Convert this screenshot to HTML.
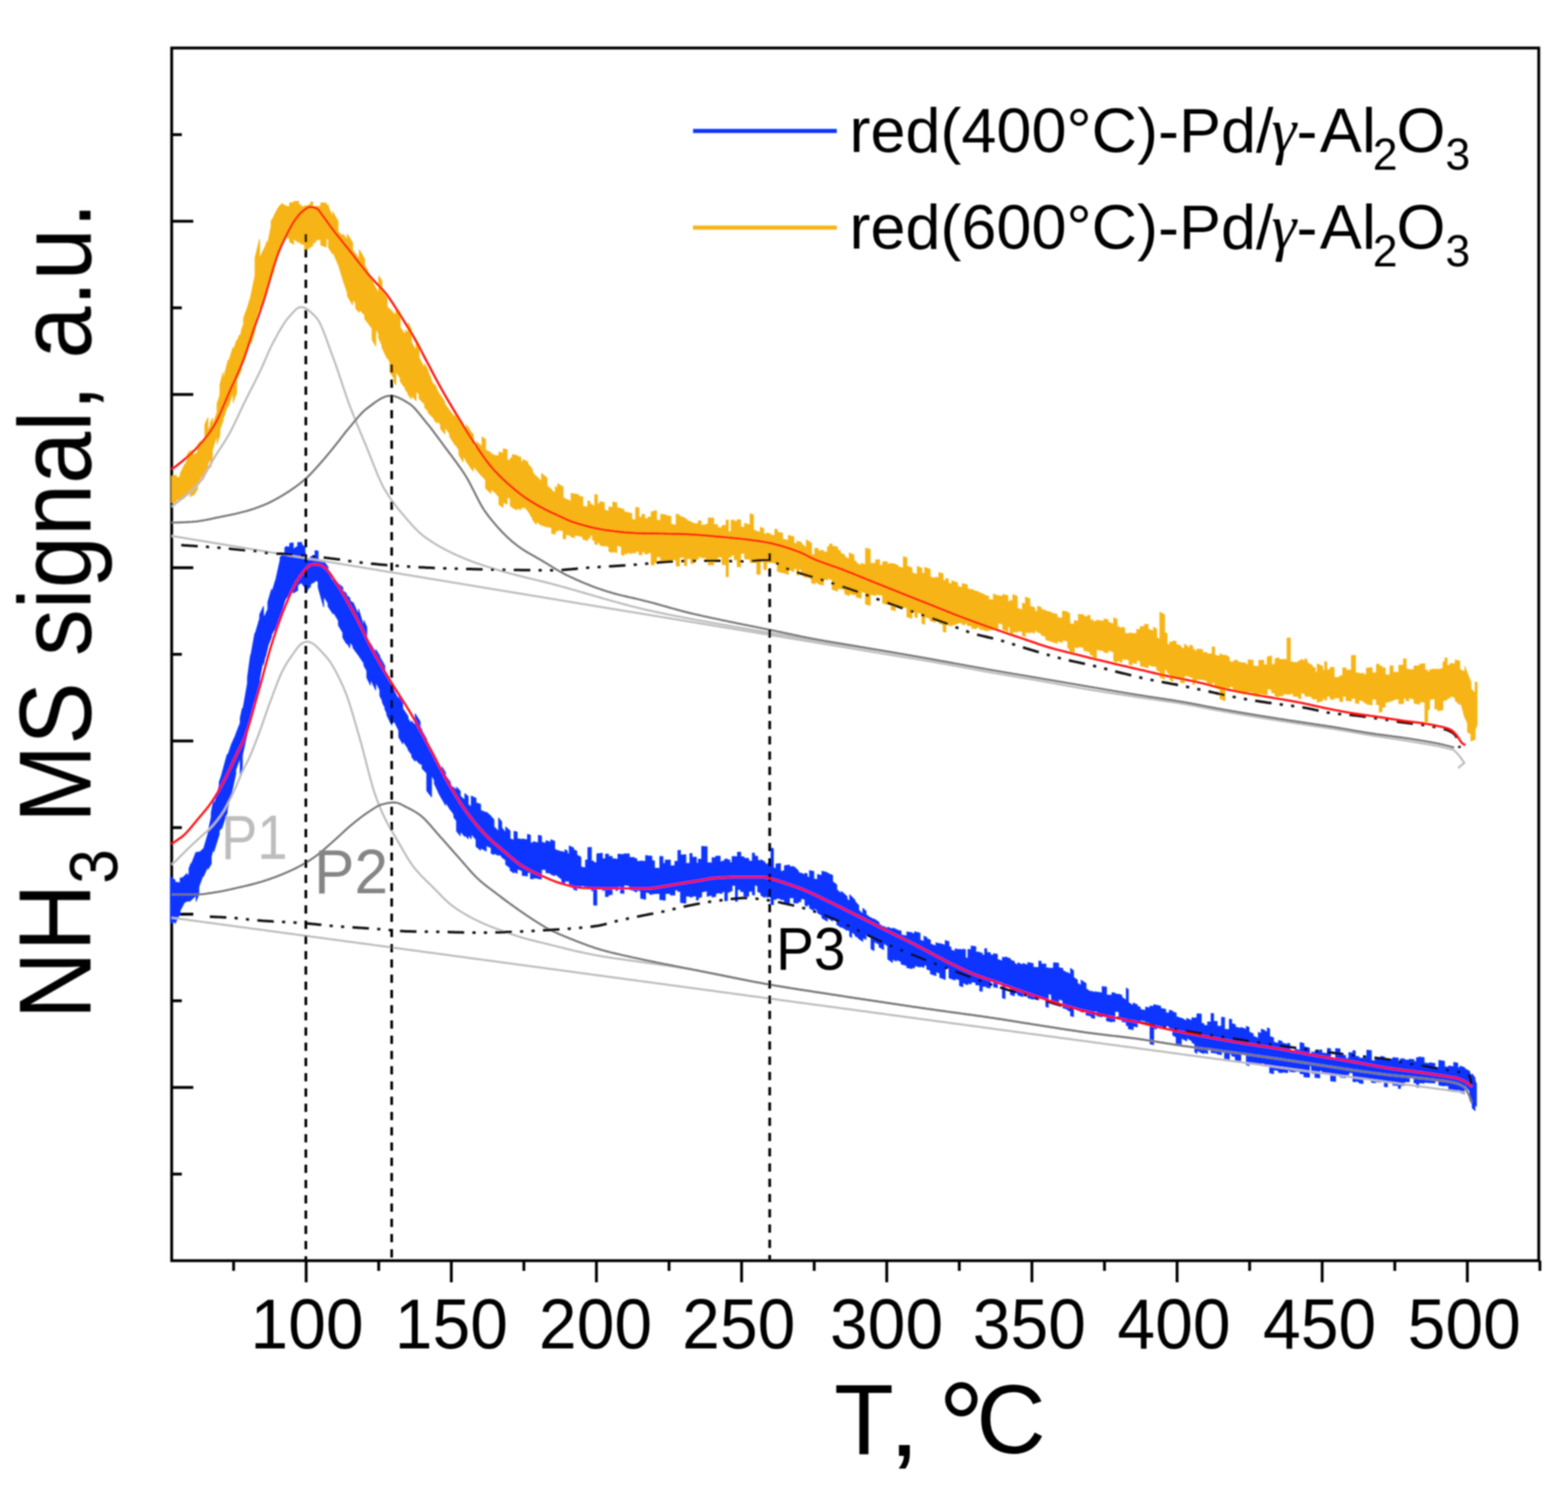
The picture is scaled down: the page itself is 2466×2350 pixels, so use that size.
<!DOCTYPE html><html><head><meta charset="utf-8"><style>html,body{margin:0;padding:0;background:#fff;}svg{display:block;}text{font-family:"Liberation Sans",Arial,sans-serif;font-kerning:none;}</style></head><body>
<svg xmlns="http://www.w3.org/2000/svg" width="2466" height="2350" viewBox="0 0 2466 2350">
<defs><filter id="soft" x="0" y="0" width="100%" height="100%" filterUnits="userSpaceOnUse"><feGaussianBlur stdDeviation="1.3"/></filter></defs>
<rect x="0" y="0" width="2466" height="2350" fill="#fff"/>
<g filter="url(#soft)">
<rect x="270" y="75.5" width="2150" height="1907.5" fill="none" stroke="#000" stroke-width="4.5"/>
<line x1="270" y1="1846.8" x2="286" y2="1846.8" stroke="#000" stroke-width="4.5"/>
<line x1="270" y1="1710.5" x2="304" y2="1710.5" stroke="#000" stroke-width="4.5"/>
<line x1="270" y1="1574.2" x2="286" y2="1574.2" stroke="#000" stroke-width="4.5"/>
<line x1="270" y1="1438.0" x2="304" y2="1438.0" stroke="#000" stroke-width="4.5"/>
<line x1="270" y1="1301.8" x2="286" y2="1301.8" stroke="#000" stroke-width="4.5"/>
<line x1="270" y1="1165.5" x2="304" y2="1165.5" stroke="#000" stroke-width="4.5"/>
<line x1="270" y1="1029.2" x2="286" y2="1029.2" stroke="#000" stroke-width="4.5"/>
<line x1="270" y1="893.0" x2="304" y2="893.0" stroke="#000" stroke-width="4.5"/>
<line x1="270" y1="756.8" x2="286" y2="756.8" stroke="#000" stroke-width="4.5"/>
<line x1="270" y1="620.5" x2="304" y2="620.5" stroke="#000" stroke-width="4.5"/>
<line x1="270" y1="484.2" x2="286" y2="484.2" stroke="#000" stroke-width="4.5"/>
<line x1="270" y1="348.0" x2="304" y2="348.0" stroke="#000" stroke-width="4.5"/>
<line x1="270" y1="211.8" x2="286" y2="211.8" stroke="#000" stroke-width="4.5"/>
<line x1="367.4" y1="1983" x2="367.4" y2="1999" stroke="#000" stroke-width="4.5"/>
<line x1="481.5" y1="1983" x2="481.5" y2="2017" stroke="#000" stroke-width="4.5"/>
<line x1="595.6" y1="1983" x2="595.6" y2="1999" stroke="#000" stroke-width="4.5"/>
<line x1="709.8" y1="1983" x2="709.8" y2="2017" stroke="#000" stroke-width="4.5"/>
<line x1="823.9" y1="1983" x2="823.9" y2="1999" stroke="#000" stroke-width="4.5"/>
<line x1="938.0" y1="1983" x2="938.0" y2="2017" stroke="#000" stroke-width="4.5"/>
<line x1="1052.2" y1="1983" x2="1052.2" y2="1999" stroke="#000" stroke-width="4.5"/>
<line x1="1166.3" y1="1983" x2="1166.3" y2="2017" stroke="#000" stroke-width="4.5"/>
<line x1="1280.5" y1="1983" x2="1280.5" y2="1999" stroke="#000" stroke-width="4.5"/>
<line x1="1394.6" y1="1983" x2="1394.6" y2="2017" stroke="#000" stroke-width="4.5"/>
<line x1="1508.7" y1="1983" x2="1508.7" y2="1999" stroke="#000" stroke-width="4.5"/>
<line x1="1622.9" y1="1983" x2="1622.9" y2="2017" stroke="#000" stroke-width="4.5"/>
<line x1="1737.0" y1="1983" x2="1737.0" y2="1999" stroke="#000" stroke-width="4.5"/>
<line x1="1851.2" y1="1983" x2="1851.2" y2="2017" stroke="#000" stroke-width="4.5"/>
<line x1="1965.3" y1="1983" x2="1965.3" y2="1999" stroke="#000" stroke-width="4.5"/>
<line x1="2079.4" y1="1983" x2="2079.4" y2="2017" stroke="#000" stroke-width="4.5"/>
<line x1="2193.6" y1="1983" x2="2193.6" y2="1999" stroke="#000" stroke-width="4.5"/>
<line x1="2307.7" y1="1983" x2="2307.7" y2="2017" stroke="#000" stroke-width="4.5"/>
<line x1="2421.8" y1="1983" x2="2421.8" y2="1999" stroke="#000" stroke-width="4.5"/>
<text transform="translate(482.9,2120.5) scale(0.965,1)" font-size="110.6" text-anchor="middle" fill="#000">100</text>
<text transform="translate(709.9,2120.5) scale(0.965,1)" font-size="110.6" text-anchor="middle" fill="#000">150</text>
<text transform="translate(936.6,2120.5) scale(0.965,1)" font-size="110.6" text-anchor="middle" fill="#000">200</text>
<text transform="translate(1161.9,2120.5) scale(0.965,1)" font-size="110.6" text-anchor="middle" fill="#000">250</text>
<text transform="translate(1394.2,2120.5) scale(0.965,1)" font-size="110.6" text-anchor="middle" fill="#000">300</text>
<text transform="translate(1618.9,2120.5) scale(0.965,1)" font-size="110.6" text-anchor="middle" fill="#000">350</text>
<text transform="translate(1846.4,2120.5) scale(0.965,1)" font-size="110.6" text-anchor="middle" fill="#000">400</text>
<text transform="translate(2075.4,2120.5) scale(0.965,1)" font-size="110.6" text-anchor="middle" fill="#000">450</text>
<text transform="translate(2302.9,2120.5) scale(0.965,1)" font-size="110.6" text-anchor="middle" fill="#000">500</text>
<text transform="translate(1311.7,2288.1) scale(0.98,1.0065)" font-size="157" fill="#000">T</text>
<text transform="translate(1396.9,2289.5) scale(1.15,1.0)" font-size="157" fill="#000">,</text>
<text transform="translate(1475.6,2309.4) scale(0.96,1.015)" font-size="190" fill="#000">°</text>
<text transform="translate(1535.4,2285.8) scale(0.963,0.985)" font-size="157" fill="#000">C</text>
<text transform="translate(142.5,1603.3) rotate(-90) scale(0.923,1.008)" font-size="160" fill="#000">NH<tspan font-size="106" dy="42">3</tspan><tspan dy="-42"> MS signal, a.u.</tspan></text>
<polygon points="270.0,748.9 273.8,749.6 273.8,747.4 277.2,747.7 277.2,751.4 283.3,750.0 283.3,745.6 290.3,730.4 290.3,733.4 294.5,723.0 294.5,715.1 298.9,709.0 298.9,711.3 303.6,707.7 303.6,716.7 310.6,711.6 310.6,700.0 315.7,693.9 315.7,702.9 318.8,697.4 318.8,696.8 322.1,689.8 322.1,668.0 327.0,656.8 327.0,678.3 330.8,669.5 330.8,665.2 334.0,657.5 334.0,669.1 341.3,649.2 341.3,635.2 345.9,621.1 345.9,604.9 350.8,585.9 350.8,598.2 358.8,566.2 358.8,571.4 366.5,546.5 366.5,552.2 372.2,535.2 372.2,539.3 376.2,527.4 376.2,531.9 379.5,522.2 379.5,519.6 383.0,510.3 383.0,500.6 389.8,481.9 389.8,481.5 394.7,465.5 394.7,464.6 401.1,433.1 401.1,405.7 408.2,376.3 408.2,406.2 416.0,389.9 416.0,391.5 419.8,379.8 419.8,388.7 426.4,356.0 426.4,347.8 431.2,339.8 431.2,338.8 437.3,327.4 437.3,327.2 443.6,319.9 443.6,320.9 450.4,324.3 450.4,324.7 455.5,324.8 455.5,319.1 461.8,318.6 461.8,317.1 469.7,316.7 469.7,322.0 473.3,322.1 473.3,324.8 479.1,325.0 479.1,323.6 484.6,324.0 484.6,322.0 488.6,322.3 488.6,317.5 491.9,317.6 491.9,326.6 496.1,326.9 496.1,324.3 504.3,324.8 504.3,319.1 513.1,319.3 513.1,322.7 516.5,322.7 516.5,325.5 523.2,341.8 523.2,332.9 531.7,348.4 531.7,364.4 539.2,371.7 539.2,368.3 546.2,376.8 546.2,368.4 554.6,381.7 554.6,392.5 559.3,400.6 559.3,399.0 565.0,408.4 565.0,392.8 573.6,407.6 573.6,417.4 579.0,427.2 579.0,428.4 585.1,440.8 585.1,441.0 591.0,453.2 591.0,452.9 595.5,461.5 595.5,433.8 600.7,442.1 600.7,457.5 608.9,468.9 608.9,482.2 613.2,487.6 613.2,486.2 619.6,493.9 619.6,492.9 622.6,496.5 622.6,482.8 629.4,491.4 629.4,515.0 637.7,526.9 637.7,519.0 641.5,525.1 641.5,507.9 647.1,517.7 647.1,538.3 654.4,551.9 654.4,533.2 659.1,542.1 659.1,562.9 667.9,579.9 667.9,572.1 673.2,582.8 673.2,585.2 677.9,595.1 677.9,597.1 683.1,608.1 683.1,603.8 687.2,611.9 687.2,613.0 692.8,622.9 692.8,621.8 699.8,632.9 699.8,635.5 707.1,645.9 707.1,645.9 715.7,657.2 715.7,651.0 721.8,658.6 721.8,660.1 728.5,668.2 728.5,670.3 732.7,675.2 732.7,668.3 738.7,675.7 738.7,676.8 744.5,683.8 744.5,700.9 749.4,706.5 749.4,694.8 758.0,702.8 758.0,687.3 763.7,690.9 763.7,707.9 772.2,712.2 772.2,713.7 780.9,717.3 780.9,716.4 784.6,717.6 784.6,711.0 791.4,713.1 791.4,705.8 797.6,707.3 797.6,723.4 802.5,724.3 802.5,720.4 805.6,720.9 805.6,715.0 813.0,716.3 813.0,717.6 819.1,719.0 819.1,725.6 822.4,726.5 822.4,722.8 830.1,726.6 830.1,729.8 834.0,733.9 834.0,734.2 837.3,738.2 837.3,742.0 843.4,750.0 843.4,748.8 851.6,757.3 851.6,744.8 860.4,751.9 860.4,764.6 867.6,770.0 867.6,771.4 873.4,775.6 873.4,765.4 877.0,767.8 877.0,760.8 885.6,765.9 885.6,782.6 889.7,784.7 889.7,785.0 898.1,788.5 898.1,775.8 903.5,777.4 903.5,776.8 910.1,778.4 910.1,780.4 916.6,781.8 916.6,796.3 924.4,797.7 924.4,787.9 927.8,788.5 927.8,792.6 931.8,793.3 931.8,795.3 935.3,795.9 935.3,777.8 939.6,778.5 939.6,792.2 943.2,792.9 943.2,789.1 950.5,790.5 950.5,802.4 957.6,804.1 957.6,797.1 963.7,798.7 963.7,789.3 970.1,791.1 970.1,798.1 977.3,800.2 977.3,800.2 981.2,801.3 981.2,804.9 985.9,806.2 985.9,805.9 993.6,807.8 993.6,816.8 999.8,818.0 999.8,798.0 1004.9,798.7 1004.9,813.4 1009.6,814.0 1009.6,808.9 1013.9,809.3 1013.9,815.6 1019.1,816.1 1019.1,813.2 1024.1,813.6 1024.1,804.8 1028.7,805.1 1028.7,803.3 1032.7,803.7 1032.7,818.2 1039.1,818.8 1039.1,808.9 1046.6,809.6 1046.6,810.9 1055.1,812.0 1055.1,824.4 1063.4,826.3 1063.4,808.7 1068.6,810.2 1068.6,811.9 1076.3,814.3 1076.3,815.3 1080.0,816.5 1080.0,818.6 1086.5,820.5 1086.5,821.6 1091.0,822.8 1091.0,823.3 1094.5,824.0 1094.5,823.5 1098.2,824.1 1098.2,819.1 1102.6,819.4 1102.6,825.9 1110.5,825.9 1110.5,824.6 1113.8,824.6 1113.8,814.8 1122.3,814.8 1122.3,825.1 1128.7,825.1 1128.7,830.0 1135.6,830.0 1135.6,826.5 1142.0,826.5 1142.0,818.0 1145.5,818.0 1145.5,836.4 1149.9,836.4 1149.9,818.2 1154.8,818.2 1154.8,820.0 1159.4,820.2 1159.4,817.3 1164.9,818.1 1164.9,828.3 1171.0,829.8 1171.0,823.0 1179.6,825.7 1179.6,808.0 1185.0,809.9 1185.0,833.6 1190.2,835.6 1190.2,835.6 1195.7,837.5 1195.7,829.4 1201.1,831.2 1201.1,839.3 1205.7,840.6 1205.7,838.3 1211.6,839.7 1211.6,841.3 1218.6,842.7 1218.6,832.3 1222.5,833.1 1222.5,837.1 1230.8,838.7 1230.8,848.0 1239.8,849.9 1239.8,842.0 1248.5,844.3 1248.5,854.0 1253.3,855.5 1253.3,851.2 1256.4,852.3 1256.4,851.4 1260.6,853.8 1260.6,855.5 1268.1,861.6 1268.1,849.0 1276.3,854.5 1276.3,872.1 1281.4,872.9 1281.4,862.7 1286.7,862.4 1286.7,866.5 1295.0,865.7 1295.0,868.5 1301.4,867.9 1301.4,860.2 1304.6,860.0 1304.6,855.9 1308.7,855.7 1308.7,859.0 1317.2,860.3 1317.2,864.7 1321.5,866.4 1321.5,869.4 1328.6,873.1 1328.6,875.7 1335.7,879.6 1335.7,869.7 1343.0,873.1 1343.0,881.4 1346.7,883.2 1346.7,885.5 1354.4,889.6 1354.4,885.7 1361.2,888.9 1361.2,862.3 1368.7,864.2 1368.7,886.2 1377.1,886.1 1377.1,880.9 1383.2,880.4 1383.2,889.4 1388.1,888.9 1388.1,883.9 1395.2,883.3 1395.2,887.0 1401.6,886.7 1401.6,886.6 1408.0,887.1 1408.0,888.4 1412.6,889.3 1412.6,891.5 1420.7,893.7 1420.7,875.6 1426.3,877.3 1426.3,890.6 1434.2,893.0 1434.2,900.8 1438.8,902.4 1438.8,902.3 1442.5,903.7 1442.5,890.9 1449.9,894.0 1449.9,900.8 1454.3,902.7 1454.3,892.3 1462.9,895.6 1462.9,907.4 1471.1,910.0 1471.1,907.6 1476.5,909.2 1476.5,900.7 1483.2,902.6 1483.2,912.6 1487.5,913.9 1487.5,909.7 1491.4,910.8 1491.4,917.2 1496.9,918.8 1496.9,913.5 1501.5,914.8 1501.5,915.5 1506.0,916.7 1506.0,922.3 1513.3,924.3 1513.3,917.9 1518.0,919.3 1518.0,918.9 1521.4,920.0 1521.4,925.6 1528.3,928.1 1528.3,927.1 1535.9,930.8 1535.9,929.9 1541.1,932.5 1541.1,932.3 1548.0,935.4 1548.0,935.9 1554.9,938.0 1554.9,942.9 1562.2,944.2 1562.2,934.8 1565.7,935.2 1565.7,936.5 1569.5,937.0 1569.5,936.9 1577.0,938.0 1577.0,934.9 1585.1,937.0 1585.1,945.9 1588.5,947.3 1588.5,943.9 1592.9,945.8 1592.9,935.1 1599.9,938.3 1599.9,956.5 1608.0,959.5 1608.0,948.6 1612.7,950.2 1612.7,939.3 1619.8,941.7 1619.8,953.3 1627.4,955.7 1627.4,961.1 1631.7,962.4 1631.7,953.5 1637.4,955.2 1637.4,958.3 1644.8,960.3 1644.8,961.1 1653.8,963.3 1653.8,964.4 1662.5,966.4 1662.5,971.0 1671.0,972.7 1671.0,961.1 1679.2,962.7 1679.2,964.4 1682.4,965.0 1682.4,980.9 1689.5,982.1 1689.5,976.2 1696.0,977.3 1696.0,966.1 1704.5,967.3 1704.5,969.7 1710.5,970.4 1710.5,967.9 1714.4,968.3 1714.4,974.9 1718.9,975.4 1718.9,977.3 1724.4,977.8 1724.4,975.5 1727.8,975.9 1727.8,976.2 1736.2,977.4 1736.2,973.7 1742.7,974.8 1742.7,978.4 1751.5,981.7 1751.5,971.5 1756.9,974.4 1756.9,984.9 1764.6,988.8 1764.6,986.4 1768.9,987.9 1768.9,996.3 1775.7,996.8 1775.7,995.9 1780.3,995.9 1780.3,996.5 1787.7,996.5 1787.7,990.2 1793.3,990.2 1793.3,985.5 1800.1,985.5 1800.1,982.1 1805.8,982.2 1805.8,989.6 1814.2,992.5 1814.2,986.4 1819.1,989.2 1819.1,1002.7 1824.1,1005.9 1824.1,962.8 1831.6,967.0 1831.6,995.0 1835.5,996.4 1835.5,1013.3 1839.6,1014.4 1839.6,1009.7 1844.7,1010.9 1844.7,1008.1 1849.6,1009.2 1849.6,1013.7 1856.9,1015.7 1856.9,1018.1 1862.8,1020.8 1862.8,1013.0 1871.3,1019.9 1871.3,1014.6 1875.8,1016.2 1875.8,1021.4 1879.0,1021.6 1879.0,1024.0 1882.3,1024.3 1882.3,1021.1 1891.1,1021.5 1891.1,1026.1 1898.3,1026.3 1898.3,1028.3 1906.3,1028.6 1906.3,1017.6 1910.3,1017.9 1910.3,1030.7 1918.8,1032.2 1918.8,1028.4 1926.6,1032.0 1926.6,1030.0 1933.3,1033.9 1933.3,1039.8 1939.3,1043.1 1939.3,1039.5 1942.3,1040.9 1942.3,1037.7 1946.5,1039.3 1946.5,1041.2 1953.5,1042.3 1953.5,1042.3 1959.6,1043.0 1959.6,1045.4 1962.9,1045.7 1962.9,1037.9 1970.9,1038.7 1970.9,1047.7 1979.7,1048.3 1979.7,1038.5 1987.6,1038.7 1987.6,1046.0 1993.0,1045.7 1993.0,1033.6 1999.9,1031.7 1999.9,1046.2 2005.3,1044.3 2005.3,1036.3 2011.3,1034.7 2011.3,1037.5 2017.7,1037.2 2017.7,1037.3 2024.1,1037.3 2024.1,1003.5 2029.3,1003.5 2029.3,1041.3 2034.0,1041.3 2034.0,1042.0 2042.0,1042.1 2042.0,1039.3 2046.0,1040.2 2046.0,1037.1 2052.2,1039.9 2052.2,1035.9 2055.8,1037.9 2055.8,1042.4 2063.7,1046.5 2063.7,1048.7 2068.5,1050.7 2068.5,1056.8 2071.6,1058.2 2071.6,1044.4 2080.2,1048.0 2080.2,1053.9 2083.2,1054.9 2083.2,1040.7 2086.7,1041.5 2086.7,1053.4 2092.1,1053.7 2092.1,1049.8 2098.2,1049.8 2098.2,1065.5 2107.0,1065.5 2107.0,1062.9 2111.7,1062.9 2111.7,1050.6 2116.9,1050.6 2116.9,1054.0 2125.4,1054.0 2125.4,1031.0 2131.8,1030.9 2131.8,1058.7 2137.0,1058.4 2137.0,1059.8 2145.0,1059.0 2145.0,1061.6 2149.0,1061.2 2149.0,1051.1 2158.0,1050.2 2158.0,1058.6 2164.8,1058.2 2164.8,1044.8 2169.1,1044.8 2169.1,1047.8 2173.7,1047.8 2173.7,1050.6 2178.6,1050.6 2178.6,1061.7 2186.0,1061.7 2186.0,1047.3 2190.9,1047.3 2190.9,1057.6 2199.9,1057.6 2199.9,1046.3 2207.2,1046.3 2207.2,1036.4 2211.5,1036.3 2211.5,1052.6 2215.5,1052.5 2215.5,1053.4 2223.9,1053.2 2223.9,1047.5 2232.7,1047.2 2232.7,1044.5 2241.0,1044.1 2241.0,1054.3 2245.2,1053.9 2245.2,1057.2 2248.3,1056.8 2248.3,1053.9 2256.7,1052.0 2256.7,1053.5 2261.0,1052.4 2261.0,1053.3 2269.3,1051.3 2269.3,1041.3 2272.4,1040.7 2272.4,1035.2 2275.8,1034.8 2275.8,1046.6 2280.6,1046.4 2280.6,1043.5 2288.6,1044.3 2288.6,1038.0 2295.8,1039.9 2295.8,1052.7 2303.9,1056.9 2303.9,1048.0 2308.0,1060.5 2308.0,1059.7 2313.3,1073.1 2313.3,1083.3 2320.0,1090.5 2320.0,1072.6 2323.0,1073.6 2323.0,1140.3 2320.0,1147.7 2320.0,1162.7 2313.3,1165.6 2313.3,1154.5 2308.0,1151.7 2308.0,1137.5 2303.9,1128.4 2303.9,1129.4 2295.8,1100.7 2295.8,1108.5 2288.6,1101.6 2288.6,1097.3 2280.6,1094.4 2280.6,1097.9 2275.8,1098.1 2275.8,1101.1 2272.4,1101.5 2272.4,1101.7 2269.3,1102.2 2269.3,1116.3 2261.0,1118.2 2261.0,1114.5 2256.7,1115.5 2256.7,1099.0 2248.3,1100.5 2248.3,1115.9 2245.2,1116.3 2245.2,1135.8 2241.0,1135.9 2241.0,1104.5 2232.7,1103.6 2232.7,1107.9 2223.9,1106.0 2223.9,1099.6 2215.5,1097.7 2215.5,1102.6 2211.5,1101.9 2211.5,1098.4 2207.2,1097.9 2207.2,1106.8 2199.9,1106.9 2199.9,1099.2 2190.9,1100.7 2190.9,1102.0 2186.0,1103.1 2186.0,1103.3 2178.6,1105.0 2178.6,1111.8 2173.7,1112.7 2173.7,1119.6 2169.1,1120.1 2169.1,1108.4 2164.8,1108.5 2164.8,1100.1 2158.0,1099.5 2158.0,1109.0 2149.0,1107.4 2149.0,1105.7 2145.0,1104.9 2145.0,1102.6 2137.0,1100.9 2137.0,1106.7 2131.8,1105.8 2131.8,1098.8 2125.4,1098.0 2125.4,1102.7 2116.9,1101.8 2116.9,1095.3 2111.7,1094.7 2111.7,1103.6 2107.0,1103.2 2107.0,1098.0 2098.2,1097.4 2098.2,1100.0 2092.1,1099.8 2092.1,1094.8 2086.7,1095.1 2086.7,1100.6 2083.2,1101.3 2083.2,1098.1 2080.2,1098.9 2080.2,1102.1 2071.6,1104.6 2071.6,1099.2 2068.5,1099.7 2068.5,1099.4 2063.7,1099.4 2063.7,1096.7 2055.8,1094.2 2055.8,1095.9 2052.2,1094.3 2052.2,1091.6 2046.0,1089.0 2046.0,1099.2 2042.0,1098.2 2042.0,1095.3 2034.0,1095.2 2034.0,1090.9 2029.3,1090.9 2029.3,1091.9 2024.1,1091.9 2024.1,1091.7 2017.7,1091.7 2017.7,1094.7 2011.3,1094.5 2011.3,1096.0 2005.3,1094.9 2005.3,1090.6 1999.9,1089.2 1999.9,1084.8 1993.0,1083.1 1993.0,1092.9 1987.6,1091.9 1987.6,1092.0 1979.7,1090.4 1979.7,1095.9 1970.9,1094.4 1970.9,1088.4 1962.9,1088.0 1962.9,1090.1 1959.6,1090.1 1959.6,1091.8 1953.5,1091.8 1953.5,1086.8 1946.5,1086.8 1946.5,1088.6 1942.3,1088.6 1942.3,1086.0 1939.3,1086.0 1939.3,1080.5 1933.3,1079.7 1933.3,1082.9 1926.6,1080.5 1926.6,1102.3 1918.8,1098.9 1918.8,1084.3 1910.3,1081.6 1910.3,1074.0 1906.3,1073.0 1906.3,1077.1 1898.3,1075.2 1898.3,1070.6 1891.1,1069.1 1891.1,1069.2 1882.3,1067.8 1882.3,1070.8 1879.0,1070.4 1879.0,1076.4 1875.8,1076.1 1875.8,1065.4 1871.3,1064.9 1871.3,1063.6 1862.8,1062.7 1862.8,1074.3 1856.9,1073.5 1856.9,1065.9 1849.6,1064.5 1849.6,1065.1 1844.7,1062.8 1844.7,1072.2 1839.6,1068.8 1839.6,1060.3 1835.5,1057.8 1835.5,1054.4 1831.6,1052.5 1831.6,1068.3 1824.1,1065.1 1824.1,1055.9 1819.1,1054.0 1819.1,1049.0 1814.2,1047.3 1814.2,1048.3 1805.8,1045.7 1805.8,1050.3 1800.1,1048.9 1800.1,1048.6 1793.3,1047.3 1793.3,1039.4 1787.7,1038.5 1787.7,1043.8 1780.3,1042.5 1780.3,1046.1 1775.7,1045.1 1775.7,1038.3 1768.9,1036.2 1768.9,1037.7 1764.6,1035.7 1764.6,1042.1 1756.9,1038.2 1756.9,1042.1 1751.5,1039.4 1751.5,1025.7 1742.7,1022.5 1742.7,1027.0 1736.2,1025.6 1736.2,1023.6 1727.8,1022.3 1727.8,1021.9 1724.4,1021.5 1724.4,1036.1 1718.9,1035.4 1718.9,1030.3 1714.4,1029.6 1714.4,1025.4 1710.5,1024.7 1710.5,1024.3 1704.5,1023.2 1704.5,1018.7 1696.0,1017.0 1696.0,1019.0 1689.5,1017.7 1689.5,1026.5 1682.4,1024.9 1682.4,1020.1 1679.2,1019.3 1679.2,1008.6 1671.0,1006.4 1671.0,1010.6 1662.5,1008.0 1662.5,1012.0 1653.8,1009.3 1653.8,1009.1 1644.8,1006.2 1644.8,1001.4 1637.4,998.8 1637.4,996.3 1631.7,994.4 1631.7,992.9 1627.4,991.6 1627.4,995.7 1619.8,994.1 1619.8,995.4 1612.7,994.5 1612.7,1000.9 1608.0,1000.5 1608.0,993.3 1599.9,992.5 1599.9,994.3 1592.9,993.5 1592.9,998.1 1588.5,997.4 1588.5,986.2 1585.1,985.4 1585.1,993.1 1577.0,990.5 1577.0,982.0 1569.5,979.6 1569.5,989.1 1565.7,988.1 1565.7,989.9 1562.2,989.2 1562.2,991.0 1554.9,990.3 1554.9,992.1 1548.0,991.6 1548.0,990.3 1541.1,990.0 1541.1,986.9 1535.9,986.7 1535.9,988.8 1528.3,988.5 1528.3,984.4 1521.4,984.0 1521.4,980.5 1518.0,980.3 1518.0,982.6 1513.3,982.3 1513.3,980.2 1506.0,979.5 1506.0,981.4 1501.5,980.9 1501.5,983.2 1496.9,982.6 1496.9,984.3 1491.4,983.5 1491.4,982.2 1487.5,981.4 1487.5,994.5 1483.2,993.3 1483.2,982.1 1476.5,980.0 1476.5,974.5 1471.1,972.6 1471.1,979.0 1462.9,976.1 1462.9,973.1 1454.3,969.9 1454.3,982.3 1449.9,980.5 1449.9,965.9 1442.5,962.8 1442.5,971.8 1438.8,970.3 1438.8,962.2 1434.2,960.5 1434.2,972.7 1426.3,970.1 1426.3,956.5 1420.7,954.8 1420.7,956.2 1412.6,953.8 1412.6,954.4 1408.0,953.0 1408.0,960.6 1401.6,958.8 1401.6,951.3 1395.2,949.4 1395.2,950.8 1388.1,948.6 1388.1,936.8 1383.2,935.3 1383.2,936.2 1377.1,934.4 1377.1,936.9 1368.7,934.7 1368.7,952.2 1361.2,950.5 1361.2,932.2 1354.4,930.7 1354.4,940.8 1346.7,939.1 1346.7,935.7 1343.0,934.7 1343.0,935.8 1335.7,933.5 1335.7,936.9 1328.6,934.2 1328.6,928.2 1321.5,925.2 1321.5,926.6 1317.2,924.8 1317.2,930.0 1308.7,926.9 1308.7,912.0 1304.6,910.8 1304.6,910.5 1301.4,909.6 1301.4,912.5 1295.0,910.8 1295.0,920.6 1286.7,918.2 1286.7,917.1 1281.4,915.3 1281.4,918.8 1276.3,916.5 1276.3,910.9 1268.1,905.9 1268.1,908.7 1260.6,904.0 1260.6,896.6 1256.4,894.3 1256.4,905.1 1253.3,903.8 1253.3,895.6 1248.5,893.4 1248.5,899.3 1239.8,895.5 1239.8,903.8 1230.8,900.2 1230.8,901.2 1222.5,898.4 1222.5,885.7 1218.6,884.6 1218.6,885.8 1211.6,884.2 1211.6,885.1 1205.7,884.3 1205.7,895.9 1201.1,895.6 1201.1,883.3 1195.7,882.9 1195.7,903.4 1190.2,903.1 1190.2,884.9 1185.0,884.6 1185.0,884.9 1179.6,884.6 1179.6,879.5 1171.0,879.1 1171.0,870.4 1164.9,870.2 1164.9,891.6 1159.4,891.5 1159.4,880.5 1154.8,880.5 1154.8,873.2 1149.9,873.2 1149.9,876.4 1145.5,876.4 1145.5,907.2 1142.0,907.2 1142.0,888.1 1135.6,888.1 1135.6,876.1 1128.7,876.1 1128.7,880.8 1122.3,880.8 1122.3,888.7 1113.8,888.7 1113.8,881.8 1110.5,881.8 1110.5,877.2 1102.6,877.2 1102.6,875.9 1098.2,875.8 1098.2,879.8 1094.5,879.8 1094.5,883.3 1091.0,883.2 1091.0,886.4 1086.5,886.2 1086.5,878.7 1080.0,878.3 1080.0,890.0 1076.3,889.8 1076.3,876.8 1068.6,876.3 1068.6,890.6 1063.4,890.2 1063.4,880.8 1055.1,880.2 1055.1,882.3 1046.6,881.8 1046.6,885.4 1039.1,884.8 1039.1,876.1 1032.7,875.5 1032.7,885.0 1028.7,884.7 1028.7,888.9 1024.1,888.5 1024.1,869.7 1019.1,869.2 1019.1,871.3 1013.9,870.8 1013.9,868.1 1009.6,867.6 1009.6,872.9 1004.9,872.3 1004.9,867.5 999.8,866.7 999.8,870.2 993.6,868.9 993.6,870.8 985.9,868.7 985.9,871.6 981.2,870.1 981.2,873.7 977.3,872.4 977.3,860.0 970.1,857.4 970.1,869.5 963.7,867.2 963.7,869.2 957.6,867.2 957.6,859.9 950.5,857.8 950.5,859.2 943.2,857.3 943.2,853.9 939.6,853.0 939.6,856.6 935.3,855.5 935.3,850.2 931.8,849.3 931.8,842.5 927.8,841.6 927.8,846.8 924.4,845.9 924.4,850.1 916.6,848.2 916.6,844.3 910.1,842.7 910.1,843.0 903.5,841.4 903.5,845.6 898.1,844.3 898.1,842.5 889.7,840.7 889.7,848.0 885.6,847.3 885.6,835.0 877.0,833.3 877.0,835.7 873.4,834.9 873.4,840.2 867.6,838.9 867.6,830.2 860.4,828.2 860.4,829.1 851.6,825.8 851.6,826.4 843.4,820.1 843.4,825.0 837.3,817.0 837.3,814.7 834.0,810.3 834.0,808.8 830.1,803.8 830.1,802.7 822.4,796.1 822.4,799.4 819.1,797.4 819.1,801.9 813.0,798.6 813.0,802.0 805.6,798.4 805.6,797.4 802.5,796.0 802.5,784.3 797.6,781.9 797.6,793.2 791.4,789.8 791.4,798.2 784.6,793.6 784.6,780.7 780.9,777.8 780.9,776.9 772.2,769.2 772.2,776.2 763.7,767.8 763.7,755.0 758.0,748.8 758.0,749.2 749.4,739.2 749.4,739.0 744.5,733.1 744.5,741.1 738.7,734.0 738.7,733.2 732.7,725.3 732.7,723.4 728.5,717.3 728.5,726.7 721.8,715.8 721.8,708.3 715.7,698.1 715.7,700.2 707.1,686.5 707.1,682.2 699.8,672.2 699.8,682.7 692.8,674.4 692.8,667.7 687.2,661.8 687.2,665.5 683.1,661.4 683.1,658.9 677.9,653.8 677.9,653.6 673.2,649.1 673.2,646.2 667.9,641.1 667.9,635.9 659.1,626.9 659.1,620.3 654.4,615.2 654.4,630.4 647.1,621.5 647.1,627.6 641.5,620.4 641.5,618.0 637.7,613.1 637.7,611.2 629.4,599.7 629.4,594.4 622.6,584.4 622.6,605.3 619.6,600.7 619.6,595.0 613.2,584.6 613.2,569.8 608.9,561.9 608.9,563.8 600.7,546.5 600.7,542.9 595.5,531.7 595.5,525.6 591.0,516.5 591.0,544.4 585.1,534.3 585.1,516.9 579.0,508.4 579.0,508.1 573.6,501.7 573.6,495.9 565.0,486.4 565.0,491.5 559.3,484.8 559.3,476.9 554.6,470.5 554.6,479.7 546.2,465.3 546.2,460.3 539.2,440.0 539.2,439.9 531.7,414.7 531.7,415.7 523.2,395.4 523.2,399.4 516.5,389.2 516.5,376.8 513.1,374.9 513.1,388.6 504.3,385.5 504.3,376.3 496.1,378.2 496.1,381.1 491.9,382.8 491.9,386.9 488.6,387.7 488.6,389.0 484.6,390.4 484.6,392.0 479.1,396.4 479.1,384.4 473.3,383.9 473.3,383.4 469.7,378.2 469.7,381.7 461.8,375.4 461.8,384.2 455.5,380.2 455.5,375.7 450.4,372.1 450.4,372.5 443.6,384.4 443.6,381.6 437.3,403.7 437.3,398.5 431.2,415.2 431.2,425.0 426.4,436.6 426.4,438.1 419.8,454.5 419.8,456.1 416.0,466.3 416.0,462.1 408.2,486.2 408.2,481.5 401.1,506.1 401.1,519.3 394.7,540.9 394.7,532.8 389.8,549.5 389.8,548.8 383.0,571.0 383.0,565.9 379.5,576.0 379.5,580.4 376.2,589.3 376.2,588.0 372.2,598.4 372.2,617.3 366.5,633.3 366.5,616.8 358.8,640.0 358.8,635.6 350.8,659.7 350.8,661.1 345.9,675.8 345.9,683.6 341.3,698.2 341.3,684.0 334.0,708.4 334.0,726.8 330.8,736.0 330.8,721.1 327.0,730.1 327.0,736.2 322.1,746.2 322.1,749.3 318.8,755.3 318.8,746.8 315.7,752.0 315.7,752.4 310.6,760.4 310.6,769.4 303.6,780.0 303.6,776.3 298.9,781.5 298.9,772.1 294.5,775.0 294.5,779.1 290.3,781.2 290.3,783.8 283.3,786.1 283.3,786.1 277.2,785.9 277.2,790.4 273.8,789.4 273.8,791.8 270.0,790.1" fill="#F7B416" stroke="#F7B416" stroke-width="1.2" stroke-linejoin="round"/>
<polygon points="268.0,1380.1 275.2,1384.1 275.2,1387.6 283.3,1388.5 283.3,1381.3 288.8,1380.1 288.8,1379.1 294.1,1373.9 294.1,1378.8 297.2,1374.5 297.2,1366.5 300.3,1358.0 300.3,1360.9 308.4,1340.1 308.4,1341.8 312.8,1339.7 312.8,1341.8 319.9,1334.9 319.9,1336.4 327.2,1311.1 327.2,1308.3 332.2,1285.7 332.2,1279.0 336.2,1255.7 336.2,1268.4 344.8,1235.4 344.8,1230.3 348.5,1219.4 348.5,1219.2 357.3,1186.6 357.3,1190.8 363.5,1172.4 363.5,1171.9 370.8,1155.7 370.8,1155.0 377.8,1137.2 377.8,1129.6 381.1,1114.1 381.1,1121.1 389.2,1074.8 389.2,1065.8 394.0,1030.5 394.0,1033.8 400.8,996.1 400.8,998.8 408.4,972.6 408.4,966.5 414.4,953.9 414.4,970.8 417.5,966.9 417.5,966.2 421.2,958.6 421.2,947.1 427.1,926.8 427.1,933.6 433.0,913.4 433.0,915.1 440.5,881.1 440.5,876.7 448.0,868.8 448.0,861.2 451.5,859.2 451.5,861.0 455.6,859.8 455.6,854.6 461.1,853.9 461.1,863.7 468.2,859.3 468.2,853.4 474.5,853.0 474.5,856.2 479.7,861.3 479.7,868.1 483.6,881.9 483.6,880.4 488.3,882.1 488.3,875.4 495.4,876.4 495.4,866.1 500.3,866.9 500.3,880.0 509.0,881.7 509.0,882.2 515.9,892.0 515.9,895.5 523.8,916.6 523.8,908.7 532.2,918.5 532.2,918.3 539.1,924.0 539.1,928.9 544.9,933.6 544.9,936.3 550.2,940.6 550.2,943.9 555.1,949.4 555.1,947.3 563.8,967.2 563.8,958.0 572.2,985.7 572.2,976.0 576.9,986.5 576.9,1003.2 582.6,1014.6 582.6,1012.1 591.0,1026.8 591.0,1021.8 597.3,1031.8 597.3,1033.7 601.2,1040.3 601.2,1040.3 605.3,1047.9 605.3,1055.3 608.4,1061.7 608.4,1063.5 616.3,1079.6 616.3,1074.3 619.6,1081.2 619.6,1085.7 627.1,1101.2 627.1,1092.2 633.4,1103.2 633.4,1114.7 641.7,1126.7 641.7,1130.6 647.6,1138.6 647.6,1134.0 652.8,1141.7 652.8,1122.5 660.8,1135.2 660.8,1143.2 663.8,1148.4 663.8,1149.8 671.1,1162.7 671.1,1170.2 678.7,1185.9 678.7,1181.8 683.1,1190.7 683.1,1191.2 689.3,1202.4 689.3,1202.2 694.9,1211.6 694.9,1206.1 700.7,1215.2 700.7,1220.1 708.5,1230.7 708.5,1234.1 713.7,1240.6 713.7,1238.5 718.0,1243.6 718.0,1238.2 723.9,1244.4 723.9,1252.1 731.0,1258.8 731.0,1248.3 736.3,1253.0 736.3,1265.4 741.1,1268.9 741.1,1252.0 748.7,1255.7 748.7,1262.9 755.9,1265.0 755.9,1274.5 764.8,1278.2 764.8,1277.4 772.4,1283.9 772.4,1284.7 776.9,1289.3 776.9,1300.4 784.1,1307.7 784.1,1286.7 789.0,1292.7 789.0,1301.9 795.2,1309.7 795.2,1300.8 802.2,1307.0 802.2,1319.3 808.4,1321.5 808.4,1307.5 813.4,1308.8 813.4,1319.1 821.2,1320.6 821.2,1319.5 829.5,1321.0 829.5,1312.4 834.2,1313.5 834.2,1325.6 838.2,1326.6 838.2,1323.9 846.7,1325.9 846.7,1313.8 851.7,1315.1 851.7,1324.7 858.6,1326.6 858.6,1322.3 866.2,1324.7 866.2,1320.9 872.4,1323.3 872.4,1335.9 877.9,1338.3 877.9,1337.8 883.5,1340.4 883.5,1339.0 888.4,1341.4 888.4,1336.5 892.1,1338.3 892.1,1342.1 895.2,1343.6 895.2,1330.5 902.1,1333.7 902.1,1336.5 907.2,1338.9 907.2,1344.9 913.6,1348.3 913.6,1363.7 920.9,1365.0 920.9,1352.8 924.5,1352.6 924.5,1333.3 930.0,1332.8 930.0,1354.7 933.6,1354.3 933.6,1357.1 938.6,1356.5 938.6,1343.1 947.3,1342.1 947.3,1350.9 952.2,1350.6 952.2,1343.5 957.0,1343.4 957.0,1347.1 962.8,1347.1 962.8,1350.9 968.2,1350.9 968.2,1351.7 971.8,1351.7 971.8,1343.5 975.9,1343.5 975.9,1344.2 981.3,1344.2 981.3,1343.1 989.8,1343.1 989.8,1348.8 997.9,1348.9 997.9,1350.5 1001.5,1350.7 1001.5,1354.5 1007.6,1355.0 1007.6,1354.1 1015.3,1355.0 1015.3,1345.7 1021.5,1346.5 1021.5,1346.4 1025.2,1346.9 1025.2,1353.7 1029.3,1354.2 1029.3,1365.3 1037.7,1366.2 1037.7,1347.0 1042.7,1347.4 1042.7,1357.9 1046.2,1358.1 1046.2,1352.9 1054.3,1352.9 1054.3,1362.0 1061.4,1361.7 1061.4,1354.9 1066.1,1354.6 1066.1,1337.9 1070.2,1337.6 1070.2,1345.0 1078.7,1344.3 1078.7,1358.1 1085.0,1357.9 1085.0,1342.7 1088.4,1342.6 1088.4,1348.2 1095.2,1348.3 1095.2,1357.6 1098.3,1357.8 1098.3,1351.4 1103.5,1351.7 1103.5,1331.3 1112.1,1331.9 1112.1,1356.8 1119.9,1357.3 1119.9,1349.1 1125.6,1349.3 1125.6,1346.8 1132.6,1346.6 1132.6,1355.7 1136.0,1355.5 1136.0,1354.3 1139.8,1354.1 1139.8,1351.3 1144.0,1351.0 1144.0,1353.0 1147.8,1352.7 1147.8,1356.9 1151.3,1356.6 1151.3,1347.3 1156.6,1347.0 1156.6,1347.7 1159.8,1347.5 1159.8,1340.5 1165.0,1340.4 1165.0,1347.4 1169.9,1347.5 1169.9,1349.8 1177.5,1350.3 1177.5,1354.1 1183.2,1354.6 1183.2,1341.9 1186.8,1342.2 1186.8,1346.4 1191.7,1347.0 1191.7,1352.7 1196.7,1354.4 1196.7,1352.3 1202.9,1355.9 1202.9,1357.4 1207.9,1360.6 1207.9,1357.4 1212.5,1360.0 1212.5,1333.7 1216.4,1335.1 1216.4,1365.3 1220.3,1365.6 1220.3,1359.0 1227.5,1358.4 1227.5,1370.7 1233.7,1369.7 1233.7,1361.8 1241.6,1360.7 1241.6,1363.4 1248.4,1363.2 1248.4,1363.1 1255.2,1369.2 1255.2,1370.9 1259.4,1374.8 1259.4,1373.2 1266.0,1375.8 1266.0,1373.5 1269.5,1374.6 1269.5,1379.4 1273.1,1380.3 1273.1,1369.4 1279.9,1370.8 1279.9,1382.6 1285.7,1383.6 1285.7,1375.6 1292.7,1377.0 1292.7,1370.3 1301.1,1372.6 1301.1,1373.4 1309.5,1377.1 1309.5,1386.8 1316.0,1391.7 1316.0,1399.3 1323.1,1405.8 1323.1,1402.0 1332.1,1410.2 1332.1,1413.9 1336.3,1418.0 1336.3,1407.4 1339.4,1410.6 1339.4,1410.5 1344.8,1416.2 1344.8,1418.1 1350.5,1424.1 1350.5,1431.3 1357.0,1437.8 1357.0,1428.8 1362.0,1433.2 1362.0,1438.6 1369.9,1444.4 1369.9,1443.6 1374.6,1446.8 1374.6,1445.6 1382.5,1450.7 1382.5,1453.7 1389.7,1457.9 1389.7,1457.2 1396.2,1460.5 1396.2,1458.3 1403.7,1461.7 1403.7,1459.7 1409.7,1461.8 1409.7,1462.7 1417.2,1464.7 1417.2,1470.7 1426.1,1472.3 1426.1,1465.9 1434.4,1467.2 1434.4,1468.1 1438.4,1468.9 1438.4,1465.5 1447.0,1467.8 1447.0,1478.6 1453.1,1481.0 1453.1,1472.6 1457.6,1474.6 1457.6,1476.2 1463.3,1478.7 1463.3,1484.7 1472.0,1488.1 1472.0,1482.7 1478.0,1484.7 1478.0,1484.1 1486.6,1486.9 1486.6,1479.3 1492.5,1481.2 1492.5,1488.8 1495.6,1489.8 1495.6,1494.2 1502.2,1496.2 1502.2,1492.4 1509.0,1494.2 1509.0,1493.1 1514.3,1494.4 1514.3,1492.9 1518.3,1493.8 1518.3,1506.5 1522.2,1507.3 1522.2,1493.4 1527.3,1494.2 1527.3,1488.1 1534.7,1489.0 1534.7,1497.4 1540.9,1497.8 1540.9,1499.0 1544.9,1499.2 1544.9,1502.1 1548.7,1502.3 1548.7,1492.2 1551.9,1492.3 1551.9,1498.2 1557.5,1498.5 1557.5,1501.9 1562.6,1502.4 1562.6,1500.0 1568.6,1501.2 1568.6,1509.0 1576.5,1511.5 1576.5,1505.6 1580.7,1507.1 1580.7,1505.0 1589.0,1508.0 1589.0,1510.0 1595.3,1512.4 1595.3,1515.3 1600.8,1517.9 1600.8,1514.3 1608.8,1518.0 1608.8,1515.4 1616.3,1518.2 1616.3,1514.2 1624.9,1515.5 1624.9,1521.4 1633.7,1522.1 1633.7,1511.9 1637.4,1512.1 1637.4,1516.0 1644.9,1516.3 1644.9,1522.2 1648.7,1522.4 1648.7,1522.8 1653.6,1523.1 1653.6,1522.9 1656.9,1523.1 1656.9,1514.3 1664.9,1515.0 1664.9,1522.0 1671.5,1523.4 1671.5,1526.5 1679.2,1530.7 1679.2,1529.8 1683.6,1532.9 1683.6,1523.2 1688.3,1526.8 1688.3,1537.2 1694.4,1541.6 1694.4,1546.4 1700.2,1550.1 1700.2,1541.7 1708.0,1547.1 1708.0,1555.2 1716.3,1560.8 1716.3,1558.8 1721.6,1561.7 1721.6,1559.7 1725.2,1561.1 1725.2,1560.3 1733.4,1562.0 1733.4,1551.9 1740.2,1552.7 1740.2,1564.9 1748.8,1565.7 1748.8,1561.4 1753.4,1562.0 1753.4,1563.2 1759.9,1564.6 1759.9,1563.7 1764.3,1565.7 1764.3,1568.7 1771.3,1573.3 1771.3,1554.1 1774.6,1556.6 1774.6,1576.8 1782.2,1582.1 1782.2,1577.6 1788.8,1580.7 1788.8,1582.9 1793.1,1584.1 1793.1,1587.6 1801.7,1589.5 1801.7,1584.2 1808.7,1585.4 1808.7,1582.4 1814.4,1583.3 1814.4,1580.3 1819.0,1581.1 1819.0,1581.3 1825.3,1582.5 1825.3,1586.2 1833.3,1587.6 1833.3,1592.8 1839.0,1593.8 1839.0,1589.2 1844.3,1590.3 1844.3,1592.1 1849.8,1593.4 1849.8,1598.9 1857.9,1602.1 1857.9,1601.3 1866.4,1606.0 1866.4,1601.7 1874.6,1605.5 1874.6,1600.7 1879.0,1601.9 1879.0,1600.9 1882.5,1601.3 1882.5,1594.6 1889.3,1595.2 1889.3,1609.7 1893.2,1609.9 1893.2,1612.8 1899.2,1613.1 1899.2,1607.3 1904.7,1607.6 1904.7,1594.2 1908.7,1594.4 1908.7,1606.3 1914.2,1606.5 1914.2,1613.9 1921.1,1614.2 1921.1,1600.1 1925.9,1600.5 1925.9,1618.9 1933.4,1619.7 1933.4,1603.1 1937.1,1603.7 1937.1,1610.2 1942.8,1611.5 1942.8,1615.3 1951.4,1617.8 1951.4,1616.0 1960.1,1619.1 1960.1,1614.4 1964.4,1616.1 1964.4,1623.4 1970.9,1626.1 1970.9,1629.9 1979.0,1633.3 1979.0,1623.8 1983.7,1625.7 1983.7,1618.7 1989.0,1620.9 1989.0,1621.9 1993.1,1623.5 1993.1,1616.8 1996.8,1618.2 1996.8,1630.2 2002.9,1632.3 2002.9,1639.0 2010.7,1641.3 2010.7,1636.5 2016.3,1638.1 2016.3,1640.4 2025.1,1643.0 2025.1,1640.8 2028.7,1641.8 2028.7,1651.7 2036.7,1654.0 2036.7,1650.0 2044.7,1652.2 2044.7,1639.9 2050.7,1641.4 2050.7,1646.4 2059.4,1648.5 2059.4,1659.3 2062.5,1660.0 2062.5,1654.8 2068.0,1655.9 2068.0,1652.8 2075.6,1654.1 2075.6,1651.3 2079.0,1651.8 2079.0,1656.3 2087.6,1657.3 2087.6,1649.1 2092.7,1649.6 2092.7,1664.2 2100.5,1664.9 2100.5,1649.3 2107.5,1649.9 2107.5,1659.5 2116.1,1660.2 2116.1,1664.8 2121.3,1665.2 2121.3,1655.7 2127.8,1656.3 2127.8,1652.6 2131.5,1653.0 2131.5,1661.4 2137.2,1662.0 2137.2,1664.2 2143.7,1664.9 2143.7,1663.9 2149.6,1664.5 2149.6,1651.8 2156.8,1652.6 2156.8,1668.0 2162.9,1668.7 2162.9,1664.4 2171.5,1665.3 2171.5,1661.7 2177.1,1662.3 2177.1,1665.4 2182.0,1665.8 2182.0,1665.5 2190.5,1666.1 2190.5,1663.7 2199.2,1664.3 2199.2,1671.2 2202.5,1671.4 2202.5,1665.3 2208.9,1665.6 2208.9,1667.2 2216.5,1667.7 2216.5,1666.0 2223.8,1666.5 2223.8,1669.7 2227.7,1670.1 2227.7,1663.7 2231.2,1664.0 2231.2,1662.7 2239.8,1663.7 2239.8,1671.9 2248.4,1673.1 2248.4,1671.6 2256.8,1672.8 2256.8,1678.3 2262.8,1679.3 2262.8,1667.9 2271.8,1669.3 2271.8,1677.9 2278.3,1678.8 2278.3,1676.7 2286.3,1678.0 2286.3,1671.0 2292.6,1672.3 2292.6,1679.3 2295.9,1680.1 2295.9,1677.0 2303.1,1679.1 2303.1,1680.4 2311.5,1685.3 2311.5,1688.2 2315.4,1692.2 2315.4,1689.3 2319.8,1695.5 2319.8,1699.6 2322.0,1704.6 2322.0,1740.0 2319.8,1738.8 2319.8,1747.0 2315.4,1742.6 2315.4,1736.9 2311.5,1730.0 2311.5,1716.5 2303.1,1706.0 2303.1,1720.8 2295.9,1718.1 2295.9,1714.7 2292.6,1713.7 2292.6,1715.7 2286.3,1714.1 2286.3,1716.8 2278.3,1715.4 2278.3,1708.1 2271.8,1707.1 2271.8,1708.1 2262.8,1706.9 2262.8,1701.0 2256.8,1700.2 2256.8,1703.7 2248.4,1702.8 2248.4,1703.1 2239.8,1702.2 2239.8,1703.8 2231.2,1703.0 2231.2,1710.4 2227.7,1710.1 2227.7,1703.6 2223.8,1703.3 2223.8,1695.8 2216.5,1695.4 2216.5,1701.7 2208.9,1701.3 2208.9,1707.4 2202.5,1707.1 2202.5,1712.2 2199.2,1712.0 2199.2,1707.3 2190.5,1706.8 2190.5,1703.4 2182.0,1702.7 2182.0,1709.6 2177.1,1709.1 2177.1,1700.1 2171.5,1699.4 2171.5,1702.5 2162.9,1701.3 2162.9,1703.2 2156.8,1702.3 2156.8,1699.1 2149.6,1698.0 2149.6,1698.0 2143.7,1697.2 2143.7,1704.3 2137.2,1703.4 2137.2,1701.3 2131.5,1700.5 2131.5,1701.6 2127.8,1701.2 2127.8,1687.6 2121.3,1686.7 2121.3,1691.1 2116.1,1690.4 2116.1,1695.3 2107.5,1694.2 2107.5,1691.3 2100.5,1690.5 2100.5,1701.1 2092.7,1700.2 2092.7,1690.5 2087.6,1689.9 2087.6,1687.7 2079.0,1686.7 2079.0,1683.6 2075.6,1683.3 2075.6,1695.5 2068.0,1694.7 2068.0,1688.4 2062.5,1687.9 2062.5,1676.2 2059.4,1675.9 2059.4,1694.5 2050.7,1693.8 2050.7,1689.2 2044.7,1688.7 2044.7,1685.4 2036.7,1684.7 2036.7,1686.1 2028.7,1685.4 2028.7,1683.5 2025.1,1683.1 2025.1,1687.3 2016.3,1686.2 2016.3,1687.5 2010.7,1686.7 2010.7,1683.9 2002.9,1682.6 2002.9,1688.8 1996.8,1687.3 1996.8,1675.6 1993.1,1674.6 1993.1,1677.8 1989.0,1676.5 1989.0,1673.7 1983.7,1671.8 1983.7,1675.4 1979.0,1673.7 1979.0,1674.1 1970.9,1671.1 1970.9,1674.3 1964.4,1671.9 1964.4,1676.3 1960.1,1674.8 1960.1,1659.4 1951.4,1656.5 1951.4,1670.6 1942.8,1668.4 1942.8,1661.9 1937.1,1660.8 1937.1,1658.0 1933.4,1657.4 1933.4,1668.7 1925.9,1667.7 1925.9,1655.2 1921.1,1654.6 1921.1,1658.8 1914.2,1657.9 1914.2,1656.6 1908.7,1655.8 1908.7,1656.1 1904.7,1655.3 1904.7,1649.0 1899.2,1647.7 1899.2,1657.3 1893.2,1655.1 1893.2,1657.3 1889.3,1655.5 1889.3,1655.8 1882.5,1652.0 1882.5,1657.0 1879.0,1654.8 1879.0,1642.3 1874.6,1639.5 1874.6,1637.6 1866.4,1632.4 1866.4,1637.6 1857.9,1632.7 1857.9,1645.7 1849.8,1641.3 1849.8,1631.2 1844.3,1628.3 1844.3,1619.8 1839.0,1617.3 1839.0,1614.9 1833.3,1612.7 1833.3,1616.7 1825.3,1614.2 1825.3,1614.4 1819.0,1612.7 1819.0,1618.7 1814.4,1617.6 1814.4,1643.2 1808.7,1641.9 1808.7,1608.5 1801.7,1606.9 1801.7,1606.2 1793.1,1604.4 1793.1,1608.9 1788.8,1608.0 1788.8,1615.5 1782.2,1614.1 1782.2,1619.7 1774.6,1618.2 1774.6,1613.6 1771.3,1613.0 1771.3,1608.0 1764.3,1606.7 1764.3,1603.8 1759.9,1603.0 1759.9,1591.6 1753.4,1590.3 1753.4,1607.0 1748.8,1606.1 1748.8,1607.4 1740.2,1605.7 1740.2,1596.8 1733.4,1595.4 1733.4,1599.7 1725.2,1598.0 1725.2,1590.9 1721.6,1590.2 1721.6,1601.8 1716.3,1600.7 1716.3,1598.2 1708.0,1596.4 1708.0,1589.2 1700.2,1587.4 1700.2,1590.5 1694.4,1589.0 1694.4,1587.6 1688.3,1585.9 1688.3,1599.2 1683.6,1597.7 1683.6,1590.6 1679.2,1589.2 1679.2,1587.7 1671.5,1585.3 1671.5,1573.6 1664.9,1571.5 1664.9,1582.0 1656.9,1579.5 1656.9,1574.4 1653.6,1573.4 1653.6,1564.3 1648.7,1562.9 1648.7,1584.5 1644.9,1583.5 1644.9,1572.1 1637.4,1570.1 1637.4,1570.5 1633.7,1569.6 1633.7,1573.0 1624.9,1570.7 1624.9,1571.6 1616.3,1569.3 1616.3,1565.4 1608.8,1563.4 1608.8,1567.6 1600.8,1565.2 1600.8,1562.7 1595.3,1560.8 1595.3,1566.5 1589.0,1564.1 1589.0,1552.0 1580.7,1548.9 1580.7,1570.9 1576.5,1569.5 1576.5,1545.7 1568.6,1543.5 1568.6,1553.5 1562.6,1552.5 1562.6,1543.9 1557.5,1543.5 1557.5,1553.8 1551.9,1553.6 1551.9,1551.7 1548.7,1551.6 1548.7,1551.3 1544.9,1551.2 1544.9,1559.1 1540.9,1558.9 1540.9,1549.5 1534.7,1549.2 1534.7,1545.4 1527.3,1544.4 1527.3,1547.7 1522.2,1546.5 1522.2,1548.9 1518.3,1547.8 1518.3,1547.2 1514.3,1545.9 1514.3,1552.2 1509.0,1550.4 1509.0,1541.2 1502.2,1539.1 1502.2,1541.6 1495.6,1539.5 1495.6,1539.3 1492.5,1538.2 1492.5,1523.4 1486.6,1521.3 1486.6,1540.6 1478.0,1537.5 1478.0,1530.6 1472.0,1528.4 1472.0,1534.7 1463.3,1531.6 1463.3,1526.5 1457.6,1524.5 1457.6,1518.9 1453.1,1517.4 1453.1,1521.7 1447.0,1519.7 1447.0,1521.1 1438.4,1518.6 1438.4,1522.6 1434.4,1521.7 1434.4,1523.6 1426.1,1521.8 1426.1,1518.7 1417.2,1516.3 1417.2,1512.4 1409.7,1509.5 1409.7,1512.0 1403.7,1508.4 1403.7,1513.9 1396.2,1508.4 1396.2,1487.9 1389.7,1483.4 1389.7,1493.8 1382.5,1489.4 1382.5,1485.6 1374.6,1480.9 1374.6,1495.3 1369.9,1492.5 1369.9,1474.1 1362.0,1469.4 1362.0,1477.8 1357.0,1474.8 1357.0,1480.7 1350.5,1476.6 1350.5,1475.6 1344.8,1472.0 1344.8,1469.7 1339.4,1466.1 1339.4,1474.7 1336.3,1472.6 1336.3,1464.6 1332.1,1461.8 1332.1,1463.4 1323.1,1457.5 1323.1,1459.0 1316.0,1454.3 1316.0,1449.3 1309.5,1445.0 1309.5,1448.8 1301.1,1443.3 1301.1,1449.1 1292.7,1443.9 1292.7,1439.9 1285.7,1435.7 1285.7,1431.9 1279.9,1428.2 1279.9,1432.3 1273.1,1428.2 1273.1,1424.0 1269.5,1422.1 1269.5,1425.4 1266.0,1424.0 1266.0,1414.6 1259.4,1413.2 1259.4,1418.3 1255.2,1418.0 1255.2,1420.5 1248.4,1420.1 1248.4,1412.2 1241.6,1412.0 1241.6,1422.5 1233.7,1422.2 1233.7,1415.3 1227.5,1415.0 1227.5,1413.3 1220.3,1412.8 1220.3,1415.0 1216.4,1414.4 1216.4,1423.4 1212.5,1422.2 1212.5,1411.4 1207.9,1409.3 1207.9,1411.8 1202.9,1409.1 1202.9,1411.8 1196.7,1408.3 1196.7,1404.8 1191.7,1402.4 1191.7,1393.6 1186.8,1391.8 1186.8,1408.0 1183.2,1407.3 1183.2,1402.0 1177.5,1401.7 1177.5,1410.0 1169.9,1409.7 1169.9,1402.7 1165.0,1402.5 1165.0,1399.1 1159.8,1398.9 1159.8,1417.7 1156.6,1417.7 1156.6,1392.7 1151.3,1392.6 1151.3,1401.5 1147.8,1401.4 1147.8,1403.4 1144.0,1403.4 1144.0,1416.7 1139.8,1416.9 1139.8,1402.1 1136.0,1402.5 1136.0,1404.8 1132.6,1405.4 1132.6,1404.1 1125.6,1405.5 1125.6,1409.8 1119.9,1411.2 1119.9,1408.0 1112.1,1410.0 1112.1,1401.1 1103.5,1403.1 1103.5,1410.7 1098.3,1412.2 1098.3,1415.3 1095.2,1416.0 1095.2,1409.1 1088.4,1410.0 1088.4,1411.1 1085.0,1411.0 1085.0,1410.0 1078.7,1409.2 1078.7,1420.6 1070.2,1419.6 1070.2,1402.2 1066.1,1402.2 1066.1,1400.0 1061.4,1400.0 1061.4,1407.9 1054.3,1407.9 1054.3,1405.3 1046.2,1405.3 1046.2,1415.8 1042.7,1415.8 1042.7,1415.1 1037.7,1415.1 1037.7,1405.5 1029.3,1405.4 1029.3,1406.0 1025.2,1405.7 1025.2,1406.8 1021.5,1406.3 1021.5,1404.3 1015.3,1403.1 1015.3,1414.6 1007.6,1412.8 1007.6,1401.5 1001.5,1399.9 1001.5,1402.9 997.9,1402.0 997.9,1401.0 989.8,1399.1 989.8,1393.2 981.3,1391.8 981.3,1405.2 975.9,1404.8 975.9,1394.7 971.8,1394.7 971.8,1400.5 968.2,1400.7 968.2,1396.6 962.8,1397.0 962.8,1406.9 957.0,1407.4 957.0,1409.9 952.2,1410.4 952.2,1400.2 947.3,1400.5 947.3,1398.5 938.6,1398.3 938.6,1424.0 933.6,1423.6 933.6,1401.1 930.0,1400.6 930.0,1397.3 924.5,1396.5 924.5,1397.2 920.9,1396.5 920.9,1394.5 913.6,1393.0 913.6,1394.8 907.2,1393.3 907.2,1400.4 902.1,1399.0 902.1,1396.6 895.2,1393.4 895.2,1386.4 892.1,1384.5 892.1,1386.8 888.4,1384.4 888.4,1392.5 883.5,1389.2 883.5,1382.7 877.9,1379.0 877.9,1378.1 872.4,1375.0 872.4,1377.5 866.2,1375.2 866.2,1373.6 858.6,1372.6 858.6,1368.0 851.7,1367.5 851.7,1382.5 846.7,1382.3 846.7,1381.4 838.2,1381.0 838.2,1382.4 834.2,1382.1 834.2,1372.5 829.5,1372.2 829.5,1378.0 821.2,1377.0 821.2,1369.8 813.4,1366.7 813.4,1373.7 808.4,1370.8 808.4,1373.3 802.2,1369.0 802.2,1364.9 795.2,1359.7 795.2,1352.8 789.0,1348.3 789.0,1346.8 784.1,1343.5 784.1,1345.7 776.9,1341.9 776.9,1344.3 772.4,1342.2 772.4,1333.6 764.8,1330.0 764.8,1338.8 755.9,1333.8 755.9,1337.4 748.7,1331.6 748.7,1320.6 741.1,1311.7 741.1,1319.3 736.3,1313.1 736.3,1319.4 731.0,1312.9 731.0,1315.8 723.9,1307.4 723.9,1314.6 718.0,1307.3 718.0,1291.1 713.7,1285.3 713.7,1281.0 708.5,1273.6 708.5,1274.1 700.7,1261.6 700.7,1266.6 694.9,1256.3 694.9,1256.7 689.3,1246.1 689.3,1245.7 683.1,1232.6 683.1,1227.3 678.7,1219.2 678.7,1253.6 671.1,1243.7 671.1,1216.1 663.8,1208.6 663.8,1203.2 660.8,1200.1 660.8,1202.1 652.8,1193.5 652.8,1197.4 647.6,1190.7 647.6,1187.1 641.7,1179.1 641.7,1177.4 633.4,1164.8 633.4,1170.2 627.1,1159.1 627.1,1149.1 619.6,1133.7 619.6,1136.5 616.3,1129.6 616.3,1140.8 608.4,1125.0 608.4,1122.0 605.3,1115.6 605.3,1112.8 601.2,1104.7 601.2,1102.1 597.3,1094.4 597.3,1085.3 591.0,1072.7 591.0,1085.5 582.6,1068.5 582.6,1077.7 576.9,1065.9 576.9,1055.1 572.2,1046.6 572.2,1043.1 563.8,1030.7 563.8,1030.6 555.1,1018.8 555.1,1016.5 550.2,1009.3 550.2,1018.9 544.9,1010.2 544.9,1012.5 539.1,1002.7 539.1,995.0 532.2,983.5 532.2,976.2 523.8,962.2 523.8,965.6 515.9,953.7 515.9,948.6 509.0,938.2 509.0,954.6 500.3,923.7 500.3,914.9 495.4,912.4 495.4,914.9 488.3,918.6 488.3,922.5 483.6,927.2 483.6,929.4 479.7,930.2 479.7,923.8 474.5,917.6 474.5,915.8 468.2,920.7 468.2,928.5 461.1,933.1 461.1,929.7 455.6,934.6 455.6,934.1 451.5,940.0 451.5,937.5 448.0,945.2 448.0,945.2 440.5,972.3 440.5,977.8 433.0,992.7 433.0,988.1 427.1,998.5 427.1,1001.8 421.2,1016.4 421.2,1017.7 417.5,1033.0 417.5,1029.4 414.4,1045.9 414.4,1035.4 408.4,1067.7 408.4,1073.1 400.8,1104.3 400.8,1099.2 394.0,1125.6 394.0,1131.1 389.2,1151.4 389.2,1152.7 381.1,1188.4 381.1,1212.5 377.8,1223.2 377.8,1191.5 370.8,1211.1 370.8,1216.8 363.5,1251.3 363.5,1247.7 357.3,1274.4 357.3,1278.0 348.5,1303.6 348.5,1301.6 344.8,1306.7 344.8,1312.2 336.2,1339.7 336.2,1332.9 332.2,1347.5 332.2,1358.9 327.2,1367.1 327.2,1362.3 319.9,1378.7 319.9,1375.4 312.8,1394.7 312.8,1406.7 308.4,1417.8 308.4,1408.6 300.3,1415.7 300.3,1416.2 297.2,1417.9 297.2,1416.2 294.1,1417.9 294.1,1416.8 288.8,1421.1 288.8,1422.1 283.3,1432.2 283.3,1436.8 275.2,1453.1 275.2,1449.8 268.0,1451.7" fill="#0A36FF" stroke="#0A36FF" stroke-width="1.2" stroke-linejoin="round"/>
<polyline points="270.0,843.0 272.0,843.3 274.0,843.7 276.0,844.0 278.0,844.3 280.0,844.7 282.0,845.0 284.0,845.3 286.0,845.6 288.0,846.0 290.0,846.3 292.0,846.6 294.0,847.0 296.0,847.3 298.0,847.6 300.0,848.0 302.0,848.3 304.0,848.6 306.0,849.0 308.0,849.3 310.0,849.6 312.0,850.0 314.0,850.3 316.0,850.6 318.0,850.9 320.0,851.3 322.0,851.6 324.0,851.9 326.0,852.3 328.0,852.6 330.0,852.9 332.0,853.3 334.0,853.6 336.0,853.9 338.0,854.3 340.0,854.6 342.0,854.9 344.0,855.3 346.0,855.6 348.0,855.9 350.0,856.2 352.0,856.6 354.0,856.9 356.0,857.2 358.0,857.6 360.0,857.9 362.0,858.2 364.0,858.6 366.0,858.9 368.0,859.2 370.0,859.6 372.1,859.9 374.1,860.2 376.1,860.6 378.1,860.9 380.1,861.2 382.1,861.5 384.1,861.9 386.1,862.2 388.1,862.5 390.1,862.9 392.1,863.2 394.1,863.5 396.1,863.9 398.1,864.2 400.1,864.5 402.1,864.9 404.1,865.2 406.1,865.5 408.1,865.9 410.1,866.2 412.1,866.5 414.1,866.8 416.1,867.2 418.1,867.5 420.1,867.8 422.1,868.2 424.1,868.5 426.1,868.8 428.1,869.2 430.1,869.5 432.1,869.8 434.1,870.2 436.1,870.5 438.1,870.8 440.1,871.1 442.1,871.5 444.1,871.8 446.1,872.1 448.1,872.5 450.1,872.8 452.1,873.1 454.1,873.5 456.1,873.8 458.1,874.1 460.1,874.5 462.1,874.8 464.1,875.1 466.1,875.5 468.1,875.8 470.1,876.1 472.1,876.4 474.1,876.8 476.1,877.1 478.1,877.4 480.1,877.8 482.1,878.1 484.1,878.4 486.1,878.8 488.1,879.1 490.1,879.4 492.1,879.8 494.1,880.1 496.1,880.4 498.1,880.8 500.1,881.1 502.1,881.4 504.1,881.7 506.1,882.1 508.1,882.4 510.1,882.7 512.1,883.1 514.1,883.4 516.1,883.7 518.1,884.1 520.1,884.4 522.1,884.7 524.1,885.1 526.1,885.4 528.1,885.7 530.1,886.1 532.1,886.4 534.1,886.7 536.1,887.0 538.1,887.4 540.1,887.7 542.1,888.0 544.1,888.4 546.1,888.7 548.1,889.0 550.1,889.4 552.1,889.7 554.1,890.0 556.1,890.4 558.1,890.7 560.1,891.0 562.1,891.3 564.1,891.7 566.1,892.0 568.1,892.3 570.1,892.7 572.1,893.0 574.2,893.3 576.2,893.7 578.2,894.0 580.2,894.3 582.2,894.7 584.2,895.0 586.2,895.3 588.2,895.7 590.2,896.0 592.2,896.3 594.2,896.6 596.2,897.0 598.2,897.3 600.2,897.6 602.2,898.0 604.2,898.3 606.2,898.6 608.2,899.0 610.2,899.3 612.2,899.6 614.2,900.0 616.2,900.3 618.2,900.6 620.2,901.0 622.2,901.3 624.2,901.6 626.2,901.9 628.2,902.3 630.2,902.6 632.2,902.9 634.2,903.3 636.2,903.6 638.2,903.9 640.2,904.3 642.2,904.6 644.2,904.9 646.2,905.3 648.2,905.6 650.2,905.9 652.2,906.3 654.2,906.6 656.2,906.9 658.2,907.2 660.2,907.6 662.2,907.9 664.2,908.2 666.2,908.6 668.2,908.9 670.2,909.2 672.2,909.6 674.2,909.9 676.2,910.2 678.2,910.6 680.2,910.9 682.2,911.2 684.2,911.6 686.2,911.9 688.2,912.2 690.2,912.5 692.2,912.9 694.2,913.2 696.2,913.5 698.2,913.9 700.2,914.2 702.2,914.5 704.2,914.9 706.2,915.2 708.2,915.5 710.2,915.9 712.2,916.2 714.2,916.5 716.2,916.8 718.2,917.2 720.2,917.5 722.2,917.8 724.2,918.2 726.2,918.5 728.2,918.8 730.2,919.2 732.2,919.5 734.2,919.8 736.2,920.2 738.2,920.5 740.2,920.8 742.2,921.2 744.2,921.5 746.2,921.8 748.2,922.1 750.2,922.5 752.2,922.8 754.2,923.1 756.2,923.5 758.2,923.8 760.2,924.1 762.2,924.5 764.2,924.8 766.2,925.1 768.2,925.5 770.2,925.8 772.2,926.1 774.2,926.5 776.3,926.8 778.3,927.1 780.3,927.4 782.3,927.8 784.3,928.1 786.3,928.4 788.3,928.8 790.3,929.1 792.3,929.4 794.3,929.8 796.3,930.1 798.3,930.4 800.3,930.8 802.3,931.1 804.3,931.4 806.3,931.8 808.3,932.1 810.3,932.4 812.3,932.7 814.3,933.1 816.3,933.4 818.3,933.7 820.3,934.1 822.3,934.4 824.3,934.7 826.3,935.1 828.3,935.4 830.3,935.7 832.3,936.1 834.3,936.4 836.3,936.7 838.3,937.1 840.3,937.4 842.3,937.7 844.3,938.0 846.3,938.4 848.3,938.7 850.3,939.0 852.3,939.4 854.3,939.7 856.3,940.0 858.3,940.4 860.3,940.7 862.3,941.0 864.3,941.4 866.3,941.7 868.3,942.0 870.3,942.3 872.3,942.7 874.3,943.0 876.3,943.3 878.3,943.7 880.3,944.0 882.3,944.3 884.3,944.7 886.3,945.0 888.3,945.3 890.3,945.7 892.3,946.0 894.3,946.3 896.3,946.7 898.3,947.0 900.3,947.3 902.3,947.6 904.3,948.0 906.3,948.3 908.3,948.6 910.3,949.0 912.3,949.3 914.3,949.6 916.3,950.0 918.3,950.3 920.3,950.6 922.3,951.0 924.3,951.3 926.3,951.6 928.3,952.0 930.3,952.3 932.3,952.6 934.3,952.9 936.3,953.3 938.3,953.6 940.3,953.9 942.3,954.3 944.3,954.6 946.3,954.9 948.3,955.3 950.3,955.6 952.3,955.9 954.3,956.3 956.3,956.6 958.3,956.9 960.3,957.3 962.3,957.6 964.3,957.9 966.3,958.2 968.3,958.6 970.3,958.9 972.3,959.2 974.3,959.6 976.4,959.9 978.4,960.2 980.4,960.6 982.4,960.9 984.4,961.2 986.4,961.6 988.4,961.9 990.4,962.2 992.4,962.6 994.4,962.9 996.4,963.2 998.4,963.5 1000.4,963.9 1002.4,964.2 1004.4,964.5 1006.4,964.9 1008.4,965.2 1010.4,965.5 1012.4,965.9 1014.4,966.2 1016.4,966.5 1018.4,966.9 1020.4,967.2 1022.4,967.5 1024.4,967.8 1026.4,968.2 1028.4,968.5 1030.4,968.8 1032.4,969.2 1034.4,969.5 1036.4,969.8 1038.4,970.2 1040.4,970.5 1042.4,970.8 1044.4,971.2 1046.4,971.5 1048.4,971.8 1050.4,972.2 1052.4,972.5 1054.4,972.8 1056.4,973.1 1058.4,973.5 1060.4,973.8 1062.4,974.1 1064.4,974.5 1066.4,974.8 1068.4,975.1 1070.4,975.5 1072.4,975.8 1074.4,976.1 1076.4,976.5 1078.4,976.8 1080.4,977.1 1082.4,977.5 1084.4,977.8 1086.4,978.1 1088.4,978.4 1090.4,978.8 1092.4,979.1 1094.4,979.4 1096.4,979.8 1098.4,980.1 1100.4,980.4 1102.4,980.8 1104.4,981.1 1106.4,981.4 1108.4,981.8 1110.4,982.1 1112.4,982.4 1114.4,982.8 1116.4,983.1 1118.4,983.4 1120.4,983.7 1122.4,984.1 1124.4,984.4 1126.4,984.7 1128.4,985.1 1130.4,985.4 1132.4,985.7 1134.4,986.1 1136.4,986.4 1138.4,986.7 1140.4,987.1 1142.4,987.4 1144.4,987.7 1146.4,988.0 1148.4,988.4 1150.4,988.7 1152.4,989.0 1154.4,989.4 1156.4,989.7 1158.4,990.0 1160.4,990.4 1162.4,990.7 1164.4,991.0 1166.4,991.4 1168.4,991.7 1170.4,992.0 1172.4,992.4 1174.4,992.7 1176.4,993.0 1178.5,993.3 1180.5,993.7 1182.5,994.0 1184.5,994.3 1186.5,994.7 1188.5,995.0 1190.5,995.3 1192.5,995.7 1194.5,996.0 1196.5,996.3 1198.5,996.7 1200.5,997.0 1202.5,997.3 1204.5,997.7 1206.5,998.0 1208.5,998.3 1210.5,998.6 1212.5,999.0 1214.5,999.3 1216.5,999.6 1218.5,1000.0 1220.5,1000.3 1222.5,1000.6 1224.5,1001.0 1226.5,1001.3 1228.5,1001.6 1230.5,1002.0 1232.5,1002.3 1234.5,1002.6 1236.5,1003.0 1238.5,1003.3 1240.5,1003.6 1242.5,1003.9 1244.5,1004.3 1246.5,1004.6 1248.5,1004.9 1250.5,1005.3 1252.5,1005.6 1254.5,1005.9 1256.5,1006.3 1258.5,1006.6 1260.5,1006.9 1262.5,1007.3 1264.5,1007.6 1266.5,1007.9 1268.5,1008.3 1270.5,1008.6 1272.5,1008.9 1274.5,1009.2 1276.5,1009.6 1278.5,1009.9 1280.5,1010.2 1282.5,1010.6 1284.5,1010.9 1286.5,1011.2 1288.5,1011.6 1290.5,1011.9 1292.5,1012.2 1294.5,1012.6 1296.5,1012.9 1298.5,1013.2 1300.5,1013.5 1302.5,1013.9 1304.5,1014.2 1306.5,1014.5 1308.5,1014.9 1310.5,1015.2 1312.5,1015.5 1314.5,1015.9 1316.5,1016.2 1318.5,1016.5 1320.5,1016.9 1322.5,1017.2 1324.5,1017.5 1326.5,1017.9 1328.5,1018.2 1330.5,1018.5 1332.5,1018.8 1334.5,1019.2 1336.5,1019.5 1338.5,1019.8 1340.5,1020.2 1342.5,1020.5 1344.5,1020.8 1346.5,1021.2 1348.5,1021.5 1350.5,1021.8 1352.5,1022.2 1354.5,1022.5 1356.5,1022.8 1358.5,1023.2 1360.5,1023.5 1362.5,1023.8 1364.5,1024.1 1366.5,1024.5 1368.5,1024.8 1370.5,1025.1 1372.5,1025.5 1374.5,1025.8 1376.5,1026.1 1378.5,1026.5 1380.6,1026.8 1382.6,1027.1 1384.6,1027.5 1386.6,1027.8 1388.6,1028.1 1390.6,1028.5 1392.6,1028.8 1394.6,1029.1 1396.6,1029.4 1398.6,1029.8 1400.6,1030.1 1402.6,1030.4 1404.6,1030.8 1406.6,1031.1 1408.6,1031.4 1410.6,1031.8 1412.6,1032.1 1414.6,1032.4 1416.6,1032.8 1418.6,1033.1 1420.6,1033.4 1422.6,1033.7 1424.6,1034.1 1426.6,1034.4 1428.6,1034.7 1430.6,1035.1 1432.6,1035.4 1434.6,1035.7 1436.6,1036.0 1438.6,1036.4 1440.6,1036.7 1442.6,1037.0 1444.6,1037.3 1446.6,1037.7 1448.6,1038.0 1450.6,1038.3 1452.6,1038.7 1454.6,1039.0 1456.6,1039.3 1458.6,1039.7 1460.6,1040.0 1462.6,1040.3 1464.6,1040.7 1466.6,1041.0 1468.6,1041.4 1470.6,1041.7 1472.6,1042.1 1474.6,1042.4 1476.6,1042.8 1478.6,1043.1 1480.6,1043.5 1482.6,1043.8 1484.6,1044.2 1486.6,1044.5 1488.6,1044.9 1490.6,1045.3 1492.6,1045.6 1494.6,1046.0 1496.6,1046.4 1498.6,1046.7 1500.6,1047.1 1502.6,1047.5 1504.6,1047.8 1506.6,1048.2 1508.6,1048.6 1510.6,1048.9 1512.6,1049.3 1514.6,1049.7 1516.6,1050.1 1518.6,1050.4 1520.6,1050.8 1522.6,1051.2 1524.6,1051.5 1526.6,1051.9 1528.6,1052.3 1530.6,1052.7 1532.6,1053.0 1534.6,1053.4 1536.6,1053.8 1538.6,1054.1 1540.6,1054.5 1542.6,1054.9 1544.6,1055.2 1546.6,1055.6 1548.6,1056.0 1550.6,1056.3 1552.6,1056.7 1554.6,1057.0 1556.6,1057.4 1558.6,1057.8 1560.6,1058.1 1562.6,1058.5 1564.6,1058.8 1566.6,1059.2 1568.6,1059.5 1570.6,1059.9 1572.6,1060.2 1574.6,1060.5 1576.6,1060.9 1578.6,1061.2 1580.6,1061.6 1582.7,1061.9 1584.7,1062.3 1586.7,1062.6 1588.7,1062.9 1590.7,1063.3 1592.7,1063.6 1594.7,1064.0 1596.7,1064.3 1598.7,1064.6 1600.7,1065.0 1602.7,1065.3 1604.7,1065.6 1606.7,1066.0 1608.7,1066.3 1610.7,1066.7 1612.7,1067.0 1614.7,1067.3 1616.7,1067.7 1618.7,1068.0 1620.7,1068.4 1622.7,1068.7 1624.7,1069.0 1626.7,1069.4 1628.7,1069.7 1630.7,1070.1 1632.7,1070.4 1634.7,1070.8 1636.7,1071.1 1638.7,1071.5 1640.7,1071.8 1642.7,1072.2 1644.7,1072.5 1646.7,1072.9 1648.7,1073.2 1650.7,1073.6 1652.7,1074.0 1654.7,1074.3 1656.7,1074.7 1658.7,1075.0 1660.7,1075.4 1662.7,1075.8 1664.7,1076.1 1666.7,1076.5 1668.7,1076.9 1670.7,1077.2 1672.7,1077.6 1674.7,1078.0 1676.7,1078.3 1678.7,1078.7 1680.7,1079.0 1682.7,1079.4 1684.7,1079.8 1686.7,1080.1 1688.7,1080.5 1690.7,1080.8 1692.7,1081.2 1694.7,1081.5 1696.7,1081.9 1698.7,1082.2 1700.7,1082.6 1702.7,1082.9 1704.7,1083.3 1706.7,1083.6 1708.7,1084.0 1710.7,1084.3 1712.7,1084.6 1714.7,1084.9 1716.7,1085.3 1718.7,1085.6 1720.7,1085.9 1722.7,1086.3 1724.7,1086.6 1726.7,1086.9 1728.7,1087.2 1730.7,1087.5 1732.7,1087.9 1734.7,1088.2 1736.7,1088.5 1738.7,1088.8 1740.7,1089.1 1742.7,1089.4 1744.7,1089.7 1746.7,1090.1 1748.7,1090.4 1750.7,1090.7 1752.7,1091.0 1754.7,1091.3 1756.7,1091.6 1758.7,1091.9 1760.7,1092.2 1762.7,1092.5 1764.7,1092.8 1766.7,1093.1 1768.7,1093.4 1770.7,1093.7 1772.7,1094.0 1774.7,1094.3 1776.7,1094.6 1778.7,1094.9 1780.7,1095.2 1782.8,1095.6 1784.8,1095.9 1786.8,1096.2 1788.8,1096.5 1790.8,1096.8 1792.8,1097.1 1794.8,1097.4 1796.8,1097.7 1798.8,1097.9 1800.8,1098.2 1802.8,1098.5 1804.8,1098.8 1806.8,1099.1 1808.8,1099.4 1810.8,1099.7 1812.8,1100.0 1814.8,1100.2 1816.8,1100.5 1818.8,1100.8 1820.8,1101.1 1822.8,1101.4 1824.8,1101.7 1826.8,1101.9 1828.8,1102.2 1830.8,1102.5 1832.8,1102.8 1834.8,1103.1 1836.8,1103.4 1838.8,1103.7 1840.8,1104.0 1842.8,1104.3 1844.8,1104.6 1846.8,1104.9 1848.8,1105.2 1850.8,1105.5 1852.8,1105.8 1854.8,1106.1 1856.8,1106.5 1858.8,1106.8 1860.8,1107.1 1862.8,1107.5 1864.8,1107.8 1866.8,1108.2 1868.8,1108.5 1870.8,1108.9 1872.8,1109.3 1874.8,1109.6 1876.8,1110.0 1878.8,1110.4 1880.8,1110.8 1882.8,1111.2 1884.8,1111.6 1886.8,1112.0 1888.8,1112.4 1890.8,1112.8 1892.8,1113.2 1894.8,1113.5 1896.8,1113.9 1898.8,1114.3 1900.8,1114.7 1902.8,1115.1 1904.8,1115.5 1906.8,1115.9 1908.8,1116.2 1910.8,1116.6 1912.8,1117.0 1914.8,1117.3 1916.8,1117.7 1918.8,1118.0 1920.8,1118.4 1922.8,1118.8 1924.8,1119.1 1926.8,1119.5 1928.8,1119.8 1930.8,1120.2 1932.8,1120.5 1934.8,1120.9 1936.8,1121.2 1938.8,1121.6 1940.8,1121.9 1942.8,1122.2 1944.8,1122.6 1946.8,1122.9 1948.8,1123.3 1950.8,1123.6 1952.8,1124.0 1954.8,1124.3 1956.8,1124.6 1958.8,1125.0 1960.8,1125.3 1962.8,1125.6 1964.8,1126.0 1966.8,1126.3 1968.8,1126.6 1970.8,1127.0 1972.8,1127.3 1974.8,1127.6 1976.8,1128.0 1978.8,1128.3 1980.8,1128.6 1982.8,1129.0 1984.9,1129.3 1986.9,1129.6 1988.9,1129.9 1990.9,1130.3 1992.9,1130.6 1994.9,1130.9 1996.9,1131.2 1998.9,1131.6 2000.9,1131.9 2002.9,1132.2 2004.9,1132.5 2006.9,1132.8 2008.9,1133.1 2010.9,1133.5 2012.9,1133.8 2014.9,1134.1 2016.9,1134.4 2018.9,1134.7 2020.9,1135.0 2022.9,1135.3 2024.9,1135.7 2026.9,1136.0 2028.9,1136.3 2030.9,1136.6 2032.9,1136.9 2034.9,1137.2 2036.9,1137.5 2038.9,1137.8 2040.9,1138.1 2042.9,1138.4 2044.9,1138.7 2046.9,1139.0 2048.9,1139.3 2050.9,1139.6 2052.9,1139.9 2054.9,1140.2 2056.9,1140.5 2058.9,1140.8 2060.9,1141.1 2062.9,1141.4 2064.9,1141.7 2066.9,1142.0 2068.9,1142.3 2070.9,1142.6 2072.9,1142.9 2074.9,1143.2 2076.9,1143.5 2078.9,1143.8 2080.9,1144.1 2082.9,1144.4 2084.9,1144.7 2086.9,1145.0 2088.9,1145.3 2090.9,1145.6 2092.9,1145.9 2094.9,1146.2 2096.9,1146.5 2098.9,1146.8 2100.9,1147.1 2102.9,1147.5 2104.9,1147.8 2106.9,1148.1 2108.9,1148.5 2110.9,1148.8 2112.9,1149.1 2114.9,1149.5 2116.9,1149.8 2118.9,1150.2 2120.9,1150.5 2122.9,1150.9 2124.9,1151.2 2126.9,1151.6 2128.9,1151.9 2130.9,1152.2 2132.9,1152.6 2134.9,1152.9 2136.9,1153.3 2138.9,1153.6 2140.9,1154.0 2142.9,1154.3 2144.9,1154.7 2146.9,1155.0 2148.9,1155.3 2150.9,1155.7 2152.9,1156.0 2154.9,1156.3 2156.9,1156.6 2158.9,1157.0 2160.9,1157.3 2162.9,1157.6 2164.9,1157.9 2166.9,1158.2 2168.9,1158.5 2170.9,1158.8 2172.9,1159.1 2174.9,1159.4 2176.9,1159.7 2178.9,1160.1 2180.9,1160.4 2182.9,1160.7 2184.9,1161.0 2187.0,1161.3 2189.0,1161.6 2191.0,1161.9 2193.0,1162.2 2195.0,1162.5 2197.0,1162.8 2199.0,1163.1 2201.0,1163.4 2203.0,1163.7 2205.0,1164.1 2207.0,1164.4 2209.0,1164.7 2211.0,1165.0 2213.0,1165.3 2215.0,1165.7 2217.0,1166.0 2219.0,1166.3 2221.0,1166.7 2223.0,1167.0 2225.0,1167.3 2227.0,1167.6 2229.0,1168.0 2231.0,1168.3 2233.0,1168.6 2235.0,1168.9 2237.0,1169.3 2239.0,1169.6 2241.0,1169.9 2243.0,1170.3 2245.0,1170.6 2247.0,1170.9 2249.0,1171.3 2251.0,1171.6 2253.0,1172.0 2255.0,1172.4 2257.0,1172.8 2259.0,1173.1 2261.0,1173.5 2263.0,1173.9 2265.0,1174.4 2267.0,1174.8 2269.0,1175.2 2271.0,1175.7 2273.0,1176.2 2275.0,1176.7 2277.0,1177.2 2279.0,1177.7 2281.0,1178.3 2283.0,1178.9 2285.0,1179.4 2287.0,1180.0" fill="none" stroke="#bcbcbc" stroke-width="3.2" stroke-linejoin="round"/>
<polyline points="2287.0,1180.0 2296.0,1190.0 2303.0,1200.0 2293.0,1208.0" fill="none" stroke="#bcbcbc" stroke-width="3.2" stroke-linejoin="round"/>
<polyline points="270.0,797.0 272.0,795.5 274.0,793.9 276.0,792.3 278.0,790.7 280.0,789.1 282.0,787.6 284.0,786.1 286.0,784.5 288.0,783.0 290.0,781.4 292.0,779.9 294.0,778.3 296.0,776.6 298.0,774.9 300.0,773.2 302.0,771.4 304.0,769.5 306.0,767.6 308.0,765.5 310.0,763.4 312.0,761.2 314.0,758.8 316.0,756.1 318.0,753.2 320.0,750.0 322.0,746.7 324.0,743.2 326.0,739.6 328.0,735.9 330.0,732.3 332.0,728.6 334.0,725.1 336.0,721.7 338.0,718.4 340.0,715.2 342.0,712.0 344.0,709.0 346.0,705.9 348.0,702.8 350.0,699.7 352.0,696.6 354.0,693.4 356.0,690.1 358.0,686.8 360.0,683.3 362.0,679.7 364.0,675.9 366.0,672.0 368.0,667.9 370.0,663.8 372.0,659.6 374.0,655.3 376.0,651.0 378.0,646.7 380.0,642.4 382.0,638.2 384.0,634.0 386.0,630.0 388.0,626.0 390.0,622.0 392.0,618.0 394.0,614.1 396.0,610.2 398.0,606.2 400.0,602.3 402.0,598.3 404.0,594.3 406.0,590.2 408.0,586.1 410.0,581.9 412.0,577.5 414.0,573.0 416.0,568.5 418.0,563.8 420.0,559.2 422.0,554.7 424.0,550.2 426.0,545.9 428.0,541.9 430.0,538.0 432.0,534.3 434.0,530.6 436.0,526.9 438.0,523.3 440.0,519.8 442.0,516.4 444.0,513.1 446.0,509.9 448.0,506.9 450.0,504.1 452.0,501.5 454.0,499.1 456.0,496.9 458.0,494.6 460.0,492.4 462.0,490.1 464.0,488.1 466.0,486.2 468.0,484.7 470.0,483.7 472.0,483.1 474.0,483.0 476.0,483.3 478.0,483.9 480.0,484.8 482.0,485.9 484.0,487.2 486.0,488.7 488.0,490.3 490.0,492.1 492.0,494.0 494.0,495.9 496.0,498.0 498.0,500.1 500.0,502.9 502.0,506.3 504.0,510.2 506.0,514.6 508.0,519.3 510.0,524.4 512.0,529.8 514.0,535.3 516.0,540.9 518.0,546.5 520.0,552.0 522.0,557.4 524.0,562.6 526.0,568.0 528.0,573.6 530.0,579.4 532.0,585.3 534.0,591.2 536.0,597.3 538.0,603.3 540.0,609.3 542.0,615.3 544.0,621.2 546.0,627.0 548.0,632.6 550.0,638.0 552.0,643.3 554.0,648.4 556.0,653.5 558.0,658.5 560.0,663.5 562.0,668.4 564.0,673.2 566.0,678.1 568.0,682.9 570.0,687.6 572.0,692.4 574.0,697.2 576.0,702.0 578.0,706.9 580.0,711.8 582.0,716.9 584.0,722.0 586.0,727.1 588.0,732.2 590.0,737.2 592.0,742.2 594.0,747.0 596.0,751.7 598.0,756.2 600.0,760.4 602.0,764.5 604.0,768.2 606.0,771.7 608.0,775.0 610.0,778.2 612.0,781.3 614.0,784.2 616.0,787.0 618.0,789.8 620.0,792.5 622.0,795.1 624.0,797.6 626.0,800.1 628.0,802.5 630.0,804.9 632.0,807.3 634.0,809.7 636.0,812.0 638.0,814.3 640.0,816.7 642.0,819.0 644.0,821.3 646.0,823.6 648.0,825.8 650.0,828.0 652.0,830.1 654.0,832.2 656.0,834.2 658.0,836.2 660.0,838.0 662.0,839.8 664.0,841.4 666.0,843.0 668.0,844.5 670.0,845.9 672.0,847.4 674.0,848.7 676.0,850.1 678.0,851.4 680.0,852.7 682.0,854.0 684.0,855.2 686.0,856.5 688.0,857.7 690.0,858.8 692.0,860.0 694.0,861.1 696.0,862.2 698.0,863.3 700.0,864.3 702.0,865.4 704.0,866.4 706.0,867.4 708.0,868.4 710.0,869.3 712.0,870.3 714.0,871.2 716.0,872.2 718.0,873.1 720.0,874.0 722.0,874.8 724.0,875.7 726.0,876.6 728.0,877.4 730.0,878.3 732.0,879.1 734.0,879.9 736.0,880.7 738.0,881.5 740.0,882.2 742.0,883.0 744.0,883.7 746.0,884.5 748.0,885.2 750.0,885.9 752.0,886.6 754.0,887.3 756.0,888.0 758.0,888.7 760.0,889.3 762.0,890.0 764.0,890.6 766.0,891.3 768.0,891.9 770.0,892.5 772.0,893.2 774.0,893.8 776.0,894.4 778.0,895.0 780.0,895.6 782.0,896.2 784.0,896.8 786.0,897.4 788.0,898.0 790.0,898.6 792.0,899.2 794.0,899.7 796.0,900.3 798.0,900.9 800.0,901.4 802.0,902.0 804.0,902.5 806.0,903.0 808.0,903.5 810.0,904.1 812.0,904.6 814.0,905.1 816.0,905.6 818.0,906.1 820.0,906.6 822.0,907.1 824.0,907.6 826.0,908.1 828.0,908.6 830.0,909.1 832.0,909.6 834.0,910.0 836.0,910.5 838.0,911.0 840.0,911.5 842.0,912.0 844.0,912.5 846.0,913.0 848.0,913.4 850.0,913.9 852.0,914.4 854.0,914.9 856.0,915.4 858.0,915.9 860.0,916.4 862.0,916.9 864.0,917.4 866.0,918.0 868.0,918.5 870.0,919.0 872.0,919.5 874.0,920.1 876.0,920.6 878.0,921.1 880.0,921.7 882.0,922.2 884.0,922.8 886.0,923.3 888.0,923.9 890.0,924.4 892.0,925.0 894.0,925.6 896.0,926.1 898.0,926.7 900.0,927.3 902.0,927.8 904.0,928.4 906.0,929.0 908.0,929.5 910.0,930.1 912.0,930.7 914.0,931.3 916.0,931.9 918.0,932.4 920.0,933.0 922.0,933.6 924.0,934.2 926.0,934.8 928.0,935.3 930.0,935.9 932.0,936.5 934.0,937.1 936.0,937.7 938.0,938.2 940.0,938.8 942.0,939.4 944.0,940.0 946.0,940.6 948.0,941.1 950.0,941.7 952.0,942.3 954.0,942.8 956.0,943.4 958.0,944.0 960.0,944.5 962.0,945.1 964.0,945.7 966.0,946.2 968.0,946.8 970.0,947.3 972.0,947.9 974.0,948.4 976.0,949.0 978.0,949.5 980.0,950.1 982.0,950.6 984.0,951.1 986.0,951.7 988.0,952.2 990.0,952.7 992.0,953.2 994.0,953.8 996.0,954.3 998.0,954.8 1000.0,955.3 1002.0,955.8 1004.0,956.3 1006.0,956.7 1008.0,957.2 1010.0,957.7 1012.0,958.2 1014.0,958.6 1016.0,959.1 1018.0,959.6 1020.0,960.0 1022.0,960.4 1024.0,960.9 1026.0,961.3 1028.0,961.8 1030.0,962.2 1032.0,962.6 1034.0,963.1 1036.0,963.5 1038.0,963.9 1040.0,964.3 1042.0,964.7 1044.0,965.1 1046.0,965.6 1048.0,966.0 1050.0,966.4 1052.0,966.8 1054.0,967.2 1056.0,967.6 1058.0,968.0 1060.0,968.4 1062.0,968.8 1064.0,969.2 1066.0,969.6 1068.0,969.9 1070.0,970.3 1072.0,970.7 1074.0,971.1 1076.0,971.5 1078.0,971.9 1080.0,972.2 1082.0,972.6 1084.0,973.0 1086.0,973.4 1088.0,973.7 1090.0,974.1 1092.0,974.5 1094.0,974.8 1096.0,975.2 1098.0,975.6 1100.0,975.9 1102.0,976.3 1104.0,976.7 1106.0,977.0 1108.0,977.4 1110.0,977.7 1112.0,978.1 1114.0,978.5 1116.0,978.8 1118.0,979.2 1120.0,979.5 1122.0,979.9 1124.0,980.2 1126.0,980.6 1128.0,980.9 1130.0,981.3 1132.0,981.6 1134.0,982.0 1136.0,982.3 1138.0,982.7 1140.0,983.0 1142.0,983.4 1144.0,983.7 1146.0,984.1 1148.0,984.4 1150.0,984.8 1152.0,985.1 1154.0,985.5 1156.0,985.8 1158.0,986.2 1160.0,986.5 1162.0,986.9 1164.0,987.2 1166.0,987.5 1168.0,987.9 1170.0,988.2 1172.0,988.6 1174.0,988.9 1176.0,989.3 1178.0,989.6 1180.0,990.0 1182.0,990.4 1184.0,990.7 1186.0,991.1 1188.0,991.4 1190.0,991.7 1192.0,992.1 1194.0,992.4 1196.0,992.8 1198.0,993.1 1200.0,993.5 1202.0,993.8 1204.0,994.2 1206.0,994.5 1208.0,994.8 1210.0,995.2 1212.0,995.5 1214.0,995.9 1216.0,996.2 1218.0,996.5 1220.0,996.9 1222.0,997.2 1224.0,997.5 1226.0,997.9 1228.0,998.2 1230.0,998.5 1232.0,998.9 1234.0,999.2 1236.0,999.5 1238.0,999.9 1240.0,1000.2 1242.0,1000.5 1244.0,1000.9 1246.0,1001.2 1248.0,1001.5 1250.0,1001.8 1252.0,1002.2 1254.0,1002.5 1256.0,1002.8 1258.0,1003.2 1260.0,1003.5 1262.0,1003.8 1264.0,1004.1 1266.0,1004.5 1268.0,1004.8 1270.0,1005.1 1272.0,1005.4 1274.0,1005.8 1276.0,1006.1 1278.0,1006.4 1280.0,1006.7 1282.0,1007.1 1284.0,1007.4 1286.0,1007.7 1288.0,1008.0 1290.0,1008.4 1292.0,1008.7 1294.0,1009.0 1296.0,1009.3 1298.0,1009.7 1300.0,1010.0 1302.0,1010.3 1304.0,1010.7 1306.0,1011.0 1308.0,1011.3 1310.0,1011.6 1312.0,1011.9 1314.0,1012.3 1316.0,1012.6 1318.0,1012.9 1320.0,1013.2 1322.0,1013.5 1324.0,1013.9 1326.0,1014.2 1328.0,1014.5 1330.0,1014.8 1332.0,1015.1 1334.0,1015.4 1336.0,1015.8 1338.0,1016.1 1340.0,1016.4 1342.0,1016.7 1344.0,1017.0 1346.0,1017.3 1348.0,1017.7 1350.0,1018.0 1352.0,1018.3 1354.0,1018.6 1356.0,1018.9 1358.0,1019.2 1360.0,1019.6 1362.0,1019.9 1364.0,1020.2 1366.0,1020.5 1368.0,1020.8 1370.0,1021.1 1372.0,1021.5 1374.0,1021.8 1376.0,1022.1 1378.0,1022.4 1380.0,1022.7 1382.0,1023.1 1384.0,1023.4 1386.0,1023.7 1388.0,1024.0 1390.0,1024.4 1392.0,1024.7 1394.0,1025.0 1396.0,1025.3 1398.0,1025.7 1400.0,1026.0 1402.0,1026.3 1404.0,1026.7 1406.0,1027.0 1408.0,1027.3 1410.0,1027.7 1412.0,1028.0 1414.0,1028.3 1416.0,1028.7 1418.0,1029.0 1420.0,1029.3 1422.0,1029.7 1424.0,1030.0 1426.0,1030.3 1428.0,1030.7 1430.0,1031.0 1432.0,1031.3 1434.0,1031.7 1436.0,1032.0 1438.0,1032.3 1440.0,1032.7 1442.0,1033.0 1444.0,1033.4 1446.0,1033.7 1448.0,1034.0 1450.0,1034.4 1452.0,1034.7 1454.0,1035.1 1456.0,1035.4 1458.0,1035.7 1460.0,1036.1 1462.0,1036.4 1464.0,1036.8 1466.0,1037.1 1468.0,1037.5 1470.0,1037.8 1472.0,1038.1 1474.0,1038.5 1476.0,1038.8 1478.0,1039.2 1480.0,1039.5 1482.0,1039.9 1484.0,1040.2 1486.0,1040.6 1488.0,1040.9 1490.0,1041.3 1492.0,1041.6 1494.0,1042.0 1496.0,1042.3 1498.0,1042.7 1500.0,1043.0" fill="none" stroke="#bcbcbc" stroke-width="3.2" stroke-linejoin="round"/>
<polyline points="270.0,822.0 272.0,822.0 274.0,822.0 276.0,821.9 278.0,821.9 280.0,821.9 282.0,821.8 284.0,821.7 286.0,821.7 288.0,821.6 290.0,821.5 292.0,821.4 294.0,821.3 296.0,821.2 298.0,821.1 300.0,821.0 302.0,820.9 304.0,820.7 306.0,820.5 308.0,820.3 310.0,820.1 312.0,819.8 314.0,819.5 316.0,819.2 318.0,818.9 320.0,818.5 322.0,818.2 324.0,817.8 326.0,817.4 328.0,817.0 330.0,816.6 332.0,816.1 334.0,815.7 336.0,815.3 338.0,814.9 340.0,814.4 342.0,814.0 344.0,813.6 346.0,813.2 348.0,812.8 350.0,812.4 352.0,812.0 354.0,811.6 356.0,811.2 358.0,810.8 360.0,810.4 362.0,810.0 364.0,809.5 366.0,809.1 368.0,808.7 370.0,808.2 372.1,807.8 374.1,807.3 376.1,806.8 378.1,806.3 380.1,805.8 382.1,805.3 384.1,804.8 386.1,804.3 388.1,803.7 390.1,803.1 392.1,802.5 394.1,801.9 396.1,801.3 398.1,800.6 400.1,800.0 402.1,799.3 404.1,798.6 406.1,797.8 408.1,797.1 410.1,796.3 412.1,795.5 414.1,794.7 416.1,793.9 418.1,793.0 420.1,792.2 422.1,791.2 424.1,790.3 426.1,789.3 428.1,788.3 430.1,787.3 432.1,786.2 434.1,785.1 436.1,784.0 438.1,782.9 440.1,781.7 442.1,780.5 444.1,779.4 446.1,778.2 448.1,776.9 450.1,775.7 452.1,774.4 454.1,773.1 456.1,771.8 458.1,770.4 460.1,769.0 462.1,767.6 464.1,766.2 466.1,764.7 468.1,763.2 470.1,761.7 472.1,760.2 474.1,758.6 476.1,757.0 478.1,755.3 480.1,753.6 482.1,751.8 484.1,750.0 486.1,748.0 488.1,746.0 490.1,743.9 492.1,741.7 494.1,739.5 496.1,737.3 498.1,735.1 500.1,732.9 502.1,730.6 504.1,728.4 506.1,726.1 508.1,723.8 510.1,721.4 512.1,719.1 514.1,716.7 516.1,714.3 518.1,711.9 520.1,709.5 522.1,707.1 524.1,704.6 526.1,702.1 528.1,699.6 530.1,697.1 532.1,694.5 534.1,691.9 536.1,689.3 538.1,686.7 540.1,684.2 542.1,681.6 544.1,679.1 546.1,676.6 548.1,674.2 550.1,671.8 552.1,669.5 554.1,667.1 556.1,664.6 558.1,662.2 560.1,659.8 562.1,657.4 564.1,655.0 566.1,652.8 568.1,650.6 570.1,648.5 572.1,646.6 574.2,644.8 576.2,643.1 578.2,641.6 580.2,640.1 582.2,638.6 584.2,637.1 586.2,635.6 588.2,634.1 590.2,632.7 592.2,631.3 594.2,630.0 596.2,628.7 598.2,627.5 600.2,626.4 602.2,625.4 604.2,624.6 606.2,623.8 608.2,623.3 610.2,622.8 612.2,622.6 614.2,622.5 616.2,622.6 618.2,622.9 620.2,623.3 622.2,623.8 624.2,624.5 626.2,625.3 628.2,626.2 630.2,627.1 632.2,628.2 634.2,629.3 636.2,630.4 638.2,631.6 640.2,632.8 642.2,634.0 644.2,635.3 646.2,636.7 648.2,638.4 650.2,640.3 652.2,642.4 654.2,644.6 656.2,646.9 658.2,649.3 660.2,651.8 662.2,654.3 664.2,656.8 666.2,659.3 668.2,661.8 670.2,664.2 672.2,666.7 674.2,669.1 676.2,671.6 678.2,674.2 680.2,676.8 682.2,679.4 684.2,682.1 686.2,684.8 688.2,687.5 690.2,690.2 692.2,692.9 694.2,695.6 696.2,698.4 698.2,701.1 700.2,703.8 702.2,706.5 704.2,709.2 706.2,711.8 708.2,714.5 710.2,717.1 712.2,719.8 714.2,722.5 716.2,725.2 718.2,727.9 720.2,730.7 722.2,733.5 724.2,736.3 726.2,739.2 728.2,742.2 730.2,745.2 732.2,748.4 734.2,751.6 736.2,755.1 738.2,758.8 740.2,762.5 742.2,766.4 744.2,770.4 746.2,774.3 748.2,778.3 750.2,782.3 752.2,786.1 754.2,789.9 756.2,793.6 758.2,797.1 760.2,800.4 762.2,803.5 764.2,806.3 766.2,809.0 768.2,811.7 770.2,814.3 772.2,816.8 774.2,819.3 776.3,821.7 778.3,824.1 780.3,826.5 782.3,828.7 784.3,831.0 786.3,833.2 788.3,835.3 790.3,837.4 792.3,839.4 794.3,841.4 796.3,843.4 798.3,845.3 800.3,847.1 802.3,848.9 804.3,850.7 806.3,852.4 808.3,854.0 810.3,855.6 812.3,857.2 814.3,858.7 816.3,860.2 818.3,861.6 820.3,863.0 822.3,864.3 824.3,865.6 826.3,866.8 828.3,868.1 830.3,869.3 832.3,870.4 834.3,871.6 836.3,872.7 838.3,873.9 840.3,875.0 842.3,876.1 844.3,877.3 846.3,878.4 848.3,879.5 850.3,880.7 852.3,881.9 854.3,883.1 856.3,884.3 858.3,885.5 860.3,886.7 862.3,888.0 864.3,889.2 866.3,890.4 868.3,891.7 870.3,892.9 872.3,894.1 874.3,895.3 876.3,896.5 878.3,897.7 880.3,898.8 882.3,899.9 884.3,901.0 886.3,902.1 888.3,903.2 890.3,904.2 892.3,905.1 894.3,906.1 896.3,907.1 898.3,908.0 900.3,908.9 902.3,909.8 904.3,910.8 906.3,911.7 908.3,912.6 910.3,913.4 912.3,914.3 914.3,915.2 916.3,916.0 918.3,916.9 920.3,917.7 922.3,918.5 924.3,919.3 926.3,920.1 928.3,920.9 930.3,921.7 932.3,922.4 934.3,923.2 936.3,923.9 938.3,924.7 940.3,925.4 942.3,926.1 944.3,926.8 946.3,927.5 948.3,928.1 950.3,928.8 952.3,929.5 954.3,930.1 956.3,930.7 958.3,931.3 960.3,931.9 962.3,932.5 964.3,933.0 966.3,933.6 968.3,934.1 970.3,934.7 972.3,935.2 974.3,935.7 976.4,936.2 978.4,936.7 980.4,937.2 982.4,937.6 984.4,938.1 986.4,938.6 988.4,939.1 990.4,939.5 992.4,940.0 994.4,940.4 996.4,940.9 998.4,941.4 1000.4,941.8 1002.4,942.3 1004.4,942.8 1006.4,943.2 1008.4,943.7 1010.4,944.2 1012.4,944.7 1014.4,945.2 1016.4,945.7 1018.4,946.2 1020.4,946.7 1022.4,947.2 1024.4,947.8 1026.4,948.3 1028.4,948.8 1030.4,949.4 1032.4,949.9 1034.4,950.5 1036.4,951.0 1038.4,951.6 1040.4,952.2 1042.4,952.7 1044.4,953.3 1046.4,953.9 1048.4,954.4 1050.4,955.0 1052.4,955.6 1054.4,956.1 1056.4,956.7 1058.4,957.2 1060.4,957.8 1062.4,958.3 1064.4,958.9 1066.4,959.4 1068.4,960.0 1070.4,960.5 1072.4,961.1 1074.4,961.6 1076.4,962.1 1078.4,962.6 1080.4,963.1 1082.4,963.6 1084.4,964.1 1086.4,964.6 1088.4,965.1 1090.4,965.5 1092.4,966.0 1094.4,966.5 1096.4,966.9 1098.4,967.4 1100.4,967.8 1102.4,968.3 1104.4,968.7 1106.4,969.2 1108.4,969.6 1110.4,970.0 1112.4,970.5 1114.4,970.9 1116.4,971.3 1118.4,971.8 1120.4,972.2 1122.4,972.6 1124.4,973.0 1126.4,973.5 1128.4,973.9 1130.4,974.3 1132.4,974.7 1134.4,975.2 1136.4,975.6 1138.4,976.0 1140.4,976.4 1142.4,976.8 1144.4,977.3 1146.4,977.7 1148.4,978.1 1150.4,978.5 1152.4,978.9 1154.4,979.3 1156.4,979.8 1158.4,980.2 1160.4,980.6 1162.4,981.0 1164.4,981.4 1166.4,981.8 1168.4,982.2 1170.4,982.6 1172.4,983.0 1174.4,983.4 1176.4,983.8 1178.5,984.2 1180.5,984.6 1182.5,985.0 1184.5,985.4 1186.5,985.8 1188.5,986.2 1190.5,986.6 1192.5,987.0 1194.5,987.5 1196.5,987.9 1198.5,988.3 1200.5,988.7 1202.5,989.1 1204.5,989.5 1206.5,989.9 1208.5,990.3 1210.5,990.7 1212.5,991.1 1214.5,991.5 1216.5,991.9 1218.5,992.3 1220.5,992.8 1222.5,993.2 1224.5,993.6 1226.5,994.0 1228.5,994.4 1230.5,994.9 1232.5,995.3 1234.5,995.7 1236.5,996.1 1238.5,996.6 1240.5,997.0 1242.5,997.4 1244.5,997.8 1246.5,998.2 1248.5,998.7 1250.5,999.1 1252.5,999.5 1254.5,999.9 1256.5,1000.3 1258.5,1000.8 1260.5,1001.2 1262.5,1001.6 1264.5,1002.0 1266.5,1002.4 1268.5,1002.8 1270.5,1003.2 1272.5,1003.6 1274.5,1004.0 1276.5,1004.3 1278.5,1004.7 1280.5,1005.1 1282.5,1005.5 1284.5,1005.8 1286.5,1006.2 1288.5,1006.6 1290.5,1006.9 1292.5,1007.3 1294.5,1007.6 1296.5,1008.0 1298.5,1008.3 1300.5,1008.7 1302.5,1009.0 1304.5,1009.4 1306.5,1009.7 1308.5,1010.1 1310.5,1010.4 1312.5,1010.7 1314.5,1011.1 1316.5,1011.4 1318.5,1011.7 1320.5,1012.1 1322.5,1012.4 1324.5,1012.7 1326.5,1013.1 1328.5,1013.4 1330.5,1013.7 1332.5,1014.1 1334.5,1014.4 1336.5,1014.7 1338.5,1015.1 1340.5,1015.4 1342.5,1015.7 1344.5,1016.1 1346.5,1016.4 1348.5,1016.7 1350.5,1017.1 1352.5,1017.4 1354.5,1017.8 1356.5,1018.1 1358.5,1018.4 1360.5,1018.8 1362.5,1019.1 1364.5,1019.5 1366.5,1019.8 1368.5,1020.1 1370.5,1020.5 1372.5,1020.8 1374.5,1021.2 1376.5,1021.5 1378.5,1021.8 1380.6,1022.2 1382.6,1022.5 1384.6,1022.9 1386.6,1023.2 1388.6,1023.5 1390.6,1023.9 1392.6,1024.2 1394.6,1024.6 1396.6,1024.9 1398.6,1025.2 1400.6,1025.6 1402.6,1025.9 1404.6,1026.3 1406.6,1026.6 1408.6,1026.9 1410.6,1027.3 1412.6,1027.6 1414.6,1028.0 1416.6,1028.3 1418.6,1028.7 1420.6,1029.0 1422.6,1029.4 1424.6,1029.7 1426.6,1030.1 1428.6,1030.4 1430.6,1030.8 1432.6,1031.1 1434.6,1031.5 1436.6,1031.8 1438.6,1032.2 1440.6,1032.5 1442.6,1032.9 1444.6,1033.2 1446.6,1033.6 1448.6,1033.9 1450.6,1034.3 1452.6,1034.6 1454.6,1035.0 1456.6,1035.4 1458.6,1035.7 1460.6,1036.1 1462.6,1036.4 1464.6,1036.8 1466.6,1037.2 1468.6,1037.5 1470.6,1037.9 1472.6,1038.2 1474.6,1038.6 1476.6,1039.0 1478.6,1039.3 1480.6,1039.7 1482.6,1040.1 1484.6,1040.4 1486.6,1040.8 1488.6,1041.2 1490.6,1041.5 1492.6,1041.9 1494.6,1042.2 1496.6,1042.6 1498.6,1043.0 1500.6,1043.3 1502.6,1043.7 1504.6,1044.1 1506.6,1044.4 1508.6,1044.8 1510.6,1045.2 1512.6,1045.5 1514.6,1045.9 1516.6,1046.2 1518.6,1046.6 1520.6,1047.0 1522.6,1047.3 1524.6,1047.7 1526.6,1048.1 1528.6,1048.4 1530.6,1048.8 1532.6,1049.1 1534.6,1049.5 1536.6,1049.9 1538.6,1050.2 1540.6,1050.6 1542.6,1050.9 1544.6,1051.3 1546.6,1051.6 1548.6,1052.0 1550.6,1052.4 1552.6,1052.7 1554.6,1053.1 1556.6,1053.4 1558.6,1053.8 1560.6,1054.1 1562.6,1054.5 1564.6,1054.8 1566.6,1055.2 1568.6,1055.5 1570.6,1055.9 1572.6,1056.2 1574.6,1056.5 1576.6,1056.9 1578.6,1057.2 1580.6,1057.6 1582.7,1057.9 1584.7,1058.3 1586.7,1058.6 1588.7,1058.9 1590.7,1059.3 1592.7,1059.6 1594.7,1060.0 1596.7,1060.3 1598.7,1060.6 1600.7,1061.0 1602.7,1061.3 1604.7,1061.7 1606.7,1062.0 1608.7,1062.3 1610.7,1062.7 1612.7,1063.0 1614.7,1063.4 1616.7,1063.7 1618.7,1064.0 1620.7,1064.4 1622.7,1064.7 1624.7,1065.1 1626.7,1065.4 1628.7,1065.7 1630.7,1066.1 1632.7,1066.4 1634.7,1066.8 1636.7,1067.1 1638.7,1067.5 1640.7,1067.8 1642.7,1068.1 1644.7,1068.5 1646.7,1068.8 1648.7,1069.2 1650.7,1069.5 1652.7,1069.9 1654.7,1070.2 1656.7,1070.5 1658.7,1070.9 1660.7,1071.2 1662.7,1071.6 1664.7,1071.9 1666.7,1072.3 1668.7,1072.6 1670.7,1072.9 1672.7,1073.3 1674.7,1073.6 1676.7,1074.0 1678.7,1074.3 1680.7,1074.7 1682.7,1075.0 1684.7,1075.3 1686.7,1075.7 1688.7,1076.0 1690.7,1076.4 1692.7,1076.7 1694.7,1077.1 1696.7,1077.4 1698.7,1077.7 1700.7,1078.1 1702.7,1078.4 1704.7,1078.8 1706.7,1079.1 1708.7,1079.4 1710.7,1079.8 1712.7,1080.1 1714.7,1080.5 1716.7,1080.8 1718.7,1081.1 1720.7,1081.5 1722.7,1081.8 1724.7,1082.2 1726.7,1082.5 1728.7,1082.9 1730.7,1083.2 1732.7,1083.5 1734.7,1083.9 1736.7,1084.2 1738.7,1084.6 1740.7,1084.9 1742.7,1085.3 1744.7,1085.6 1746.7,1085.9 1748.7,1086.3 1750.7,1086.6 1752.7,1087.0 1754.7,1087.3 1756.7,1087.6 1758.7,1088.0 1760.7,1088.3 1762.7,1088.7 1764.7,1089.0 1766.7,1089.3 1768.7,1089.7 1770.7,1090.0 1772.7,1090.3 1774.7,1090.7 1776.7,1091.0 1778.7,1091.3 1780.7,1091.7 1782.8,1092.0 1784.8,1092.3 1786.8,1092.6 1788.8,1093.0 1790.8,1093.3 1792.8,1093.6 1794.8,1093.9 1796.8,1094.2 1798.8,1094.5 1800.8,1094.8 1802.8,1095.2 1804.8,1095.5 1806.8,1095.8 1808.8,1096.1 1810.8,1096.4 1812.8,1096.7 1814.8,1097.0 1816.8,1097.3 1818.8,1097.6 1820.8,1097.9 1822.8,1098.2 1824.8,1098.5 1826.8,1098.8 1828.8,1099.1 1830.8,1099.4 1832.8,1099.7 1834.8,1100.0 1836.8,1100.3 1838.8,1100.6 1840.8,1100.9 1842.8,1101.2 1844.8,1101.5 1846.8,1101.8 1848.8,1102.1 1850.8,1102.5 1852.8,1102.8 1854.8,1103.1 1856.8,1103.5 1858.8,1103.8 1860.8,1104.1 1862.8,1104.5 1864.8,1104.8 1866.8,1105.2 1868.8,1105.6 1870.8,1105.9 1872.8,1106.3 1874.8,1106.7 1876.8,1107.1 1878.8,1107.4 1880.8,1107.8 1882.8,1108.2 1884.8,1108.6 1886.8,1109.0 1888.8,1109.4 1890.8,1109.8 1892.8,1110.2 1894.8,1110.6 1896.8,1111.0 1898.8,1111.3 1900.8,1111.7 1902.8,1112.1 1904.8,1112.5 1906.8,1112.9 1908.8,1113.2 1910.8,1113.6 1912.8,1114.0 1914.8,1114.3 1916.8,1114.7 1918.8,1115.0 1920.8,1115.4 1922.8,1115.8 1924.8,1116.1 1926.8,1116.5 1928.8,1116.8 1930.8,1117.2 1932.8,1117.5 1934.8,1117.9 1936.8,1118.2 1938.8,1118.6 1940.8,1118.9 1942.8,1119.2 1944.8,1119.6 1946.8,1119.9 1948.8,1120.3 1950.8,1120.6 1952.8,1121.0 1954.8,1121.3 1956.8,1121.6 1958.8,1122.0 1960.8,1122.3 1962.8,1122.6 1964.8,1123.0 1966.8,1123.3 1968.8,1123.6 1970.8,1124.0 1972.8,1124.3 1974.8,1124.6 1976.8,1125.0 1978.8,1125.3 1980.8,1125.6 1982.8,1126.0 1984.9,1126.3 1986.9,1126.6 1988.9,1126.9 1990.9,1127.3 1992.9,1127.6 1994.9,1127.9 1996.9,1128.2 1998.9,1128.6 2000.9,1128.9 2002.9,1129.2 2004.9,1129.5 2006.9,1129.8 2008.9,1130.1 2010.9,1130.5 2012.9,1130.8 2014.9,1131.1 2016.9,1131.4 2018.9,1131.7 2020.9,1132.0 2022.9,1132.3 2024.9,1132.7 2026.9,1133.0 2028.9,1133.3 2030.9,1133.6 2032.9,1133.9 2034.9,1134.2 2036.9,1134.5 2038.9,1134.8 2040.9,1135.1 2042.9,1135.4 2044.9,1135.7 2046.9,1136.0 2048.9,1136.3 2050.9,1136.6 2052.9,1136.9 2054.9,1137.2 2056.9,1137.5 2058.9,1137.8 2060.9,1138.1 2062.9,1138.4 2064.9,1138.7 2066.9,1139.0 2068.9,1139.3 2070.9,1139.6 2072.9,1139.9 2074.9,1140.2 2076.9,1140.5 2078.9,1140.8 2080.9,1141.1 2082.9,1141.4 2084.9,1141.7 2086.9,1142.0 2088.9,1142.3 2090.9,1142.6 2092.9,1142.9 2094.9,1143.2 2096.9,1143.5 2098.9,1143.8 2100.9,1144.1 2102.9,1144.5 2104.9,1144.8 2106.9,1145.1 2108.9,1145.5 2110.9,1145.8 2112.9,1146.2 2114.9,1146.5 2116.9,1146.8 2118.9,1147.2 2120.9,1147.6 2122.9,1147.9 2124.9,1148.3 2126.9,1148.6 2128.9,1149.0 2130.9,1149.3 2132.9,1149.7 2134.9,1150.0 2136.9,1150.4 2138.9,1150.7 2140.9,1151.0 2142.9,1151.4 2144.9,1151.7 2146.9,1152.0 2148.9,1152.4 2150.9,1152.7 2152.9,1153.0 2154.9,1153.3 2156.9,1153.6 2158.9,1153.9 2160.9,1154.2 2162.9,1154.5 2164.9,1154.8 2166.9,1155.0 2168.9,1155.3 2170.9,1155.6 2172.9,1155.9 2174.9,1156.1 2176.9,1156.4 2178.9,1156.7 2180.9,1156.9 2182.9,1157.2 2184.9,1157.5 2187.0,1157.7 2189.0,1158.0 2191.0,1158.3 2193.0,1158.5 2195.0,1158.8 2197.0,1159.1 2199.0,1159.4 2201.0,1159.6 2203.0,1159.9 2205.0,1160.2 2207.0,1160.5 2209.0,1160.8 2211.0,1161.1 2213.0,1161.4 2215.0,1161.7 2217.0,1162.0 2219.0,1162.3 2221.0,1162.6 2223.0,1162.9 2225.0,1163.3 2227.0,1163.6 2229.0,1163.9 2231.0,1164.2 2233.0,1164.5 2235.0,1164.9 2237.0,1165.2 2239.0,1165.5 2241.0,1165.9 2243.0,1166.2 2245.0,1166.5 2247.0,1166.9 2249.0,1167.2 2251.0,1167.6 2253.0,1168.0 2255.0,1168.4 2257.0,1168.7 2259.0,1169.1 2261.0,1169.5 2263.0,1169.9 2265.0,1170.4 2267.0,1170.8 2269.0,1171.2 2271.0,1171.7 2273.0,1172.2 2275.0,1172.7 2277.0,1173.2 2279.0,1173.7 2281.0,1174.3 2283.0,1174.9 2285.0,1175.4 2287.0,1176.0" fill="none" stroke="#787878" stroke-width="3.2" stroke-linejoin="round"/>
<polyline points="285.0,857.5 287.0,857.6 289.0,857.7 291.0,857.9 293.0,858.0 295.0,858.1 297.0,858.3 299.0,858.4 301.0,858.5 303.0,858.6 305.0,858.8 307.0,858.9 309.0,859.0 311.0,859.2 313.0,859.3 315.0,859.4 317.0,859.6 319.0,859.7 321.0,859.9 323.0,860.0 325.0,860.1 327.0,860.3 329.0,860.4 331.0,860.6 333.0,860.7 335.0,860.8 337.0,861.0 339.0,861.1 341.0,861.3 343.0,861.4 345.0,861.6 347.0,861.8 349.0,861.9 351.0,862.1 353.0,862.3 355.0,862.5 357.0,862.7 359.0,862.9 361.0,863.1 363.0,863.3 365.0,863.5 367.0,863.7 369.0,863.9 371.0,864.1 373.0,864.3 375.0,864.5 377.0,864.7 379.0,864.9 381.0,865.1 383.0,865.3 385.0,865.4 387.0,865.5 389.0,865.7 391.0,865.8 393.0,866.0 395.0,866.1 397.0,866.3 399.0,866.4 401.0,866.6 403.0,866.8 405.0,867.0 407.0,867.3 409.0,867.6 411.0,868.0 413.0,868.5 415.0,868.9 417.0,869.3 419.0,869.6 421.0,869.9 423.0,870.1 425.0,870.2 427.0,870.4 429.1,870.5 431.1,870.6 433.1,870.7 435.1,870.8 437.1,870.9 439.1,870.9 441.1,871.0 443.1,871.1 445.1,871.2 447.1,871.3 449.1,871.4 451.1,871.6 453.1,871.7 455.1,871.9 457.1,872.0 459.1,872.2 461.1,872.3 463.1,872.5 465.1,872.6 467.1,872.8 469.1,873.0 471.1,873.1 473.1,873.3 475.1,873.5 477.1,873.7 479.1,873.9 481.1,874.1 483.1,874.3 485.1,874.5 487.1,874.7 489.1,874.9 491.1,875.1 493.1,875.3 495.1,875.5 497.1,875.7 499.1,876.0 501.1,876.2 503.1,876.4 505.1,876.6 507.1,876.9 509.1,877.1 511.1,877.3 513.1,877.6 515.1,877.8 517.1,878.0 519.1,878.3 521.1,878.5 523.1,878.8 525.1,879.0 527.1,879.2 529.1,879.5 531.1,879.7 533.1,880.0 535.1,880.3 537.1,880.6 539.1,880.9 541.1,881.2 543.1,881.5 545.1,881.8 547.1,882.1 549.1,882.5 551.1,882.8 553.1,883.1 555.1,883.4 557.1,883.6 559.1,883.9 561.1,884.1 563.1,884.4 565.1,884.6 567.1,884.8 569.1,885.1 571.1,885.3 573.1,885.5 575.1,885.7 577.1,885.9 579.1,886.1 581.1,886.4 583.1,886.6 585.1,886.8 587.1,887.0 589.1,887.1 591.1,887.3 593.1,887.5 595.1,887.7 597.1,887.9 599.1,888.1 601.1,888.2 603.1,888.4 605.1,888.5 607.1,888.7 609.1,888.9 611.1,889.0 613.1,889.2 615.1,889.3 617.1,889.4 619.1,889.6 621.1,889.7 623.1,889.9 625.1,890.0 627.1,890.2 629.1,890.3 631.1,890.4 633.1,890.6 635.1,890.7 637.1,890.8 639.1,891.0 641.1,891.1 643.1,891.2 645.1,891.4 647.1,891.5 649.1,891.6 651.1,891.7 653.1,891.9 655.1,892.0 657.1,892.1 659.1,892.2 661.1,892.3 663.1,892.4 665.1,892.5 667.1,892.6 669.1,892.8 671.1,892.9 673.1,893.0 675.1,893.0 677.1,893.1 679.1,893.2 681.1,893.3 683.1,893.4 685.1,893.5 687.1,893.6 689.1,893.6 691.1,893.7 693.1,893.8 695.1,893.9 697.1,893.9 699.1,894.0 701.1,894.0 703.1,894.1 705.1,894.1 707.1,894.2 709.1,894.3 711.1,894.3 713.1,894.4 715.1,894.4 717.2,894.5 719.2,894.5 721.2,894.6 723.2,894.6 725.2,894.7 727.2,894.7 729.2,894.8 731.2,894.9 733.2,894.9 735.2,895.0 737.2,895.0 739.2,895.1 741.2,895.1 743.2,895.2 745.2,895.2 747.2,895.3 749.2,895.3 751.2,895.4 753.2,895.4 755.2,895.5 757.2,895.5 759.2,895.6 761.2,895.6 763.2,895.6 765.2,895.7 767.2,895.7 769.2,895.8 771.2,895.8 773.2,895.9 775.2,895.9 777.2,895.9 779.2,896.0 781.2,896.0 783.2,896.1 785.2,896.1 787.2,896.1 789.2,896.2 791.2,896.2 793.2,896.3 795.2,896.3 797.2,896.3 799.2,896.4 801.2,896.4 803.2,896.4 805.2,896.5 807.2,896.5 809.2,896.5 811.2,896.5 813.2,896.6 815.2,896.6 817.2,896.6 819.2,896.7 821.2,896.7 823.2,896.7 825.2,896.7 827.2,896.8 829.2,896.8 831.2,896.8 833.2,896.8 835.2,896.8 837.2,896.9 839.2,896.9 841.2,896.9 843.2,896.9 845.2,896.9 847.2,896.9 849.2,896.9 851.2,897.0 853.2,897.0 855.2,897.0 857.2,897.0 859.2,897.0 861.2,897.0 863.2,897.0 865.2,897.0 867.2,897.0 869.2,897.0 871.2,897.0 873.2,897.0 875.2,896.9 877.2,896.9 879.2,896.8 881.2,896.7 883.2,896.6 885.2,896.4 887.2,896.3 889.2,896.1 891.2,896.0 893.2,895.8 895.2,895.6 897.2,895.4 899.2,895.3 901.2,895.1 903.2,894.9 905.2,894.7 907.2,894.5 909.2,894.3 911.2,894.1 913.2,893.9 915.2,893.7 917.2,893.5 919.2,893.4 921.2,893.2 923.2,893.1 925.2,892.9 927.2,892.8 929.2,892.6 931.2,892.5 933.2,892.4 935.2,892.3 937.2,892.1 939.2,892.0 941.2,891.9 943.2,891.7 945.2,891.6 947.2,891.5 949.2,891.4 951.2,891.3 953.2,891.1 955.2,891.0 957.2,890.9 959.2,890.8 961.2,890.7 963.2,890.5 965.2,890.4 967.2,890.3 969.2,890.2 971.2,890.0 973.2,889.9 975.2,889.8 977.2,889.7 979.2,889.5 981.2,889.4 983.2,889.3 985.2,889.2 987.2,889.0 989.2,888.9 991.2,888.8 993.2,888.6 995.2,888.5 997.2,888.3 999.2,888.2 1001.2,888.1 1003.3,887.9 1005.3,887.7 1007.3,887.6 1009.3,887.4 1011.3,887.2 1013.3,887.0 1015.3,886.8 1017.3,886.6 1019.3,886.4 1021.3,886.2 1023.3,886.0 1025.3,885.8 1027.3,885.6 1029.3,885.3 1031.3,885.1 1033.3,884.9 1035.3,884.7 1037.3,884.5 1039.3,884.3 1041.3,884.2 1043.3,884.0 1045.3,883.8 1047.3,883.7 1049.3,883.5 1051.3,883.4 1053.3,883.3 1055.3,883.2 1057.3,883.1 1059.3,883.0 1061.3,883.0 1063.3,882.9 1065.3,882.9 1067.3,882.8 1069.3,882.7 1071.3,882.7 1073.3,882.6 1075.3,882.6 1077.3,882.6 1079.3,882.5 1081.3,882.5 1083.3,882.4 1085.3,882.4 1087.3,882.3 1089.3,882.3 1091.3,882.3 1093.3,882.2 1095.3,882.2 1097.3,882.2 1099.3,882.1 1101.3,882.1 1103.3,882.1 1105.3,882.1 1107.3,882.1 1109.3,882.0 1111.3,882.0 1113.3,882.0 1115.3,882.0 1117.3,882.0 1119.3,882.0 1121.3,882.0 1123.3,882.0 1125.3,882.0 1127.3,882.1 1129.3,882.1 1131.3,882.1 1133.3,882.2 1135.3,882.2 1137.3,882.3 1139.3,882.4 1141.3,882.4 1143.3,882.5 1145.3,882.6 1147.3,882.6 1149.3,882.7 1151.3,882.7 1153.3,882.8 1155.3,882.8 1157.3,882.9 1159.3,882.9 1161.3,883.0 1163.3,883.0 1165.3,883.0 1167.3,883.0 1169.3,883.0 1171.3,882.9 1173.3,882.9 1175.3,882.8 1177.3,882.6 1179.3,882.5 1181.3,882.4 1183.3,882.2 1185.3,882.1 1187.3,881.9 1189.3,881.7 1191.3,881.6 1193.3,881.5 1195.3,881.3 1197.3,881.2 1199.3,881.1 1201.3,881.1 1203.3,881.0 1205.3,881.0 1207.3,881.1 1209.3,881.4 1211.3,881.8 1213.3,882.4 1215.3,883.1 1217.3,883.8 1219.3,884.7 1221.3,885.7 1223.3,886.7 1225.3,887.7 1227.3,888.8 1229.3,889.9 1231.3,891.0 1233.3,892.1 1235.3,893.1 1237.3,894.1 1239.3,895.1 1241.3,896.0 1243.3,896.8 1245.3,897.5 1247.3,898.2 1249.3,898.8 1251.3,899.5 1253.3,900.1 1255.3,900.8 1257.3,901.4 1259.3,902.0 1261.3,902.6 1263.3,903.2 1265.3,903.8 1267.3,904.4 1269.3,905.0 1271.3,905.6 1273.3,906.1 1275.3,906.7 1277.3,907.3 1279.3,907.9 1281.3,908.5 1283.3,909.1 1285.3,909.7 1287.3,910.3 1289.3,911.0 1291.4,911.6 1293.4,912.3 1295.4,912.9 1297.4,913.5 1299.4,914.2 1301.4,914.8 1303.4,915.5 1305.4,916.1 1307.4,916.8 1309.4,917.5 1311.4,918.1 1313.4,918.8 1315.4,919.4 1317.4,920.1 1319.4,920.8 1321.4,921.4 1323.4,922.1 1325.4,922.8 1327.4,923.5 1329.4,924.1 1331.4,924.8 1333.4,925.5 1335.4,926.2 1337.4,926.9 1339.4,927.6 1341.4,928.3 1343.4,929.0 1345.4,929.7 1347.4,930.4 1349.4,931.1 1351.4,931.8 1353.4,932.5 1355.4,933.2 1357.4,934.0 1359.4,934.7 1361.4,935.4 1363.4,936.2 1365.4,936.9 1367.4,937.7 1369.4,938.4 1371.4,939.2 1373.4,939.9 1375.4,940.7 1377.4,941.4 1379.4,942.2 1381.4,942.9 1383.4,943.7 1385.4,944.4 1387.4,945.1 1389.4,945.8 1391.4,946.6 1393.4,947.3 1395.4,948.0 1397.4,948.7 1399.4,949.4 1401.4,950.1 1403.4,950.8 1405.4,951.5 1407.4,952.3 1409.4,953.0 1411.4,953.7 1413.4,954.4 1415.4,955.1 1417.4,955.8 1419.4,956.5 1421.4,957.2 1423.4,957.9 1425.4,958.6 1427.4,959.3 1429.4,960.0 1431.4,960.6 1433.4,961.3 1435.4,962.0 1437.4,962.7 1439.4,963.4 1441.4,964.1 1443.4,964.8 1445.4,965.5 1447.4,966.2 1449.4,966.9 1451.4,967.6 1453.4,968.3 1455.4,968.9 1457.4,969.6 1459.4,970.3 1461.4,971.0 1463.4,971.7 1465.4,972.4 1467.4,973.1 1469.4,973.8 1471.4,974.5 1473.4,975.2 1475.4,975.9 1477.4,976.6 1479.4,977.3 1481.4,978.0 1483.4,978.8 1485.4,979.5 1487.4,980.2 1489.4,981.0 1491.4,981.8 1493.4,982.6 1495.4,983.4 1497.4,984.2 1499.4,985.0 1501.4,985.8 1503.4,986.6 1505.4,987.4 1507.4,988.1 1509.4,988.9 1511.4,989.7 1513.4,990.5 1515.4,991.3 1517.4,992.0 1519.4,992.7 1521.4,993.4 1523.4,994.1 1525.4,994.8 1527.4,995.5 1529.4,996.1 1531.4,996.7 1533.4,997.3 1535.4,997.8 1537.4,998.4 1539.4,998.9 1541.4,999.4 1543.4,999.9 1545.4,1000.4 1547.4,1000.8 1549.4,1001.3 1551.4,1001.7 1553.4,1002.2 1555.4,1002.7 1557.4,1003.1 1559.4,1003.6 1561.4,1004.1 1563.4,1004.6 1565.4,1005.1 1567.4,1005.6 1569.4,1006.1 1571.4,1006.7 1573.4,1007.2 1575.4,1007.8 1577.4,1008.4 1579.5,1009.0 1581.5,1009.6 1583.5,1010.2 1585.5,1010.8 1587.5,1011.5 1589.5,1012.1 1591.5,1012.7 1593.5,1013.4 1595.5,1014.0 1597.5,1014.6 1599.5,1015.3 1601.5,1015.9 1603.5,1016.6 1605.5,1017.2 1607.5,1017.9 1609.5,1018.5 1611.5,1019.1 1613.5,1019.8 1615.5,1020.4 1617.5,1021.0 1619.5,1021.6 1621.5,1022.2 1623.5,1022.8 1625.5,1023.4 1627.5,1024.0 1629.5,1024.6 1631.5,1025.2 1633.5,1025.8 1635.5,1026.4 1637.5,1027.0 1639.5,1027.6 1641.5,1028.2 1643.5,1028.8 1645.5,1029.4 1647.5,1029.9 1649.5,1030.5 1651.5,1031.1 1653.5,1031.6 1655.5,1032.2 1657.5,1032.8 1659.5,1033.3 1661.5,1033.9 1663.5,1034.4 1665.5,1034.9 1667.5,1035.4 1669.5,1035.9 1671.5,1036.4 1673.5,1036.9 1675.5,1037.4 1677.5,1037.9 1679.5,1038.3 1681.5,1038.8 1683.5,1039.3 1685.5,1039.7 1687.5,1040.1 1689.5,1040.6 1691.5,1041.0 1693.5,1041.4 1695.5,1041.9 1697.5,1042.3 1699.5,1042.7 1701.5,1043.2 1703.5,1043.6 1705.5,1044.0 1707.5,1044.5 1709.5,1044.9 1711.5,1045.4 1713.5,1045.8 1715.5,1046.3 1717.5,1046.8 1719.5,1047.2 1721.5,1047.7 1723.5,1048.2 1725.5,1048.7 1727.5,1049.2 1729.5,1049.7 1731.5,1050.2 1733.5,1050.7 1735.5,1051.3 1737.5,1051.8 1739.5,1052.3 1741.5,1052.8 1743.5,1053.3 1745.5,1053.9 1747.5,1054.4 1749.5,1054.9 1751.5,1055.4 1753.5,1055.9 1755.5,1056.5 1757.5,1057.0 1759.5,1057.5 1761.5,1058.0 1763.5,1058.5 1765.5,1059.0 1767.5,1059.4 1769.5,1059.9 1771.5,1060.4 1773.5,1060.9 1775.5,1061.4 1777.5,1061.9 1779.5,1062.4 1781.5,1062.9 1783.5,1063.3 1785.5,1063.8 1787.5,1064.3 1789.5,1064.8 1791.5,1065.2 1793.5,1065.7 1795.5,1066.2 1797.5,1066.6 1799.5,1067.1 1801.5,1067.5 1803.5,1068.0 1805.5,1068.4 1807.5,1068.8 1809.5,1069.2 1811.5,1069.6 1813.5,1070.1 1815.5,1070.5 1817.5,1070.8 1819.5,1071.2 1821.5,1071.6 1823.5,1072.0 1825.5,1072.4 1827.5,1072.7 1829.5,1073.1 1831.5,1073.5 1833.5,1073.8 1835.5,1074.2 1837.5,1074.6 1839.5,1074.9 1841.5,1075.3 1843.5,1075.7 1845.5,1076.1 1847.5,1076.4 1849.5,1076.8 1851.5,1077.2 1853.5,1077.6 1855.5,1078.0 1857.5,1078.4 1859.5,1078.8 1861.5,1079.2 1863.5,1079.6 1865.6,1080.0 1867.6,1080.5 1869.6,1080.9 1871.6,1081.3 1873.6,1081.7 1875.6,1082.2 1877.6,1082.6 1879.6,1083.0 1881.6,1083.4 1883.6,1083.9 1885.6,1084.3 1887.6,1084.7 1889.6,1085.2 1891.6,1085.6 1893.6,1086.0 1895.6,1086.5 1897.6,1086.9 1899.6,1087.3 1901.6,1087.8 1903.6,1088.2 1905.6,1088.7 1907.6,1089.1 1909.6,1089.6 1911.6,1090.0 1913.6,1090.5 1915.6,1091.0 1917.6,1091.4 1919.6,1091.9 1921.6,1092.3 1923.6,1092.8 1925.6,1093.2 1927.6,1093.6 1929.6,1094.1 1931.6,1094.5 1933.6,1094.9 1935.6,1095.3 1937.6,1095.7 1939.6,1096.1 1941.6,1096.5 1943.6,1096.9 1945.6,1097.2 1947.6,1097.6 1949.6,1098.0 1951.6,1098.3 1953.6,1098.7 1955.6,1099.1 1957.6,1099.4 1959.6,1099.8 1961.6,1100.1 1963.6,1100.4 1965.6,1100.8 1967.6,1101.1 1969.6,1101.5 1971.6,1101.8 1973.6,1102.1 1975.6,1102.4 1977.6,1102.8 1979.6,1103.1 1981.6,1103.4 1983.6,1103.7 1985.6,1104.0 1987.6,1104.3 1989.6,1104.6 1991.6,1104.9 1993.6,1105.2 1995.6,1105.5 1997.6,1105.8 1999.6,1106.1 2001.6,1106.4 2003.6,1106.6 2005.6,1106.9 2007.6,1107.2 2009.6,1107.4 2011.6,1107.7 2013.6,1107.9 2015.6,1108.2 2017.6,1108.5 2019.6,1108.7 2021.6,1109.0 2023.6,1109.2 2025.6,1109.5 2027.6,1109.7 2029.6,1110.0 2031.6,1110.2 2033.6,1110.5 2035.6,1110.8 2037.6,1111.1 2039.6,1111.3 2041.6,1111.6 2043.6,1111.9 2045.6,1112.2 2047.6,1112.5 2049.6,1112.8 2051.6,1113.2 2053.6,1113.5 2055.6,1113.9 2057.6,1114.3 2059.6,1114.7 2061.6,1115.1 2063.6,1115.5 2065.6,1116.0 2067.6,1116.4 2069.6,1116.9 2071.6,1117.3 2073.6,1117.8 2075.6,1118.2 2077.6,1118.6 2079.6,1119.1 2081.6,1119.5 2083.6,1119.9 2085.6,1120.3 2087.6,1120.7 2089.6,1121.0 2091.6,1121.3 2093.6,1121.6 2095.6,1121.9 2097.6,1122.2 2099.6,1122.4 2101.6,1122.6 2103.6,1122.8 2105.6,1123.0 2107.6,1123.2 2109.6,1123.4 2111.6,1123.5 2113.6,1123.7 2115.6,1123.9 2117.6,1124.0 2119.6,1124.2 2121.6,1124.4 2123.6,1124.6 2125.6,1124.8 2127.6,1125.0 2129.6,1125.2 2131.6,1125.4 2133.6,1125.6 2135.6,1125.9 2137.6,1126.1 2139.6,1126.4 2141.6,1126.6 2143.6,1126.9 2145.6,1127.2 2147.6,1127.4 2149.6,1127.7 2151.6,1128.0 2153.7,1128.2 2155.7,1128.5 2157.7,1128.8 2159.7,1129.1 2161.7,1129.4 2163.7,1129.7 2165.7,1130.0 2167.7,1130.2 2169.7,1130.5 2171.7,1130.8 2173.7,1131.2 2175.7,1131.5 2177.7,1131.8 2179.7,1132.1 2181.7,1132.4 2183.7,1132.8 2185.7,1133.1 2187.7,1133.4 2189.7,1133.8 2191.7,1134.1 2193.7,1134.4 2195.7,1134.7 2197.7,1135.1 2199.7,1135.4 2201.7,1135.7 2203.7,1136.0 2205.7,1136.2 2207.7,1136.5 2209.7,1136.8 2211.7,1137.0 2213.7,1137.3 2215.7,1137.5 2217.7,1137.8 2219.7,1138.0 2221.7,1138.3 2223.7,1138.5 2225.7,1138.8 2227.7,1139.0 2229.7,1139.3 2231.7,1139.5 2233.7,1139.8 2235.7,1140.1 2237.7,1140.3 2239.7,1140.6 2241.7,1140.9 2243.7,1141.3 2245.7,1141.6 2247.7,1141.9 2249.7,1142.3 2251.7,1142.6 2253.7,1143.0 2255.7,1143.3 2257.7,1143.7 2259.7,1144.1 2261.7,1144.5 2263.7,1145.0 2265.7,1145.4 2267.7,1145.9 2269.7,1146.4 2271.7,1147.0 2273.7,1147.6 2275.7,1148.2 2277.7,1149.0 2279.7,1149.9 2281.7,1150.9 2283.7,1152.0 2285.7,1153.5 2287.7,1155.4 2289.7,1157.7 2291.7,1161.3 2293.7,1168.1 2295.7,1176.5" fill="none" stroke="#111" stroke-width="4" stroke-linejoin="round" stroke-dasharray="26,13,5,13,5,13"/>
<polyline points="270.0,1443.5 272.0,1443.8 274.0,1444.0 276.0,1444.3 278.0,1444.6 280.0,1444.9 282.0,1445.1 284.0,1445.4 286.0,1445.7 288.0,1445.9 290.0,1446.2 292.0,1446.5 294.0,1446.7 296.0,1447.0 298.0,1447.3 300.0,1447.6 302.0,1447.8 304.0,1448.1 306.0,1448.4 308.0,1448.6 310.0,1448.9 312.0,1449.2 314.0,1449.5 316.0,1449.7 318.0,1450.0 320.0,1450.3 322.0,1450.5 324.0,1450.8 326.0,1451.1 328.0,1451.3 330.0,1451.6 332.0,1451.9 334.0,1452.2 336.0,1452.4 338.0,1452.7 340.0,1453.0 342.0,1453.2 344.0,1453.5 346.0,1453.8 348.0,1454.0 350.0,1454.3 352.0,1454.6 354.0,1454.9 356.0,1455.1 358.0,1455.4 360.0,1455.7 362.0,1455.9 364.0,1456.2 366.0,1456.5 368.0,1456.8 370.0,1457.0 372.0,1457.3 374.0,1457.6 376.0,1457.8 378.0,1458.1 380.0,1458.4 382.0,1458.6 384.0,1458.9 386.0,1459.2 388.0,1459.5 390.0,1459.7 392.0,1460.0 394.0,1460.3 396.0,1460.5 398.0,1460.8 400.0,1461.1 402.0,1461.4 404.0,1461.6 406.0,1461.9 408.0,1462.2 410.0,1462.4 412.0,1462.7 414.0,1463.0 416.0,1463.2 418.0,1463.5 420.0,1463.8 422.0,1464.1 424.0,1464.3 426.0,1464.6 428.0,1464.9 430.0,1465.1 432.0,1465.4 434.0,1465.7 436.0,1465.9 438.0,1466.2 440.0,1466.5 442.0,1466.8 444.0,1467.0 446.0,1467.3 448.0,1467.6 450.0,1467.8 452.0,1468.1 454.0,1468.4 456.0,1468.7 458.0,1468.9 460.0,1469.2 462.0,1469.5 464.0,1469.7 466.0,1470.0 468.0,1470.3 470.0,1470.5 472.0,1470.8 474.1,1471.1 476.1,1471.4 478.1,1471.6 480.1,1471.9 482.1,1472.2 484.1,1472.4 486.1,1472.7 488.1,1473.0 490.1,1473.3 492.1,1473.5 494.1,1473.8 496.1,1474.1 498.1,1474.3 500.1,1474.6 502.1,1474.9 504.1,1475.1 506.1,1475.4 508.1,1475.7 510.1,1476.0 512.1,1476.2 514.1,1476.5 516.1,1476.8 518.1,1477.0 520.1,1477.3 522.1,1477.6 524.1,1477.8 526.1,1478.1 528.1,1478.4 530.1,1478.7 532.1,1478.9 534.1,1479.2 536.1,1479.5 538.1,1479.7 540.1,1480.0 542.1,1480.3 544.1,1480.6 546.1,1480.8 548.1,1481.1 550.1,1481.4 552.1,1481.6 554.1,1481.9 556.1,1482.2 558.1,1482.4 560.1,1482.7 562.1,1483.0 564.1,1483.3 566.1,1483.5 568.1,1483.8 570.1,1484.1 572.1,1484.3 574.1,1484.6 576.1,1484.9 578.1,1485.2 580.1,1485.4 582.1,1485.7 584.1,1486.0 586.1,1486.2 588.1,1486.5 590.1,1486.8 592.1,1487.0 594.1,1487.3 596.1,1487.6 598.1,1487.9 600.1,1488.1 602.1,1488.4 604.1,1488.7 606.1,1488.9 608.1,1489.2 610.1,1489.5 612.1,1489.7 614.1,1490.0 616.1,1490.3 618.1,1490.6 620.1,1490.8 622.1,1491.1 624.1,1491.4 626.1,1491.6 628.1,1491.9 630.1,1492.2 632.1,1492.5 634.1,1492.7 636.1,1493.0 638.1,1493.3 640.1,1493.5 642.1,1493.8 644.1,1494.1 646.1,1494.3 648.1,1494.6 650.1,1494.9 652.1,1495.2 654.1,1495.4 656.1,1495.7 658.1,1496.0 660.1,1496.2 662.1,1496.5 664.1,1496.8 666.1,1497.1 668.1,1497.3 670.1,1497.6 672.1,1497.9 674.1,1498.1 676.1,1498.4 678.1,1498.7 680.1,1498.9 682.1,1499.2 684.1,1499.5 686.1,1499.8 688.1,1500.0 690.1,1500.3 692.1,1500.6 694.1,1500.8 696.1,1501.1 698.1,1501.4 700.1,1501.7 702.1,1501.9 704.1,1502.2 706.1,1502.5 708.1,1502.7 710.1,1503.0 712.1,1503.3 714.1,1503.5 716.1,1503.8 718.1,1504.1 720.1,1504.4 722.1,1504.6 724.1,1504.9 726.1,1505.2 728.1,1505.4 730.1,1505.7 732.1,1506.0 734.1,1506.2 736.1,1506.5 738.1,1506.8 740.1,1507.1 742.1,1507.3 744.1,1507.6 746.1,1507.9 748.1,1508.1 750.1,1508.4 752.1,1508.7 754.1,1509.0 756.1,1509.2 758.1,1509.5 760.1,1509.8 762.1,1510.0 764.1,1510.3 766.1,1510.6 768.1,1510.8 770.1,1511.1 772.1,1511.4 774.1,1511.7 776.1,1511.9 778.1,1512.2 780.1,1512.5 782.1,1512.7 784.1,1513.0 786.1,1513.3 788.1,1513.6 790.1,1513.8 792.1,1514.1 794.1,1514.4 796.1,1514.6 798.1,1514.9 800.1,1515.2 802.1,1515.4 804.1,1515.7 806.1,1516.0 808.1,1516.3 810.1,1516.5 812.1,1516.8 814.1,1517.1 816.1,1517.3 818.1,1517.6 820.1,1517.9 822.1,1518.1 824.1,1518.4 826.1,1518.7 828.1,1519.0 830.1,1519.2 832.1,1519.5 834.1,1519.8 836.1,1520.0 838.1,1520.3 840.1,1520.6 842.1,1520.9 844.1,1521.1 846.1,1521.4 848.1,1521.7 850.1,1521.9 852.1,1522.2 854.1,1522.5 856.1,1522.7 858.1,1523.0 860.1,1523.3 862.1,1523.6 864.1,1523.8 866.1,1524.1 868.1,1524.4 870.1,1524.6 872.1,1524.9 874.1,1525.2 876.1,1525.5 878.1,1525.7 880.1,1526.0 882.2,1526.3 884.2,1526.5 886.2,1526.8 888.2,1527.1 890.2,1527.3 892.2,1527.6 894.2,1527.9 896.2,1528.2 898.2,1528.4 900.2,1528.7 902.2,1529.0 904.2,1529.2 906.2,1529.5 908.2,1529.8 910.2,1530.0 912.2,1530.3 914.2,1530.6 916.2,1530.9 918.2,1531.1 920.2,1531.4 922.2,1531.7 924.2,1531.9 926.2,1532.2 928.2,1532.5 930.2,1532.8 932.2,1533.0 934.2,1533.3 936.2,1533.6 938.2,1533.8 940.2,1534.1 942.2,1534.4 944.2,1534.6 946.2,1534.9 948.2,1535.2 950.2,1535.5 952.2,1535.7 954.2,1536.0 956.2,1536.3 958.2,1536.5 960.2,1536.8 962.2,1537.1 964.2,1537.4 966.2,1537.6 968.2,1537.9 970.2,1538.2 972.2,1538.4 974.2,1538.7 976.2,1539.0 978.2,1539.2 980.2,1539.5 982.2,1539.8 984.2,1540.1 986.2,1540.3 988.2,1540.6 990.2,1540.9 992.2,1541.1 994.2,1541.4 996.2,1541.7 998.2,1541.9 1000.2,1542.2 1002.2,1542.5 1004.2,1542.8 1006.2,1543.0 1008.2,1543.3 1010.2,1543.6 1012.2,1543.8 1014.2,1544.1 1016.2,1544.4 1018.2,1544.7 1020.2,1544.9 1022.2,1545.2 1024.2,1545.5 1026.2,1545.7 1028.2,1546.0 1030.2,1546.3 1032.2,1546.5 1034.2,1546.8 1036.2,1547.1 1038.2,1547.4 1040.2,1547.6 1042.2,1547.9 1044.2,1548.2 1046.2,1548.4 1048.2,1548.7 1050.2,1549.0 1052.2,1549.3 1054.2,1549.5 1056.2,1549.8 1058.2,1550.1 1060.2,1550.3 1062.2,1550.6 1064.2,1550.9 1066.2,1551.1 1068.2,1551.4 1070.2,1551.7 1072.2,1552.0 1074.2,1552.2 1076.2,1552.5 1078.2,1552.8 1080.2,1553.0 1082.2,1553.3 1084.2,1553.6 1086.2,1553.9 1088.2,1554.1 1090.2,1554.4 1092.2,1554.7 1094.2,1554.9 1096.2,1555.2 1098.2,1555.5 1100.2,1555.7 1102.2,1556.0 1104.2,1556.3 1106.2,1556.6 1108.2,1556.8 1110.2,1557.1 1112.2,1557.4 1114.2,1557.6 1116.2,1557.9 1118.2,1558.2 1120.2,1558.4 1122.2,1558.7 1124.2,1559.0 1126.2,1559.3 1128.2,1559.5 1130.2,1559.8 1132.2,1560.1 1134.2,1560.3 1136.2,1560.6 1138.2,1560.9 1140.2,1561.2 1142.2,1561.4 1144.2,1561.7 1146.2,1562.0 1148.2,1562.2 1150.2,1562.5 1152.2,1562.8 1154.2,1563.0 1156.2,1563.3 1158.2,1563.6 1160.2,1563.9 1162.2,1564.1 1164.2,1564.4 1166.2,1564.7 1168.2,1564.9 1170.2,1565.2 1172.2,1565.5 1174.2,1565.8 1176.2,1566.0 1178.2,1566.3 1180.2,1566.6 1182.2,1566.8 1184.2,1567.1 1186.2,1567.4 1188.2,1567.6 1190.2,1567.9 1192.2,1568.2 1194.2,1568.5 1196.2,1568.7 1198.2,1569.0 1200.2,1569.3 1202.2,1569.5 1204.2,1569.8 1206.2,1570.1 1208.2,1570.3 1210.2,1570.6 1212.2,1570.9 1214.2,1571.2 1216.2,1571.4 1218.2,1571.7 1220.2,1572.0 1222.2,1572.2 1224.2,1572.5 1226.2,1572.8 1228.2,1573.1 1230.2,1573.3 1232.2,1573.6 1234.2,1573.9 1236.2,1574.1 1238.2,1574.4 1240.2,1574.7 1242.2,1574.9 1244.2,1575.2 1246.2,1575.5 1248.2,1575.8 1250.2,1576.0 1252.2,1576.3 1254.2,1576.6 1256.2,1576.8 1258.2,1577.1 1260.2,1577.4 1262.2,1577.7 1264.2,1577.9 1266.2,1578.2 1268.2,1578.5 1270.2,1578.7 1272.2,1579.0 1274.2,1579.3 1276.2,1579.5 1278.2,1579.8 1280.2,1580.1 1282.2,1580.4 1284.2,1580.6 1286.2,1580.9 1288.3,1581.2 1290.3,1581.4 1292.3,1581.7 1294.3,1582.0 1296.3,1582.2 1298.3,1582.5 1300.3,1582.8 1302.3,1583.1 1304.3,1583.3 1306.3,1583.6 1308.3,1583.9 1310.3,1584.1 1312.3,1584.4 1314.3,1584.7 1316.3,1585.0 1318.3,1585.2 1320.3,1585.5 1322.3,1585.8 1324.3,1586.0 1326.3,1586.3 1328.3,1586.6 1330.3,1586.8 1332.3,1587.1 1334.3,1587.4 1336.3,1587.7 1338.3,1587.9 1340.3,1588.2 1342.3,1588.5 1344.3,1588.7 1346.3,1589.0 1348.3,1589.3 1350.3,1589.6 1352.3,1589.8 1354.3,1590.1 1356.3,1590.4 1358.3,1590.6 1360.3,1590.9 1362.3,1591.2 1364.3,1591.4 1366.3,1591.7 1368.3,1592.0 1370.3,1592.3 1372.3,1592.5 1374.3,1592.8 1376.3,1593.1 1378.3,1593.3 1380.3,1593.6 1382.3,1593.9 1384.3,1594.1 1386.3,1594.4 1388.3,1594.7 1390.3,1595.0 1392.3,1595.2 1394.3,1595.5 1396.3,1595.8 1398.3,1596.0 1400.3,1596.3 1402.3,1596.6 1404.3,1596.9 1406.3,1597.1 1408.3,1597.4 1410.3,1597.7 1412.3,1597.9 1414.3,1598.2 1416.3,1598.5 1418.3,1598.7 1420.3,1599.0 1422.3,1599.3 1424.3,1599.6 1426.3,1599.8 1428.3,1600.1 1430.3,1600.4 1432.3,1600.6 1434.3,1600.9 1436.3,1601.2 1438.3,1601.5 1440.3,1601.7 1442.3,1602.0 1444.3,1602.3 1446.3,1602.5 1448.3,1602.8 1450.3,1603.1 1452.3,1603.3 1454.3,1603.6 1456.3,1603.9 1458.3,1604.2 1460.3,1604.4 1462.3,1604.7 1464.3,1605.0 1466.3,1605.2 1468.3,1605.5 1470.3,1605.8 1472.3,1606.1 1474.3,1606.3 1476.3,1606.6 1478.3,1606.9 1480.3,1607.1 1482.3,1607.4 1484.3,1607.7 1486.3,1607.9 1488.3,1608.2 1490.3,1608.5 1492.3,1608.8 1494.3,1609.0 1496.3,1609.3 1498.3,1609.6 1500.3,1609.8 1502.3,1610.1 1504.3,1610.4 1506.3,1610.6 1508.3,1610.9 1510.3,1611.2 1512.3,1611.5 1514.3,1611.7 1516.3,1612.0 1518.3,1612.3 1520.3,1612.5 1522.3,1612.8 1524.3,1613.1 1526.3,1613.4 1528.3,1613.6 1530.3,1613.9 1532.3,1614.2 1534.3,1614.4 1536.3,1614.7 1538.3,1615.0 1540.3,1615.2 1542.3,1615.5 1544.3,1615.8 1546.3,1616.1 1548.3,1616.3 1550.3,1616.6 1552.3,1616.9 1554.3,1617.1 1556.3,1617.4 1558.3,1617.7 1560.3,1618.0 1562.3,1618.2 1564.3,1618.5 1566.3,1618.8 1568.3,1619.0 1570.3,1619.3 1572.3,1619.6 1574.3,1619.8 1576.3,1620.1 1578.3,1620.4 1580.3,1620.7 1582.3,1620.9 1584.3,1621.2 1586.3,1621.5 1588.3,1621.7 1590.3,1622.0 1592.3,1622.3 1594.3,1622.5 1596.3,1622.8 1598.3,1623.1 1600.3,1623.4 1602.3,1623.6 1604.3,1623.9 1606.3,1624.2 1608.3,1624.4 1610.3,1624.7 1612.3,1625.0 1614.3,1625.3 1616.3,1625.5 1618.3,1625.8 1620.3,1626.1 1622.3,1626.3 1624.3,1626.6 1626.3,1626.9 1628.3,1627.1 1630.3,1627.4 1632.3,1627.7 1634.3,1628.0 1636.3,1628.2 1638.3,1628.5 1640.3,1628.8 1642.3,1629.0 1644.3,1629.3 1646.3,1629.6 1648.3,1629.9 1650.3,1630.1 1652.3,1630.4 1654.3,1630.7 1656.3,1630.9 1658.3,1631.2 1660.3,1631.5 1662.3,1631.7 1664.3,1632.0 1666.3,1632.3 1668.3,1632.6 1670.3,1632.8 1672.3,1633.1 1674.3,1633.4 1676.3,1633.6 1678.3,1633.9 1680.3,1634.2 1682.3,1634.4 1684.3,1634.7 1686.3,1635.0 1688.3,1635.3 1690.3,1635.5 1692.3,1635.8 1694.4,1636.1 1696.4,1636.3 1698.4,1636.6 1700.4,1636.9 1702.4,1637.2 1704.4,1637.4 1706.4,1637.7 1708.4,1638.0 1710.4,1638.2 1712.4,1638.5 1714.4,1638.8 1716.4,1639.0 1718.4,1639.3 1720.4,1639.6 1722.4,1639.9 1724.4,1640.1 1726.4,1640.4 1728.4,1640.7 1730.4,1640.9 1732.4,1641.2 1734.4,1641.5 1736.4,1641.8 1738.4,1642.0 1740.4,1642.3 1742.4,1642.6 1744.4,1642.8 1746.4,1643.1 1748.4,1643.4 1750.4,1643.6 1752.4,1643.9 1754.4,1644.2 1756.4,1644.5 1758.4,1644.7 1760.4,1645.0 1762.4,1645.3 1764.4,1645.5 1766.4,1645.8 1768.4,1646.1 1770.4,1646.3 1772.4,1646.6 1774.4,1646.9 1776.4,1647.2 1778.4,1647.4 1780.4,1647.7 1782.4,1648.0 1784.4,1648.2 1786.4,1648.5 1788.4,1648.8 1790.4,1649.1 1792.4,1649.3 1794.4,1649.6 1796.4,1649.9 1798.4,1650.1 1800.4,1650.4 1802.4,1650.7 1804.4,1650.9 1806.4,1651.2 1808.4,1651.5 1810.4,1651.8 1812.4,1652.0 1814.4,1652.3 1816.4,1652.6 1818.4,1652.8 1820.4,1653.1 1822.4,1653.4 1824.4,1653.7 1826.4,1653.9 1828.4,1654.2 1830.4,1654.5 1832.4,1654.7 1834.4,1655.0 1836.4,1655.3 1838.4,1655.5 1840.4,1655.8 1842.4,1656.1 1844.4,1656.4 1846.4,1656.6 1848.4,1656.9 1850.4,1657.2 1852.4,1657.4 1854.4,1657.7 1856.4,1658.0 1858.4,1658.3 1860.4,1658.5 1862.4,1658.8 1864.4,1659.1 1866.4,1659.3 1868.4,1659.6 1870.4,1659.9 1872.4,1660.1 1874.4,1660.4 1876.4,1660.7 1878.4,1661.0 1880.4,1661.2 1882.4,1661.5 1884.4,1661.8 1886.4,1662.0 1888.4,1662.3 1890.4,1662.6 1892.4,1662.8 1894.4,1663.1 1896.4,1663.4 1898.4,1663.7 1900.4,1663.9 1902.4,1664.2 1904.4,1664.5 1906.4,1664.7 1908.4,1665.0 1910.4,1665.3 1912.4,1665.6 1914.4,1665.8 1916.4,1666.1 1918.4,1666.4 1920.4,1666.6 1922.4,1666.9 1924.4,1667.2 1926.4,1667.4 1928.4,1667.7 1930.4,1668.0 1932.4,1668.3 1934.4,1668.5 1936.4,1668.8 1938.4,1669.1 1940.4,1669.3 1942.4,1669.6 1944.4,1669.9 1946.4,1670.2 1948.4,1670.4 1950.4,1670.7 1952.4,1671.0 1954.4,1671.2 1956.4,1671.5 1958.4,1671.8 1960.4,1672.0 1962.4,1672.3 1964.4,1672.6 1966.4,1672.9 1968.4,1673.1 1970.4,1673.4 1972.4,1673.7 1974.4,1673.9 1976.4,1674.2 1978.4,1674.5 1980.4,1674.7 1982.4,1675.0 1984.4,1675.3 1986.4,1675.6 1988.4,1675.8 1990.4,1676.1 1992.4,1676.4 1994.4,1676.6 1996.4,1676.9 1998.4,1677.2 2000.4,1677.5 2002.4,1677.7 2004.4,1678.0 2006.4,1678.3 2008.4,1678.5 2010.4,1678.8 2012.4,1679.1 2014.4,1679.3 2016.4,1679.6 2018.4,1679.9 2020.4,1680.2 2022.4,1680.4 2024.4,1680.7 2026.4,1681.0 2028.4,1681.2 2030.4,1681.5 2032.4,1681.8 2034.4,1682.1 2036.4,1682.3 2038.4,1682.6 2040.4,1682.9 2042.4,1683.1 2044.4,1683.4 2046.4,1683.7 2048.4,1683.9 2050.4,1684.2 2052.4,1684.5 2054.4,1684.8 2056.4,1685.0 2058.4,1685.3 2060.4,1685.6 2062.4,1685.8 2064.4,1686.1 2066.4,1686.4 2068.4,1686.6 2070.4,1686.9 2072.4,1687.2 2074.4,1687.5 2076.4,1687.7 2078.4,1688.0 2080.4,1688.3 2082.4,1688.5 2084.4,1688.8 2086.4,1689.1 2088.4,1689.4 2090.4,1689.6 2092.4,1689.9 2094.4,1690.2 2096.4,1690.4 2098.4,1690.7 2100.4,1691.0 2102.5,1691.2 2104.5,1691.5 2106.5,1691.8 2108.5,1692.1 2110.5,1692.3 2112.5,1692.6 2114.5,1692.9 2116.5,1693.1 2118.5,1693.4 2120.5,1693.7 2122.5,1694.0 2124.5,1694.2 2126.5,1694.5 2128.5,1694.8 2130.5,1695.0 2132.5,1695.3 2134.5,1695.6 2136.5,1695.8 2138.5,1696.1 2140.5,1696.4 2142.5,1696.7 2144.5,1696.9 2146.5,1697.2 2148.5,1697.5 2150.5,1697.7 2152.5,1698.0 2154.5,1698.3 2156.5,1698.5 2158.5,1698.8 2160.5,1699.1 2162.5,1699.4 2164.5,1699.6 2166.5,1699.9 2168.5,1700.2 2170.5,1700.4 2172.5,1700.7 2174.5,1701.0 2176.5,1701.3 2178.5,1701.5 2180.5,1701.8 2182.5,1702.1 2184.5,1702.3 2186.5,1702.6 2188.5,1702.9 2190.5,1703.1 2192.5,1703.4 2194.5,1703.7 2196.5,1704.0 2198.5,1704.2 2200.5,1704.5 2202.5,1704.8 2204.5,1705.0 2206.5,1705.3 2208.5,1705.6 2210.5,1705.9 2212.5,1706.1 2214.5,1706.4 2216.5,1706.7 2218.5,1706.9 2220.5,1707.2 2222.5,1707.5 2224.5,1707.7 2226.5,1708.0 2228.5,1708.3 2230.5,1708.6 2232.5,1708.8 2234.5,1709.1 2236.5,1709.4 2238.5,1709.6 2240.5,1709.9 2242.5,1710.2 2244.5,1710.4 2246.5,1710.7 2248.5,1711.0 2250.5,1711.3 2252.5,1711.5 2254.5,1711.8 2256.5,1712.1 2258.5,1712.3 2260.5,1712.6 2262.5,1712.9 2264.5,1713.2 2266.5,1713.4 2268.5,1713.7 2270.5,1714.0 2272.5,1714.2 2274.5,1714.5 2276.5,1714.8 2278.5,1715.1 2280.5,1715.3 2282.5,1715.6 2284.5,1715.9 2286.5,1716.1 2288.5,1716.4 2290.5,1716.7 2292.5,1717.0 2294.5,1717.2 2296.5,1717.5 2298.5,1717.8 2300.5,1718.1 2302.5,1718.3 2304.5,1718.6" fill="none" stroke="#bcbcbc" stroke-width="3.2" stroke-linejoin="round"/>
<polyline points="270.0,1360.0 272.0,1358.2 274.0,1356.4 276.0,1354.5 278.0,1352.6 280.0,1350.7 282.0,1348.7 284.0,1346.7 286.0,1344.6 288.0,1342.6 290.0,1340.6 292.0,1338.5 294.0,1336.5 296.0,1334.6 298.0,1332.7 300.0,1330.8 302.0,1328.9 304.0,1327.0 306.0,1325.2 308.0,1323.3 310.0,1321.5 312.0,1319.7 314.0,1317.8 316.0,1316.0 318.0,1314.2 320.0,1312.5 322.0,1310.8 324.0,1309.0 326.0,1307.3 328.0,1305.5 330.0,1303.5 332.0,1301.5 334.0,1299.3 336.0,1297.0 338.0,1294.7 340.0,1292.2 342.0,1289.7 344.0,1287.0 346.0,1284.3 348.0,1281.4 350.0,1278.4 352.0,1275.3 354.0,1272.0 356.0,1268.5 358.0,1264.7 360.0,1260.8 362.0,1256.8 364.0,1252.7 366.0,1248.5 368.0,1244.3 370.0,1239.9 372.0,1235.3 374.0,1230.5 376.0,1225.8 378.0,1221.1 380.0,1216.4 382.0,1212.0 384.0,1207.9 386.0,1203.9 388.0,1200.1 390.0,1196.2 392.0,1191.9 394.0,1187.4 396.0,1182.7 398.0,1177.8 400.0,1172.7 402.0,1167.6 404.0,1162.3 406.0,1157.1 408.0,1151.7 410.0,1146.2 412.0,1140.6 414.0,1134.8 416.0,1129.0 418.0,1123.2 420.0,1117.5 422.0,1111.9 424.0,1106.5 426.0,1101.1 428.0,1095.7 430.0,1090.3 432.0,1084.9 434.0,1079.6 436.0,1074.4 438.0,1069.4 440.0,1064.6 442.0,1060.0 444.0,1055.8 446.0,1051.9 448.0,1048.3 450.0,1044.8 452.0,1041.6 454.0,1038.5 456.0,1035.5 458.0,1032.7 460.0,1029.9 462.0,1027.1 464.0,1024.2 466.0,1021.4 468.0,1018.7 470.0,1016.2 472.0,1014.1 474.1,1012.6 476.1,1011.5 478.1,1010.5 480.1,1009.8 482.1,1009.3 484.1,1009.4 486.1,1009.7 488.1,1010.4 490.1,1011.3 492.1,1012.5 494.1,1013.9 496.1,1015.5 498.1,1017.3 500.1,1019.2 502.1,1021.2 504.1,1023.3 506.1,1025.5 508.1,1027.7 510.1,1029.9 512.1,1032.1 514.1,1034.4 516.1,1036.9 518.1,1039.6 520.1,1042.5 522.1,1045.7 524.1,1049.0 526.1,1052.5 528.1,1056.2 530.1,1060.0 532.1,1064.0 534.1,1068.1 536.1,1072.3 538.1,1076.7 540.1,1081.2 542.1,1085.8 544.1,1090.8 546.1,1096.3 548.1,1102.1 550.1,1108.2 552.1,1114.6 554.1,1121.2 556.1,1128.0 558.1,1134.9 560.1,1141.8 562.1,1148.8 564.1,1155.6 566.1,1162.5 568.1,1169.6 570.1,1177.1 572.1,1184.7 574.1,1192.5 576.1,1200.4 578.1,1208.2 580.1,1215.9 582.1,1223.4 584.1,1230.7 586.1,1237.7 588.1,1244.2 590.1,1250.2 592.1,1255.9 594.1,1261.2 596.1,1266.4 598.1,1271.3 600.1,1275.9 602.1,1280.4 604.1,1284.7 606.1,1288.8 608.1,1292.7 610.1,1296.4 612.1,1300.0 614.1,1303.5 616.1,1307.0 618.1,1310.4 620.1,1313.7 622.1,1317.1 624.1,1320.5 626.1,1323.9 628.1,1327.4 630.1,1330.9 632.1,1334.4 634.1,1337.9 636.1,1341.3 638.1,1344.7 640.1,1348.1 642.1,1351.3 644.1,1354.5 646.1,1357.5 648.1,1360.4 650.1,1363.1 652.1,1365.6 654.1,1368.1 656.1,1370.4 658.1,1372.7 660.1,1374.9 662.1,1377.0 664.1,1379.1 666.1,1381.1 668.1,1383.1 670.1,1385.1 672.1,1387.0 674.1,1389.0 676.1,1390.9 678.1,1392.8 680.1,1394.8 682.1,1396.8 684.1,1398.8 686.1,1400.9 688.1,1402.9 690.1,1405.0 692.1,1407.0 694.1,1409.1 696.1,1411.1 698.1,1413.1 700.1,1415.0 702.1,1416.9 704.1,1418.7 706.1,1420.5 708.1,1422.2 710.1,1423.8 712.1,1425.3 714.1,1426.8 716.1,1428.2 718.1,1429.5 720.1,1430.9 722.1,1432.2 724.1,1433.5 726.1,1434.8 728.1,1436.0 730.1,1437.2 732.1,1438.4 734.1,1439.5 736.1,1440.6 738.1,1441.7 740.1,1442.8 742.1,1443.9 744.1,1444.9 746.1,1445.9 748.1,1446.9 750.1,1447.9 752.1,1448.9 754.1,1449.8 756.1,1450.7 758.1,1451.6 760.1,1452.5 762.1,1453.4 764.1,1454.2 766.1,1455.1 768.1,1455.9 770.1,1456.7 772.1,1457.5 774.1,1458.3 776.1,1459.1 778.1,1459.8 780.1,1460.6 782.1,1461.3 784.1,1462.1 786.1,1462.8 788.1,1463.5 790.1,1464.3 792.1,1465.0 794.1,1465.7 796.1,1466.4 798.1,1467.2 800.1,1467.9 802.1,1468.6 804.1,1469.3 806.1,1470.0 808.1,1470.6 810.1,1471.3 812.1,1472.0 814.1,1472.6 816.1,1473.3 818.1,1473.9 820.1,1474.5 822.1,1475.1 824.1,1475.7 826.1,1476.3 828.1,1476.8 830.1,1477.3 832.1,1477.9 834.1,1478.4 836.1,1478.9 838.1,1479.4 840.1,1479.9 842.1,1480.4 844.1,1480.9 846.1,1481.4 848.1,1481.9 850.1,1482.3 852.1,1482.8 854.1,1483.3 856.1,1483.8 858.1,1484.3 860.1,1484.7 862.1,1485.2 864.1,1485.7 866.1,1486.2 868.1,1486.7 870.1,1487.3 872.1,1487.8 874.1,1488.3 876.1,1488.8 878.1,1489.3 880.1,1489.8 882.2,1490.3 884.2,1490.8 886.2,1491.3 888.2,1491.9 890.2,1492.4 892.2,1492.8 894.2,1493.3 896.2,1493.8 898.2,1494.3 900.2,1494.8 902.2,1495.2 904.2,1495.7 906.2,1496.1 908.2,1496.6 910.2,1497.0 912.2,1497.4 914.2,1497.9 916.2,1498.3 918.2,1498.7 920.2,1499.2 922.2,1499.6 924.2,1500.0 926.2,1500.4 928.2,1500.8 930.2,1501.2 932.2,1501.6 934.2,1502.0 936.2,1502.3 938.2,1502.7 940.2,1503.1 942.2,1503.4 944.2,1503.8 946.2,1504.1 948.2,1504.5 950.2,1504.8 952.2,1505.1 954.2,1505.4 956.2,1505.8 958.2,1506.1 960.2,1506.4 962.2,1506.7 964.2,1507.0 966.2,1507.3 968.2,1507.5 970.2,1507.8 972.2,1508.1 974.2,1508.4 976.2,1508.7 978.2,1509.0 980.2,1509.2 982.2,1509.5 984.2,1509.8 986.2,1510.1 988.2,1510.3 990.2,1510.6 992.2,1510.9 994.2,1511.2 996.2,1511.5 998.2,1511.7 1000.2,1512.0 1002.2,1512.3 1004.2,1512.6 1006.2,1512.9 1008.2,1513.2 1010.2,1513.4 1012.2,1513.7 1014.2,1514.0 1016.2,1514.3 1018.2,1514.5 1020.2,1514.8 1022.2,1515.1 1024.2,1515.3 1026.2,1515.6 1028.2,1515.9 1030.2,1516.2 1032.2,1516.5 1034.2,1516.7 1036.2,1517.0 1038.2,1517.3 1040.2,1517.6 1042.2,1517.9 1044.2,1518.1 1046.2,1518.4 1048.2,1518.7 1050.2,1519.0 1052.2,1519.3 1054.2,1519.6 1056.2,1519.9 1058.2,1520.2 1060.2,1520.5 1062.2,1520.8 1064.2,1521.2 1066.2,1521.5 1068.2,1521.8 1070.2,1522.1 1072.2,1522.4 1074.2,1522.7 1076.2,1523.0 1078.2,1523.4 1080.2,1523.7 1082.2,1524.0 1084.2,1524.3 1086.2,1524.7 1088.2,1525.0 1090.2,1525.3 1092.2,1525.7 1094.2,1526.0 1096.2,1526.3 1098.2,1526.7 1100.2,1527.0 1102.2,1527.4 1104.2,1527.7 1106.2,1528.1 1108.2,1528.5 1110.2,1528.8 1112.2,1529.2 1114.2,1529.6 1116.2,1530.0 1118.2,1530.3 1120.2,1530.7 1122.2,1531.1 1124.2,1531.5 1126.2,1531.9 1128.2,1532.3 1130.2,1532.7 1132.2,1533.1 1134.2,1533.5 1136.2,1533.9 1138.2,1534.3 1140.2,1534.7 1142.2,1535.1 1144.2,1535.5 1146.2,1536.0 1148.2,1536.4 1150.2,1536.8 1152.2,1537.2 1154.2,1537.6 1156.2,1538.0 1158.2,1538.4 1160.2,1538.9 1162.2,1539.3 1164.2,1539.7 1166.2,1540.1 1168.2,1540.5 1170.2,1540.9 1172.2,1541.3 1174.2,1541.7 1176.2,1542.2 1178.2,1542.6 1180.2,1543.0 1182.2,1543.4 1184.2,1543.8 1186.2,1544.2 1188.2,1544.6 1190.2,1544.9 1192.2,1545.3 1194.2,1545.7 1196.2,1546.1 1198.2,1546.5 1200.2,1546.9 1202.2,1547.2 1204.2,1547.6 1206.2,1548.0 1208.2,1548.3 1210.2,1548.7 1212.2,1549.0 1214.2,1549.4 1216.2,1549.7 1218.2,1550.1 1220.2,1550.4 1222.2,1550.8 1224.2,1551.1 1226.2,1551.4 1228.2,1551.8 1230.2,1552.1 1232.2,1552.4 1234.2,1552.8 1236.2,1553.1 1238.2,1553.4 1240.2,1553.7 1242.2,1554.0 1244.2,1554.4 1246.2,1554.7 1248.2,1555.0 1250.2,1555.3 1252.2,1555.6 1254.2,1555.9 1256.2,1556.3 1258.2,1556.6 1260.2,1556.9 1262.2,1557.2 1264.2,1557.5 1266.2,1557.8 1268.2,1558.1 1270.2,1558.4 1272.2,1558.7 1274.2,1559.0 1276.2,1559.3 1278.2,1559.7 1280.2,1560.0 1282.2,1560.3 1284.2,1560.6 1286.2,1560.9 1288.3,1561.2 1290.3,1561.5 1292.3,1561.8 1294.3,1562.1 1296.3,1562.4 1298.3,1562.7 1300.3,1563.0 1302.3,1563.3 1304.3,1563.7 1306.3,1564.0 1308.3,1564.3 1310.3,1564.6 1312.3,1564.9 1314.3,1565.2 1316.3,1565.5 1318.3,1565.8 1320.3,1566.1 1322.3,1566.4 1324.3,1566.7 1326.3,1567.0 1328.3,1567.4 1330.3,1567.7 1332.3,1568.0 1334.3,1568.3 1336.3,1568.6 1338.3,1568.9 1340.3,1569.2 1342.3,1569.5 1344.3,1569.8 1346.3,1570.1 1348.3,1570.4 1350.3,1570.7 1352.3,1571.0 1354.3,1571.3 1356.3,1571.6 1358.3,1571.9 1360.3,1572.2 1362.3,1572.5 1364.3,1572.8 1366.3,1573.1 1368.3,1573.4 1370.3,1573.7 1372.3,1574.0 1374.3,1574.3 1376.3,1574.6 1378.3,1574.9 1380.3,1575.2 1382.3,1575.5 1384.3,1575.8 1386.3,1576.1 1388.3,1576.4 1390.3,1576.7 1392.3,1577.0 1394.3,1577.3 1396.3,1577.6 1398.3,1577.9 1400.3,1578.2 1402.3,1578.5 1404.3,1578.8 1406.3,1579.1 1408.3,1579.4 1410.3,1579.7 1412.3,1580.0 1414.3,1580.3 1416.3,1580.6 1418.3,1580.9 1420.3,1581.2 1422.3,1581.5 1424.3,1581.8 1426.3,1582.1 1428.3,1582.4 1430.3,1582.7 1432.3,1583.0 1434.3,1583.3 1436.3,1583.6 1438.3,1583.8 1440.3,1584.1 1442.3,1584.4 1444.3,1584.7 1446.3,1585.0 1448.3,1585.3 1450.3,1585.6 1452.3,1585.9 1454.3,1586.2 1456.3,1586.5 1458.3,1586.8 1460.3,1587.0 1462.3,1587.3 1464.3,1587.6 1466.3,1587.9 1468.3,1588.2 1470.3,1588.5 1472.3,1588.8 1474.3,1589.0 1476.3,1589.3 1478.3,1589.6 1480.3,1589.9 1482.3,1590.1 1484.3,1590.4 1486.3,1590.7 1488.3,1591.0 1490.3,1591.3 1492.3,1591.5 1494.3,1591.8 1496.3,1592.1 1498.3,1592.3 1500.3,1592.6 1502.3,1592.9 1504.3,1593.2 1506.3,1593.4 1508.3,1593.7 1510.3,1594.0 1512.3,1594.3 1514.3,1594.5 1516.3,1594.8 1518.3,1595.1 1520.3,1595.4 1522.3,1595.6 1524.3,1595.9 1526.3,1596.2 1528.3,1596.5 1530.3,1596.7 1532.3,1597.0 1534.3,1597.3 1536.3,1597.6 1538.3,1597.9 1540.3,1598.1 1542.3,1598.4 1544.3,1598.7 1546.3,1599.0 1548.3,1599.3 1550.3,1599.6 1552.3,1599.9 1554.3,1600.2 1556.3,1600.5 1558.3,1600.8 1560.3,1601.0 1562.3,1601.3 1564.3,1601.6 1566.3,1602.0 1568.3,1602.3 1570.3,1602.6 1572.3,1602.9 1574.3,1603.2 1576.3,1603.5 1578.3,1603.8 1580.3,1604.1 1582.3,1604.4 1584.3,1604.8 1586.3,1605.1 1588.3,1605.4 1590.3,1605.7 1592.3,1606.0 1594.3,1606.4 1596.3,1606.7 1598.3,1607.0 1600.3,1607.3 1602.3,1607.6 1604.3,1608.0 1606.3,1608.3 1608.3,1608.6 1610.3,1608.9 1612.3,1609.3 1614.3,1609.6 1616.3,1609.9 1618.3,1610.2 1620.3,1610.5 1622.3,1610.9 1624.3,1611.2 1626.3,1611.5 1628.3,1611.8 1630.3,1612.1 1632.3,1612.4 1634.3,1612.7 1636.3,1613.1 1638.3,1613.4 1640.3,1613.7 1642.3,1614.0 1644.3,1614.3 1646.3,1614.6 1648.3,1614.9 1650.3,1615.2 1652.3,1615.6 1654.3,1615.9 1656.3,1616.2 1658.3,1616.5 1660.3,1616.8 1662.3,1617.1 1664.3,1617.4 1666.3,1617.8 1668.3,1618.1 1670.3,1618.4 1672.3,1618.7 1674.3,1619.0 1676.3,1619.3 1678.3,1619.6 1680.3,1619.9 1682.3,1620.2 1684.3,1620.5 1686.3,1620.8 1688.3,1621.1 1690.3,1621.4 1692.3,1621.7 1694.4,1622.0 1696.4,1622.3 1698.4,1622.6 1700.4,1622.9 1702.4,1623.2 1704.4,1623.5 1706.4,1623.8 1708.4,1624.0 1710.4,1624.3 1712.4,1624.6 1714.4,1624.9 1716.4,1625.1 1718.4,1625.4 1720.4,1625.7 1722.4,1625.9 1724.4,1626.2 1726.4,1626.4 1728.4,1626.7 1730.4,1626.9 1732.4,1627.1 1734.4,1627.4 1736.4,1627.6 1738.4,1627.9 1740.4,1628.1 1742.4,1628.3 1744.4,1628.6 1746.4,1628.8 1748.4,1629.0 1750.4,1629.3 1752.4,1629.5 1754.4,1629.7 1756.4,1630.0 1758.4,1630.2 1760.4,1630.4 1762.4,1630.7 1764.4,1630.9 1766.4,1631.2 1768.4,1631.4 1770.4,1631.6 1772.4,1631.9 1774.4,1632.1 1776.4,1632.4 1778.4,1632.6 1780.4,1632.9 1782.4,1633.2 1784.4,1633.4 1786.4,1633.7 1788.4,1634.0 1790.4,1634.2 1792.4,1634.5 1794.4,1634.8 1796.4,1635.1 1798.4,1635.4 1800.4,1635.7 1802.4,1636.0 1804.4,1636.3 1806.4,1636.6 1808.4,1636.9 1810.4,1637.2 1812.4,1637.5 1814.4,1637.9 1816.4,1638.2 1818.4,1638.5 1820.4,1638.8 1822.4,1639.1 1824.4,1639.5 1826.4,1639.8 1828.4,1640.1 1830.4,1640.4 1832.4,1640.8 1834.4,1641.1 1836.4,1641.4 1838.4,1641.7 1840.4,1642.0 1842.4,1642.3 1844.4,1642.7 1846.4,1643.0 1848.4,1643.3 1850.4,1643.6 1852.4,1643.9 1854.4,1644.2 1856.4,1644.5 1858.4,1644.8 1860.4,1645.1 1862.4,1645.3 1864.4,1645.6 1866.4,1645.9 1868.4,1646.2 1870.4,1646.5 1872.4,1646.7 1874.4,1647.0 1876.4,1647.3 1878.4,1647.5 1880.4,1647.8 1882.4,1648.1 1884.4,1648.3 1886.4,1648.6 1888.4,1648.9 1890.4,1649.1 1892.4,1649.4 1894.4,1649.6 1896.4,1649.9 1898.4,1650.2 1900.4,1650.4 1902.4,1650.7 1904.4,1650.9 1906.4,1651.2 1908.4,1651.5 1910.4,1651.7 1912.4,1652.0 1914.4,1652.2 1916.4,1652.5 1918.4,1652.7 1920.4,1653.0 1922.4,1653.3 1924.4,1653.5 1926.4,1653.8 1928.4,1654.0 1930.4,1654.3 1932.4,1654.6 1934.4,1654.8 1936.4,1655.1 1938.4,1655.4 1940.4,1655.6 1942.4,1655.9 1944.4,1656.2 1946.4,1656.5 1948.4,1656.7 1950.4,1657.0 1952.4,1657.3 1954.4,1657.6 1956.4,1657.8 1958.4,1658.1 1960.4,1658.4 1962.4,1658.7 1964.4,1659.0 1966.4,1659.2 1968.4,1659.5 1970.4,1659.8 1972.4,1660.1 1974.4,1660.3 1976.4,1660.6 1978.4,1660.9 1980.4,1661.2 1982.4,1661.5 1984.4,1661.8 1986.4,1662.0 1988.4,1662.3 1990.4,1662.6 1992.4,1662.9 1994.4,1663.2 1996.4,1663.5 1998.4,1663.8 2000.4,1664.0 2002.4,1664.3 2004.4,1664.6 2006.4,1664.9 2008.4,1665.2 2010.4,1665.5 2012.4,1665.8 2014.4,1666.1 2016.4,1666.4 2018.4,1666.7 2020.4,1667.0 2022.4,1667.3 2024.4,1667.6 2026.4,1667.9 2028.4,1668.2 2030.4,1668.5 2032.4,1668.8 2034.4,1669.1 2036.4,1669.4 2038.4,1669.7 2040.4,1670.0 2042.4,1670.3 2044.4,1670.6 2046.4,1670.9 2048.4,1671.2 2050.4,1671.5 2052.4,1671.8 2054.4,1672.1 2056.4,1672.4 2058.4,1672.7 2060.4,1673.0 2062.4,1673.3 2064.4,1673.6 2066.4,1673.9 2068.4,1674.2 2070.4,1674.6 2072.4,1674.9 2074.4,1675.2 2076.4,1675.5 2078.4,1675.8 2080.4,1676.1 2082.4,1676.4 2084.4,1676.7 2086.4,1677.0 2088.4,1677.3 2090.4,1677.6 2092.4,1677.9 2094.4,1678.2 2096.4,1678.5 2098.4,1678.8 2100.4,1679.1 2102.5,1679.4 2104.5,1679.8 2106.5,1680.1 2108.5,1680.4 2110.5,1680.7 2112.5,1681.0 2114.5,1681.3 2116.5,1681.6 2118.5,1681.9 2120.5,1682.2 2122.5,1682.5 2124.5,1682.8 2126.5,1683.1 2128.5,1683.4 2130.5,1683.6 2132.5,1683.9 2134.5,1684.2 2136.5,1684.5 2138.5,1684.8 2140.5,1685.0 2142.5,1685.3 2144.5,1685.6 2146.5,1685.9 2148.5,1686.2 2150.5,1686.4 2152.5,1686.7 2154.5,1687.0 2156.5,1687.3 2158.5,1687.5 2160.5,1687.8 2162.5,1688.1 2164.5,1688.3 2166.5,1688.6 2168.5,1688.9 2170.5,1689.1 2172.5,1689.4 2174.5,1689.6 2176.5,1689.9 2178.5,1690.1 2180.5,1690.4 2182.5,1690.6 2184.5,1690.8 2186.5,1691.1 2188.5,1691.3 2190.5,1691.5 2192.5,1691.7 2194.5,1691.9 2196.5,1692.1 2198.5,1692.3 2200.5,1692.5 2202.5,1692.7 2204.5,1692.9 2206.5,1693.1 2208.5,1693.3 2210.5,1693.5 2212.5,1693.7 2214.5,1693.9 2216.5,1694.1 2218.5,1694.3 2220.5,1694.5 2222.5,1694.7 2224.5,1694.9 2226.5,1695.2 2228.5,1695.4 2230.5,1695.6 2232.5,1695.8 2234.5,1696.0 2236.5,1696.2 2238.5,1696.4 2240.5,1696.6 2242.5,1696.8 2244.5,1697.0 2246.5,1697.3 2248.5,1697.5 2250.5,1697.7 2252.5,1697.9 2254.5,1698.2 2256.5,1698.4 2258.5,1698.6 2260.5,1698.9 2262.5,1699.2 2264.5,1699.4 2266.5,1699.7 2268.5,1700.0 2270.5,1700.2 2272.5,1700.5 2274.5,1700.8 2276.5,1701.1 2278.5,1701.4 2280.5,1701.7 2282.5,1702.1 2284.5,1702.5 2286.5,1702.9 2288.5,1703.4 2290.5,1703.9 2292.5,1704.5 2294.5,1705.3 2296.5,1706.2 2298.5,1707.3 2300.5,1708.5 2302.5,1709.7 2304.5,1711.0" fill="none" stroke="#bcbcbc" stroke-width="3.2" stroke-linejoin="round"/>
<polyline points="270.0,1407.0 272.0,1407.0 274.0,1407.0 276.0,1407.0 278.0,1407.0 280.0,1407.0 282.0,1407.0 284.0,1407.0 286.0,1407.0 288.0,1407.0 290.0,1407.0 292.0,1407.0 294.0,1407.0 296.0,1407.0 298.0,1407.0 300.0,1407.0 302.0,1407.0 304.0,1407.0 306.0,1407.0 308.0,1407.0 310.0,1407.0 312.0,1406.9 314.0,1406.8 316.0,1406.7 318.0,1406.5 320.0,1406.3 322.0,1406.0 324.0,1405.8 326.0,1405.5 328.0,1405.2 330.0,1404.9 332.0,1404.6 334.0,1404.3 336.0,1403.9 338.0,1403.6 340.0,1403.3 342.0,1403.0 344.0,1402.7 346.0,1402.3 348.0,1402.0 350.0,1401.6 352.0,1401.2 354.0,1400.8 356.0,1400.4 358.0,1399.9 360.0,1399.5 362.0,1399.0 364.0,1398.6 366.0,1398.1 368.0,1397.6 370.0,1397.2 372.0,1396.7 374.0,1396.3 376.0,1395.8 378.0,1395.4 380.0,1394.9 382.0,1394.5 384.0,1394.0 386.0,1393.5 388.0,1393.1 390.0,1392.6 392.0,1392.1 394.0,1391.6 396.0,1391.1 398.0,1390.6 400.0,1390.1 402.0,1389.5 404.0,1389.0 406.0,1388.4 408.0,1387.9 410.0,1387.3 412.0,1386.7 414.0,1386.0 416.0,1385.4 418.0,1384.8 420.0,1384.1 422.0,1383.4 424.0,1382.7 426.0,1382.0 428.0,1381.3 430.0,1380.6 432.0,1379.9 434.0,1379.1 436.0,1378.4 438.0,1377.6 440.0,1376.8 442.0,1376.0 444.0,1375.2 446.0,1374.3 448.0,1373.5 450.0,1372.6 452.0,1371.8 454.0,1370.9 456.0,1370.0 458.0,1369.1 460.0,1368.1 462.0,1367.2 464.0,1366.2 466.0,1365.2 468.0,1364.2 470.0,1363.1 472.0,1362.1 474.1,1361.0 476.1,1359.9 478.1,1358.7 480.1,1357.5 482.1,1356.3 484.1,1355.1 486.1,1353.9 488.1,1352.6 490.1,1351.2 492.1,1349.9 494.1,1348.5 496.1,1347.0 498.1,1345.6 500.1,1344.0 502.1,1342.5 504.1,1340.8 506.1,1339.2 508.1,1337.5 510.1,1335.7 512.1,1334.0 514.1,1332.2 516.1,1330.4 518.1,1328.7 520.1,1326.9 522.1,1325.1 524.1,1323.3 526.1,1321.6 528.1,1319.8 530.1,1318.0 532.1,1316.1 534.1,1314.3 536.1,1312.4 538.1,1310.6 540.1,1308.7 542.1,1306.9 544.1,1305.0 546.1,1303.2 548.1,1301.4 550.1,1299.7 552.1,1298.0 554.1,1296.4 556.1,1294.7 558.1,1293.1 560.1,1291.5 562.1,1289.9 564.1,1288.4 566.1,1286.8 568.1,1285.3 570.1,1283.8 572.1,1282.3 574.1,1280.9 576.1,1279.5 578.1,1278.1 580.1,1276.8 582.1,1275.5 584.1,1274.2 586.1,1272.9 588.1,1271.5 590.1,1270.3 592.1,1269.0 594.1,1267.9 596.1,1266.9 598.1,1266.1 600.1,1265.5 602.1,1265.0 604.1,1264.5 606.1,1264.0 608.1,1263.6 610.1,1263.2 612.1,1262.9 614.1,1262.6 616.1,1262.4 618.1,1262.3 620.1,1262.2 622.1,1262.3 624.1,1262.7 626.1,1263.2 628.1,1264.0 630.1,1264.9 632.1,1265.8 634.1,1266.9 636.1,1268.0 638.1,1269.0 640.1,1270.1 642.1,1271.0 644.1,1272.0 646.1,1273.1 648.1,1274.2 650.1,1275.3 652.1,1276.5 654.1,1277.7 656.1,1279.0 658.1,1280.4 660.1,1281.8 662.1,1283.3 664.1,1285.0 666.1,1286.8 668.1,1288.7 670.1,1290.8 672.1,1292.9 674.1,1295.1 676.1,1297.3 678.1,1299.6 680.1,1302.0 682.1,1304.3 684.1,1306.6 686.1,1309.0 688.1,1311.3 690.1,1313.6 692.1,1315.8 694.1,1318.0 696.1,1320.2 698.1,1322.5 700.1,1324.7 702.1,1327.0 704.1,1329.3 706.1,1331.6 708.1,1333.9 710.1,1336.1 712.1,1338.4 714.1,1340.7 716.1,1343.0 718.1,1345.2 720.1,1347.5 722.1,1349.7 724.1,1352.0 726.1,1354.3 728.1,1356.6 730.1,1358.9 732.1,1361.2 734.1,1363.5 736.1,1365.8 738.1,1368.1 740.1,1370.3 742.1,1372.6 744.1,1374.7 746.1,1376.8 748.1,1378.9 750.1,1380.8 752.1,1382.7 754.1,1384.6 756.1,1386.3 758.1,1388.0 760.1,1389.7 762.1,1391.3 764.1,1392.9 766.1,1394.4 768.1,1396.0 770.1,1397.5 772.1,1399.0 774.1,1400.5 776.1,1402.0 778.1,1403.5 780.1,1405.0 782.1,1406.5 784.1,1408.0 786.1,1409.5 788.1,1411.1 790.1,1412.6 792.1,1414.1 794.1,1415.6 796.1,1417.1 798.1,1418.6 800.1,1420.0 802.1,1421.5 804.1,1422.9 806.1,1424.4 808.1,1425.8 810.1,1427.2 812.1,1428.6 814.1,1430.1 816.1,1431.5 818.1,1432.9 820.1,1434.3 822.1,1435.6 824.1,1437.0 826.1,1438.4 828.1,1439.8 830.1,1441.1 832.1,1442.4 834.1,1443.8 836.1,1445.1 838.1,1446.4 840.1,1447.7 842.1,1449.0 844.1,1450.2 846.1,1451.5 848.1,1452.7 850.1,1454.0 852.1,1455.2 854.1,1456.4 856.1,1457.6 858.1,1458.8 860.1,1459.9 862.1,1461.0 864.1,1462.0 866.1,1463.0 868.1,1464.0 870.1,1465.0 872.1,1465.9 874.1,1466.9 876.1,1467.8 878.1,1468.7 880.1,1469.6 882.2,1470.4 884.2,1471.3 886.2,1472.1 888.2,1473.0 890.2,1473.8 892.2,1474.6 894.2,1475.4 896.2,1476.2 898.2,1477.0 900.2,1477.8 902.2,1478.6 904.2,1479.4 906.2,1480.2 908.2,1480.9 910.2,1481.7 912.2,1482.5 914.2,1483.3 916.2,1484.0 918.2,1484.8 920.2,1485.5 922.2,1486.3 924.2,1487.0 926.2,1487.7 928.2,1488.4 930.2,1489.1 932.2,1489.8 934.2,1490.5 936.2,1491.2 938.2,1491.8 940.2,1492.4 942.2,1493.0 944.2,1493.6 946.2,1494.2 948.2,1494.8 950.2,1495.3 952.2,1495.9 954.2,1496.4 956.2,1496.9 958.2,1497.5 960.2,1498.0 962.2,1498.5 964.2,1498.9 966.2,1499.4 968.2,1499.9 970.2,1500.4 972.2,1500.8 974.2,1501.3 976.2,1501.8 978.2,1502.2 980.2,1502.7 982.2,1503.1 984.2,1503.5 986.2,1504.0 988.2,1504.4 990.2,1504.9 992.2,1505.3 994.2,1505.7 996.2,1506.2 998.2,1506.6 1000.2,1507.0 1002.2,1507.5 1004.2,1507.9 1006.2,1508.3 1008.2,1508.8 1010.2,1509.2 1012.2,1509.6 1014.2,1510.1 1016.2,1510.5 1018.2,1510.9 1020.2,1511.3 1022.2,1511.7 1024.2,1512.1 1026.2,1512.5 1028.2,1512.9 1030.2,1513.4 1032.2,1513.8 1034.2,1514.2 1036.2,1514.6 1038.2,1515.0 1040.2,1515.4 1042.2,1515.8 1044.2,1516.2 1046.2,1516.6 1048.2,1516.9 1050.2,1517.3 1052.2,1517.7 1054.2,1518.1 1056.2,1518.5 1058.2,1518.9 1060.2,1519.3 1062.2,1519.7 1064.2,1520.1 1066.2,1520.5 1068.2,1520.9 1070.2,1521.3 1072.2,1521.7 1074.2,1522.1 1076.2,1522.5 1078.2,1522.8 1080.2,1523.2 1082.2,1523.6 1084.2,1524.0 1086.2,1524.4 1088.2,1524.8 1090.2,1525.2 1092.2,1525.6 1094.2,1526.0 1096.2,1526.4 1098.2,1526.8 1100.2,1527.2 1102.2,1527.7 1104.2,1528.1 1106.2,1528.5 1108.2,1528.9 1110.2,1529.3 1112.2,1529.7 1114.2,1530.1 1116.2,1530.5 1118.2,1530.9 1120.2,1531.3 1122.2,1531.7 1124.2,1532.1 1126.2,1532.5 1128.2,1532.9 1130.2,1533.3 1132.2,1533.7 1134.2,1534.1 1136.2,1534.5 1138.2,1534.9 1140.2,1535.3 1142.2,1535.7 1144.2,1536.1 1146.2,1536.5 1148.2,1536.9 1150.2,1537.3 1152.2,1537.7 1154.2,1538.1 1156.2,1538.5 1158.2,1538.9 1160.2,1539.3 1162.2,1539.7 1164.2,1540.1 1166.2,1540.5 1168.2,1540.9 1170.2,1541.3 1172.2,1541.7 1174.2,1542.0 1176.2,1542.4 1178.2,1542.8 1180.2,1543.2 1182.2,1543.6 1184.2,1544.0 1186.2,1544.3 1188.2,1544.7 1190.2,1545.1 1192.2,1545.4 1194.2,1545.8 1196.2,1546.2 1198.2,1546.5 1200.2,1546.9 1202.2,1547.3 1204.2,1547.6 1206.2,1548.0 1208.2,1548.3 1210.2,1548.7 1212.2,1549.0 1214.2,1549.4 1216.2,1549.7 1218.2,1550.1 1220.2,1550.4 1222.2,1550.8 1224.2,1551.1 1226.2,1551.4 1228.2,1551.8 1230.2,1552.1 1232.2,1552.4 1234.2,1552.7 1236.2,1553.1 1238.2,1553.4 1240.2,1553.7 1242.2,1554.0 1244.2,1554.4 1246.2,1554.7 1248.2,1555.0 1250.2,1555.3 1252.2,1555.6 1254.2,1555.9 1256.2,1556.3 1258.2,1556.6 1260.2,1556.9 1262.2,1557.2 1264.2,1557.5 1266.2,1557.8 1268.2,1558.1 1270.2,1558.4 1272.2,1558.7 1274.2,1559.0 1276.2,1559.3 1278.2,1559.7 1280.2,1560.0 1282.2,1560.3 1284.2,1560.6 1286.2,1560.9 1288.3,1561.2 1290.3,1561.5 1292.3,1561.8 1294.3,1562.1 1296.3,1562.4 1298.3,1562.7 1300.3,1563.0 1302.3,1563.3 1304.3,1563.7 1306.3,1564.0 1308.3,1564.3 1310.3,1564.6 1312.3,1564.9 1314.3,1565.2 1316.3,1565.5 1318.3,1565.8 1320.3,1566.1 1322.3,1566.4 1324.3,1566.7 1326.3,1567.0 1328.3,1567.4 1330.3,1567.7 1332.3,1568.0 1334.3,1568.3 1336.3,1568.6 1338.3,1568.9 1340.3,1569.2 1342.3,1569.5 1344.3,1569.8 1346.3,1570.1 1348.3,1570.4 1350.3,1570.7 1352.3,1571.0 1354.3,1571.3 1356.3,1571.6 1358.3,1571.9 1360.3,1572.2 1362.3,1572.5 1364.3,1572.8 1366.3,1573.1 1368.3,1573.4 1370.3,1573.7 1372.3,1574.0 1374.3,1574.3 1376.3,1574.6 1378.3,1574.9 1380.3,1575.2 1382.3,1575.5 1384.3,1575.8 1386.3,1576.1 1388.3,1576.4 1390.3,1576.7 1392.3,1577.0 1394.3,1577.3 1396.3,1577.6 1398.3,1577.9 1400.3,1578.2 1402.3,1578.5 1404.3,1578.8 1406.3,1579.1 1408.3,1579.4 1410.3,1579.7 1412.3,1580.0 1414.3,1580.3 1416.3,1580.6 1418.3,1580.9 1420.3,1581.2 1422.3,1581.5 1424.3,1581.8 1426.3,1582.1 1428.3,1582.4 1430.3,1582.7 1432.3,1583.0 1434.3,1583.3 1436.3,1583.6 1438.3,1583.8 1440.3,1584.1 1442.3,1584.4 1444.3,1584.7 1446.3,1585.0 1448.3,1585.3 1450.3,1585.6 1452.3,1585.9 1454.3,1586.2 1456.3,1586.5 1458.3,1586.8 1460.3,1587.0 1462.3,1587.3 1464.3,1587.6 1466.3,1587.9 1468.3,1588.2 1470.3,1588.5 1472.3,1588.8 1474.3,1589.0 1476.3,1589.3 1478.3,1589.6 1480.3,1589.9 1482.3,1590.1 1484.3,1590.4 1486.3,1590.7 1488.3,1591.0 1490.3,1591.3 1492.3,1591.5 1494.3,1591.8 1496.3,1592.1 1498.3,1592.3 1500.3,1592.6 1502.3,1592.9 1504.3,1593.2 1506.3,1593.4 1508.3,1593.7 1510.3,1594.0 1512.3,1594.3 1514.3,1594.5 1516.3,1594.8 1518.3,1595.1 1520.3,1595.4 1522.3,1595.6 1524.3,1595.9 1526.3,1596.2 1528.3,1596.5 1530.3,1596.7 1532.3,1597.0 1534.3,1597.3 1536.3,1597.6 1538.3,1597.9 1540.3,1598.1 1542.3,1598.4 1544.3,1598.7 1546.3,1599.0 1548.3,1599.3 1550.3,1599.6 1552.3,1599.9 1554.3,1600.2 1556.3,1600.5 1558.3,1600.8 1560.3,1601.0 1562.3,1601.3 1564.3,1601.6 1566.3,1602.0 1568.3,1602.3 1570.3,1602.6 1572.3,1602.9 1574.3,1603.2 1576.3,1603.5 1578.3,1603.8 1580.3,1604.1 1582.3,1604.4 1584.3,1604.8 1586.3,1605.1 1588.3,1605.4 1590.3,1605.7 1592.3,1606.0 1594.3,1606.4 1596.3,1606.7 1598.3,1607.0 1600.3,1607.3 1602.3,1607.6 1604.3,1608.0 1606.3,1608.3 1608.3,1608.6 1610.3,1608.9 1612.3,1609.3 1614.3,1609.6 1616.3,1609.9 1618.3,1610.2 1620.3,1610.5 1622.3,1610.9 1624.3,1611.2 1626.3,1611.5 1628.3,1611.8 1630.3,1612.1 1632.3,1612.4 1634.3,1612.7 1636.3,1613.1 1638.3,1613.4 1640.3,1613.7 1642.3,1614.0 1644.3,1614.3 1646.3,1614.6 1648.3,1614.9 1650.3,1615.2 1652.3,1615.6 1654.3,1615.9 1656.3,1616.2 1658.3,1616.5 1660.3,1616.8 1662.3,1617.1 1664.3,1617.4 1666.3,1617.8 1668.3,1618.1 1670.3,1618.4 1672.3,1618.7 1674.3,1619.0 1676.3,1619.3 1678.3,1619.6 1680.3,1619.9 1682.3,1620.2 1684.3,1620.5 1686.3,1620.8 1688.3,1621.1 1690.3,1621.4 1692.3,1621.7 1694.4,1622.0 1696.4,1622.3 1698.4,1622.6 1700.4,1622.9 1702.4,1623.2 1704.4,1623.5 1706.4,1623.8 1708.4,1624.0 1710.4,1624.3 1712.4,1624.6 1714.4,1624.9 1716.4,1625.1 1718.4,1625.4 1720.4,1625.7 1722.4,1625.9 1724.4,1626.2 1726.4,1626.4 1728.4,1626.7 1730.4,1626.9 1732.4,1627.1 1734.4,1627.4 1736.4,1627.6 1738.4,1627.9 1740.4,1628.1 1742.4,1628.3 1744.4,1628.6 1746.4,1628.8 1748.4,1629.0 1750.4,1629.3 1752.4,1629.5 1754.4,1629.7 1756.4,1630.0 1758.4,1630.2 1760.4,1630.4 1762.4,1630.7 1764.4,1630.9 1766.4,1631.2 1768.4,1631.4 1770.4,1631.6 1772.4,1631.9 1774.4,1632.1 1776.4,1632.4 1778.4,1632.6 1780.4,1632.9 1782.4,1633.2 1784.4,1633.4 1786.4,1633.7 1788.4,1634.0 1790.4,1634.2 1792.4,1634.5 1794.4,1634.8 1796.4,1635.1 1798.4,1635.4 1800.4,1635.7 1802.4,1636.0 1804.4,1636.3 1806.4,1636.6 1808.4,1636.9 1810.4,1637.2 1812.4,1637.5 1814.4,1637.9 1816.4,1638.2 1818.4,1638.5 1820.4,1638.8 1822.4,1639.1 1824.4,1639.5 1826.4,1639.8 1828.4,1640.1 1830.4,1640.4 1832.4,1640.8 1834.4,1641.1 1836.4,1641.4 1838.4,1641.7 1840.4,1642.0 1842.4,1642.3 1844.4,1642.7 1846.4,1643.0 1848.4,1643.3 1850.4,1643.6 1852.4,1643.9 1854.4,1644.2 1856.4,1644.5 1858.4,1644.8 1860.4,1645.1 1862.4,1645.3 1864.4,1645.6 1866.4,1645.9 1868.4,1646.2 1870.4,1646.5 1872.4,1646.7 1874.4,1647.0 1876.4,1647.3 1878.4,1647.5 1880.4,1647.8 1882.4,1648.1 1884.4,1648.3 1886.4,1648.6 1888.4,1648.9 1890.4,1649.1 1892.4,1649.4 1894.4,1649.6 1896.4,1649.9 1898.4,1650.2 1900.4,1650.4 1902.4,1650.7 1904.4,1650.9 1906.4,1651.2 1908.4,1651.5 1910.4,1651.7 1912.4,1652.0 1914.4,1652.2 1916.4,1652.5 1918.4,1652.7 1920.4,1653.0 1922.4,1653.3 1924.4,1653.5 1926.4,1653.8 1928.4,1654.0 1930.4,1654.3 1932.4,1654.6 1934.4,1654.8 1936.4,1655.1 1938.4,1655.4 1940.4,1655.6 1942.4,1655.9 1944.4,1656.2 1946.4,1656.5 1948.4,1656.7 1950.4,1657.0 1952.4,1657.3 1954.4,1657.6 1956.4,1657.8 1958.4,1658.1 1960.4,1658.4 1962.4,1658.7 1964.4,1659.0 1966.4,1659.2 1968.4,1659.5 1970.4,1659.8 1972.4,1660.1 1974.4,1660.3 1976.4,1660.6 1978.4,1660.9 1980.4,1661.2 1982.4,1661.5 1984.4,1661.8 1986.4,1662.0 1988.4,1662.3 1990.4,1662.6 1992.4,1662.9 1994.4,1663.2 1996.4,1663.5 1998.4,1663.8 2000.4,1664.0 2002.4,1664.3 2004.4,1664.6 2006.4,1664.9 2008.4,1665.2 2010.4,1665.5 2012.4,1665.8 2014.4,1666.1 2016.4,1666.4 2018.4,1666.7 2020.4,1667.0 2022.4,1667.3 2024.4,1667.6 2026.4,1667.9 2028.4,1668.2 2030.4,1668.5 2032.4,1668.8 2034.4,1669.1 2036.4,1669.4 2038.4,1669.7 2040.4,1670.0 2042.4,1670.3 2044.4,1670.6 2046.4,1670.9 2048.4,1671.2 2050.4,1671.5 2052.4,1671.8 2054.4,1672.1 2056.4,1672.4 2058.4,1672.7 2060.4,1673.0 2062.4,1673.3 2064.4,1673.6 2066.4,1673.9 2068.4,1674.2 2070.4,1674.6 2072.4,1674.9 2074.4,1675.2 2076.4,1675.5 2078.4,1675.8 2080.4,1676.1 2082.4,1676.4 2084.4,1676.7 2086.4,1677.0 2088.4,1677.3 2090.4,1677.6 2092.4,1677.9 2094.4,1678.2 2096.4,1678.5 2098.4,1678.8 2100.4,1679.1 2102.5,1679.4 2104.5,1679.8 2106.5,1680.1 2108.5,1680.4 2110.5,1680.7 2112.5,1681.0 2114.5,1681.3 2116.5,1681.6 2118.5,1681.9 2120.5,1682.2 2122.5,1682.5 2124.5,1682.8 2126.5,1683.1 2128.5,1683.4 2130.5,1683.6 2132.5,1683.9 2134.5,1684.2 2136.5,1684.5 2138.5,1684.8 2140.5,1685.0 2142.5,1685.3 2144.5,1685.6 2146.5,1685.9 2148.5,1686.2 2150.5,1686.4 2152.5,1686.7 2154.5,1687.0 2156.5,1687.3 2158.5,1687.5 2160.5,1687.8 2162.5,1688.1 2164.5,1688.3 2166.5,1688.6 2168.5,1688.9 2170.5,1689.1 2172.5,1689.4 2174.5,1689.6 2176.5,1689.9 2178.5,1690.1 2180.5,1690.4 2182.5,1690.6 2184.5,1690.8 2186.5,1691.1 2188.5,1691.3 2190.5,1691.5 2192.5,1691.7 2194.5,1691.9 2196.5,1692.1 2198.5,1692.3 2200.5,1692.5 2202.5,1692.7 2204.5,1692.9 2206.5,1693.1 2208.5,1693.3 2210.5,1693.5 2212.5,1693.7 2214.5,1693.9 2216.5,1694.1 2218.5,1694.3 2220.5,1694.5 2222.5,1694.7 2224.5,1694.9 2226.5,1695.2 2228.5,1695.4 2230.5,1695.6 2232.5,1695.8 2234.5,1696.0 2236.5,1696.2 2238.5,1696.4 2240.5,1696.6 2242.5,1696.8 2244.5,1697.0 2246.5,1697.3 2248.5,1697.5 2250.5,1697.7 2252.5,1697.9 2254.5,1698.2 2256.5,1698.4 2258.5,1698.6 2260.5,1698.9 2262.5,1699.2 2264.5,1699.4 2266.5,1699.7 2268.5,1700.0 2270.5,1700.2 2272.5,1700.5 2274.5,1700.8 2276.5,1701.1 2278.5,1701.4 2280.5,1701.7 2282.5,1702.1 2284.5,1702.5 2286.5,1702.9 2288.5,1703.4 2290.5,1703.9 2292.5,1704.5 2294.5,1705.3 2296.5,1706.2 2298.5,1707.3 2300.5,1708.5 2302.5,1709.7 2304.5,1711.0" fill="none" stroke="#787878" stroke-width="3.2" stroke-linejoin="round"/>
<polyline points="2304.5,1711.0 2310.0,1722.0 2315.0,1735.0" fill="none" stroke="#787878" stroke-width="3.2" stroke-linejoin="round"/>
<polyline points="330.0,1442.0 332.0,1442.1 334.0,1442.1 336.0,1442.2 338.0,1442.2 340.0,1442.3 342.0,1442.4 344.0,1442.5 346.0,1442.6 348.0,1442.7 350.0,1442.8 352.0,1442.9 354.0,1443.0 356.0,1443.1 358.0,1443.3 360.0,1443.4 362.0,1443.5 364.0,1443.6 366.0,1443.8 368.0,1443.9 370.0,1444.0 372.0,1444.2 374.0,1444.4 376.0,1444.6 378.0,1444.8 380.0,1445.0 382.0,1445.2 384.0,1445.5 386.0,1445.7 388.0,1445.9 390.0,1446.2 392.0,1446.4 394.0,1446.6 396.0,1446.9 398.0,1447.1 400.0,1447.3 402.0,1447.5 404.0,1447.7 406.0,1447.8 408.0,1448.0 410.0,1448.1 412.0,1448.3 414.0,1448.4 416.0,1448.5 418.0,1448.7 420.0,1448.8 422.0,1448.9 424.0,1449.0 426.0,1449.1 428.0,1449.3 430.0,1449.4 432.0,1449.5 434.0,1449.6 436.0,1449.7 438.0,1449.8 440.0,1449.9 442.0,1450.0 444.0,1450.1 446.0,1450.2 448.0,1450.3 450.0,1450.4 452.0,1450.5 454.0,1450.6 456.0,1450.7 458.0,1450.9 460.0,1451.0 462.0,1451.1 464.0,1451.2 466.0,1451.3 468.0,1451.4 470.0,1451.6 472.0,1451.7 474.0,1451.9 476.0,1452.0 478.0,1452.2 480.0,1452.3 482.0,1452.5 484.0,1452.7 486.0,1452.8 488.0,1453.0 490.0,1453.2 492.0,1453.4 494.0,1453.6 496.0,1453.8 498.0,1454.0 500.0,1454.2 502.0,1454.4 504.0,1454.6 506.0,1454.8 508.0,1455.0 510.0,1455.2 512.0,1455.5 514.0,1455.7 516.0,1455.8 518.0,1456.0 520.0,1456.2 522.0,1456.4 524.0,1456.6 526.0,1456.8 528.0,1456.9 530.0,1457.1 532.0,1457.2 534.0,1457.4 536.0,1457.5 538.0,1457.7 540.0,1457.8 542.0,1457.9 544.0,1458.1 546.0,1458.2 548.0,1458.3 550.0,1458.5 552.0,1458.6 554.0,1458.7 556.0,1458.8 558.0,1459.0 560.0,1459.1 562.0,1459.2 564.0,1459.3 566.0,1459.4 568.0,1459.6 570.0,1459.7 572.0,1459.8 574.0,1459.9 576.0,1460.1 578.0,1460.2 580.0,1460.3 582.0,1460.4 584.0,1460.6 586.0,1460.7 588.0,1460.9 590.0,1461.0 592.0,1461.1 594.0,1461.3 596.0,1461.5 598.0,1461.6 600.0,1461.8 602.0,1462.0 604.0,1462.2 606.0,1462.4 608.0,1462.6 610.0,1462.8 612.0,1462.9 614.0,1463.1 616.0,1463.3 618.0,1463.5 620.0,1463.7 622.0,1463.9 624.0,1464.0 626.0,1464.2 628.0,1464.3 630.0,1464.5 632.0,1464.6 634.0,1464.7 636.0,1464.8 638.0,1464.9 640.0,1465.0 642.0,1465.0 644.0,1465.1 646.0,1465.1 648.0,1465.2 650.0,1465.2 652.0,1465.3 654.0,1465.3 656.0,1465.3 658.0,1465.4 660.0,1465.4 662.0,1465.4 664.0,1465.5 666.0,1465.5 668.0,1465.5 670.0,1465.6 672.0,1465.6 674.0,1465.6 676.0,1465.6 678.0,1465.7 680.0,1465.7 682.0,1465.7 684.0,1465.8 686.0,1465.8 688.0,1465.8 690.0,1465.8 692.0,1465.9 694.0,1465.9 696.0,1465.9 698.0,1466.0 700.0,1466.0 702.0,1466.0 704.0,1466.1 706.0,1466.1 708.0,1466.2 710.0,1466.2 712.0,1466.3 714.0,1466.3 716.0,1466.4 718.0,1466.4 720.0,1466.5 722.0,1466.5 724.0,1466.6 726.0,1466.6 728.0,1466.7 730.0,1466.7 732.0,1466.8 734.0,1466.8 736.0,1466.9 738.0,1466.9 740.0,1466.9 742.0,1467.0 744.0,1467.0 746.0,1467.0 748.0,1467.0 750.0,1467.0 752.0,1467.0 754.0,1467.0 756.0,1467.0 758.0,1467.0 760.0,1466.9 762.0,1466.9 764.0,1466.9 766.0,1466.9 768.0,1466.8 770.0,1466.8 772.0,1466.7 774.0,1466.7 776.0,1466.7 778.0,1466.6 780.0,1466.6 782.0,1466.5 784.0,1466.5 786.0,1466.4 788.0,1466.3 790.0,1466.3 792.0,1466.2 794.0,1466.2 796.0,1466.1 798.0,1466.1 800.0,1466.0 802.0,1465.9 804.0,1465.9 806.0,1465.8 808.0,1465.7 810.0,1465.7 812.0,1465.6 814.0,1465.5 816.0,1465.4 818.0,1465.3 820.0,1465.2 822.0,1465.1 824.0,1465.0 826.0,1464.9 828.0,1464.8 830.0,1464.7 832.0,1464.6 834.0,1464.5 836.0,1464.4 838.0,1464.3 840.0,1464.2 842.0,1464.0 844.0,1463.9 846.0,1463.8 848.0,1463.7 850.0,1463.6 852.0,1463.5 854.0,1463.3 856.0,1463.2 858.0,1463.1 860.0,1463.0 862.0,1462.9 864.0,1462.8 866.0,1462.7 868.0,1462.5 870.0,1462.4 872.0,1462.3 874.0,1462.2 876.0,1462.1 878.0,1461.9 880.0,1461.8 882.0,1461.7 884.0,1461.6 886.0,1461.4 888.0,1461.3 890.0,1461.1 892.0,1461.0 894.0,1460.9 896.0,1460.7 898.0,1460.6 900.0,1460.4 902.0,1460.2 904.0,1460.1 906.0,1459.9 908.0,1459.8 910.0,1459.6 912.0,1459.4 914.0,1459.2 916.0,1459.1 918.0,1458.9 920.0,1458.7 922.0,1458.5 924.0,1458.3 926.0,1458.1 928.0,1457.8 930.0,1457.6 932.0,1457.4 934.0,1457.1 936.0,1456.8 938.0,1456.5 940.0,1456.2 942.0,1455.9 944.0,1455.5 946.0,1455.0 948.0,1454.6 950.0,1454.1 952.0,1453.6 954.0,1453.0 956.0,1452.5 958.0,1452.0 960.0,1451.4 962.0,1450.9 964.0,1450.3 966.0,1449.8 968.0,1449.3 970.0,1448.8 972.0,1448.4 974.0,1447.9 976.0,1447.5 978.0,1447.0 980.0,1446.6 982.0,1446.1 984.0,1445.7 986.0,1445.3 988.0,1444.8 990.0,1444.4 992.0,1444.0 994.0,1443.6 996.0,1443.1 998.0,1442.7 1000.0,1442.3 1002.0,1441.9 1004.0,1441.5 1006.0,1441.1 1008.0,1440.7 1010.0,1440.3 1012.0,1439.9 1014.0,1439.5 1016.0,1439.1 1018.0,1438.7 1020.0,1438.3 1022.0,1437.9 1024.0,1437.5 1026.0,1437.2 1028.0,1436.8 1030.0,1436.4 1032.0,1436.0 1034.0,1435.6 1036.0,1435.2 1038.0,1434.8 1040.0,1434.4 1042.0,1434.0 1044.0,1433.6 1046.0,1433.1 1048.0,1432.7 1050.0,1432.2 1052.0,1431.8 1054.0,1431.3 1056.0,1430.8 1058.0,1430.3 1060.0,1429.8 1062.0,1429.3 1064.0,1428.8 1066.0,1428.3 1068.0,1427.9 1070.0,1427.4 1072.0,1426.9 1074.0,1426.5 1076.0,1426.0 1078.0,1425.6 1080.0,1425.2 1082.0,1424.8 1084.0,1424.4 1086.0,1424.0 1088.0,1423.6 1090.0,1423.2 1092.0,1422.8 1094.0,1422.4 1096.0,1422.0 1098.0,1421.6 1100.0,1421.3 1102.0,1420.9 1104.0,1420.5 1106.0,1420.2 1108.0,1419.8 1110.0,1419.5 1112.0,1419.2 1114.0,1418.8 1116.0,1418.5 1118.0,1418.2 1120.0,1417.9 1122.0,1417.7 1124.0,1417.4 1126.0,1417.1 1128.0,1416.9 1130.0,1416.6 1132.0,1416.4 1134.0,1416.1 1136.0,1415.8 1138.0,1415.6 1140.0,1415.3 1142.0,1415.1 1144.0,1414.8 1146.0,1414.6 1148.0,1414.3 1150.0,1414.1 1152.0,1413.9 1154.0,1413.7 1156.0,1413.5 1158.0,1413.3 1160.0,1413.1 1162.0,1413.0 1164.0,1412.8 1166.0,1412.7 1168.0,1412.6 1170.0,1412.6 1172.0,1412.5 1174.0,1412.5 1176.0,1412.5 1178.0,1412.6 1180.0,1412.7 1182.0,1412.8 1184.0,1413.0 1186.0,1413.2 1188.0,1413.4 1190.0,1413.6 1192.0,1413.9 1194.0,1414.1 1196.0,1414.4 1198.0,1414.7 1200.0,1414.9 1202.0,1415.2 1204.0,1415.4 1206.0,1415.7 1208.0,1416.0 1210.0,1416.3 1212.0,1416.7 1214.0,1417.0 1216.0,1417.4 1218.0,1417.8 1220.0,1418.1 1222.0,1418.5 1224.0,1418.9 1226.0,1419.4 1228.0,1419.8 1230.0,1420.2 1232.0,1420.7 1234.0,1421.1 1236.0,1421.6 1238.0,1422.0 1240.0,1422.5 1242.0,1422.9 1244.0,1423.4 1246.0,1423.9 1248.0,1424.3 1250.0,1424.8 1252.0,1425.3 1254.0,1425.8 1256.0,1426.3 1258.0,1426.8 1260.0,1427.3 1262.0,1427.9 1264.0,1428.4 1266.0,1429.0 1268.0,1429.6 1270.0,1430.2 1272.0,1430.8 1274.0,1431.4 1276.0,1432.0 1278.0,1432.6 1280.0,1433.3 1282.0,1434.0 1284.0,1434.7 1286.0,1435.4 1288.0,1436.1 1290.0,1436.8 1292.0,1437.6 1294.0,1438.4 1296.0,1439.1 1298.0,1439.9 1300.0,1440.7 1302.0,1441.5 1304.0,1442.3 1306.0,1443.2 1308.0,1444.0 1310.0,1444.8 1312.0,1445.7 1314.0,1446.6 1316.0,1447.5 1318.0,1448.4 1320.0,1449.3 1322.0,1450.2 1324.0,1451.1 1326.0,1452.1 1328.0,1453.0 1330.0,1454.0 1332.0,1454.9 1334.0,1455.9 1336.0,1456.8 1338.0,1457.8 1340.0,1458.8 1342.0,1459.8 1344.0,1460.7 1346.0,1461.7 1348.0,1462.7 1350.0,1463.7 1352.0,1464.7 1354.0,1465.7 1356.0,1466.6 1358.0,1467.6 1360.0,1468.6 1362.0,1469.6 1364.0,1470.6 1366.0,1471.6 1368.0,1472.5 1370.0,1473.5 1372.0,1474.5 1374.0,1475.4 1376.0,1476.4 1378.0,1477.3 1380.0,1478.3 1382.0,1479.2 1384.0,1480.1 1386.0,1481.1 1388.0,1482.0 1390.0,1482.9 1392.0,1483.8 1394.0,1484.6 1396.0,1485.5 1398.0,1486.4 1400.0,1487.2 1402.0,1488.1 1404.0,1488.9 1406.0,1489.8 1408.0,1490.6 1410.0,1491.5 1412.0,1492.3 1414.0,1493.1 1416.0,1494.0 1418.0,1494.8 1420.0,1495.6 1422.0,1496.4 1424.0,1497.3 1426.0,1498.1 1428.0,1498.9 1430.0,1499.7 1432.0,1500.5 1434.0,1501.3 1436.0,1502.1 1438.0,1502.9 1440.0,1503.7 1442.0,1504.5 1444.0,1505.3 1446.0,1506.1 1448.0,1506.9 1450.0,1507.7 1452.0,1508.5 1454.0,1509.3 1456.0,1510.1 1458.0,1510.9 1460.0,1511.6 1462.0,1512.4 1464.0,1513.2 1466.0,1514.0 1468.0,1514.8 1470.0,1515.5 1472.0,1516.3 1474.0,1517.1 1476.0,1517.9 1478.0,1518.6 1480.0,1519.4 1482.0,1520.2 1484.0,1520.9 1486.0,1521.7 1488.0,1522.5 1490.0,1523.2 1492.0,1524.0 1494.0,1524.8 1496.0,1525.5 1498.0,1526.3 1500.0,1527.1 1502.0,1527.8 1504.0,1528.6 1506.0,1529.4 1508.0,1530.1 1510.0,1530.9 1512.0,1531.6 1514.0,1532.4 1516.0,1533.2 1518.0,1533.9 1520.0,1534.7 1522.0,1535.4 1524.0,1536.2 1526.0,1536.9 1528.0,1537.7 1530.0,1538.4 1532.0,1539.1 1534.0,1539.9 1536.0,1540.6 1538.0,1541.3 1540.0,1542.1 1542.0,1542.8 1544.0,1543.5 1546.0,1544.2 1548.0,1544.9 1550.0,1545.6 1552.0,1546.3 1554.0,1547.0 1556.0,1547.7 1558.0,1548.3 1560.0,1549.0 1562.0,1549.7 1564.0,1550.3 1566.0,1551.0 1568.0,1551.6 1570.0,1552.3 1572.0,1552.9 1574.0,1553.5 1576.0,1554.2 1578.0,1554.8 1580.0,1555.4 1582.0,1556.0 1584.0,1556.7 1586.0,1557.3 1588.0,1557.9 1590.0,1558.5 1592.0,1559.1 1594.0,1559.7 1596.0,1560.3 1598.0,1560.9 1600.0,1561.5 1602.0,1562.1 1604.0,1562.7 1606.0,1563.3 1608.0,1563.9 1610.0,1564.5 1612.0,1565.0 1614.0,1565.6 1616.0,1566.2 1618.0,1566.8 1620.0,1567.4 1622.0,1567.9 1624.0,1568.5 1626.0,1569.1 1628.0,1569.7 1630.0,1570.3 1632.0,1570.8 1634.0,1571.4 1636.0,1572.0 1638.0,1572.6 1640.0,1573.2 1642.0,1573.8 1644.0,1574.3 1646.0,1574.9 1648.0,1575.5 1650.0,1576.1 1652.0,1576.7 1654.0,1577.3 1656.0,1577.9 1658.0,1578.5 1660.0,1579.1 1662.0,1579.6 1664.0,1580.2 1666.0,1580.8 1668.0,1581.4 1670.0,1581.9 1672.0,1582.5 1674.0,1583.1 1676.0,1583.6 1678.0,1584.2 1680.0,1584.7 1682.0,1585.2 1684.0,1585.8 1686.0,1586.3 1688.0,1586.8 1690.0,1587.3 1692.0,1587.8 1694.0,1588.3 1696.0,1588.8 1698.0,1589.2 1700.0,1589.7 1702.0,1590.1 1704.0,1590.6 1706.0,1591.0 1708.0,1591.4 1710.0,1591.9 1712.0,1592.3 1714.0,1592.7 1716.0,1593.1 1718.0,1593.5 1720.0,1593.9 1722.0,1594.3 1724.0,1594.7 1726.0,1595.1 1728.0,1595.5 1730.0,1595.9 1732.0,1596.2 1734.0,1596.6 1736.0,1597.0 1738.0,1597.4 1740.0,1597.7 1742.0,1598.1 1744.0,1598.5 1746.0,1598.8 1748.0,1599.2 1750.0,1599.6 1752.0,1600.0 1754.0,1600.3 1756.0,1600.7 1758.0,1601.1 1760.0,1601.5 1762.0,1601.8 1764.0,1602.2 1766.0,1602.6 1768.0,1603.0 1770.0,1603.4 1772.0,1603.8 1774.0,1604.2 1776.0,1604.6 1778.0,1605.0 1780.0,1605.4 1782.0,1605.8 1784.0,1606.3 1786.0,1606.7 1788.0,1607.1 1790.0,1607.5 1792.0,1607.9 1794.0,1608.4 1796.0,1608.8 1798.0,1609.2 1800.0,1609.6 1802.0,1610.0 1804.0,1610.4 1806.0,1610.8 1808.0,1611.2 1810.0,1611.6 1812.0,1612.0 1814.0,1612.4 1816.0,1612.8 1818.0,1613.1 1820.0,1613.5 1822.0,1613.9 1824.0,1614.3 1826.0,1614.6 1828.0,1615.0 1830.0,1615.4 1832.0,1615.7 1834.0,1616.1 1836.0,1616.4 1838.0,1616.8 1840.0,1617.1 1842.0,1617.5 1844.0,1617.9 1846.0,1618.2 1848.0,1618.6 1850.0,1618.9 1852.0,1619.3 1854.0,1619.6 1856.0,1619.9 1858.0,1620.3 1860.0,1620.6 1862.0,1621.0 1864.0,1621.3 1866.0,1621.6 1868.0,1622.0 1870.0,1622.3 1872.0,1622.7 1874.0,1623.0 1876.0,1623.3 1878.0,1623.7 1880.0,1624.0 1882.0,1624.3 1884.0,1624.7 1886.0,1625.0 1888.0,1625.3 1890.0,1625.7 1892.0,1626.0 1894.0,1626.3 1896.0,1626.6 1898.0,1627.0 1900.0,1627.3 1902.0,1627.6 1904.0,1627.9 1906.0,1628.2 1908.0,1628.6 1910.0,1628.9 1912.0,1629.2 1914.0,1629.5 1916.0,1629.8 1918.0,1630.2 1920.0,1630.5 1922.0,1630.8 1924.0,1631.1 1926.0,1631.4 1928.0,1631.7 1930.0,1632.0 1932.0,1632.4 1934.0,1632.7 1936.0,1633.0 1938.0,1633.3 1940.0,1633.6 1942.0,1633.9 1944.0,1634.2 1946.0,1634.5 1948.0,1634.8 1950.0,1635.1 1952.0,1635.4 1954.0,1635.7 1956.0,1636.0 1958.0,1636.4 1960.0,1636.7 1962.0,1637.0 1964.0,1637.3 1966.0,1637.6 1968.0,1637.9 1970.0,1638.2 1972.0,1638.5 1974.0,1638.8 1976.0,1639.1 1978.0,1639.4 1980.0,1639.7 1982.0,1640.0 1984.0,1640.3 1986.0,1640.6 1988.0,1640.9 1990.0,1641.2 1992.0,1641.5 1994.0,1641.8 1996.0,1642.1 1998.0,1642.4 2000.0,1642.7 2002.0,1643.0 2004.0,1643.3 2006.0,1643.6 2008.0,1643.9 2010.0,1644.2 2012.0,1644.5 2014.0,1644.8 2016.0,1645.1 2018.0,1645.4 2020.0,1645.7 2022.0,1646.0 2024.0,1646.3 2026.0,1646.6 2028.0,1646.9 2030.0,1647.2 2032.0,1647.5 2034.0,1647.8 2036.0,1648.0 2038.0,1648.3 2040.0,1648.6 2042.0,1648.9 2044.0,1649.2 2046.0,1649.4 2048.0,1649.7 2050.0,1650.0 2052.0,1650.3 2054.0,1650.5 2056.0,1650.8 2058.0,1651.1 2060.0,1651.4 2062.0,1651.6 2064.0,1651.9 2066.0,1652.2 2068.0,1652.4 2070.0,1652.7 2072.0,1652.9 2074.0,1653.2 2076.0,1653.5 2078.0,1653.7 2080.0,1654.0 2082.0,1654.2 2084.0,1654.5 2086.0,1654.7 2088.0,1655.0 2090.0,1655.2 2092.0,1655.5 2094.0,1655.7 2096.0,1656.0 2098.0,1656.3 2100.0,1656.5 2102.0,1656.8 2104.0,1657.0 2106.0,1657.3 2108.0,1657.5 2110.0,1657.8 2112.0,1658.0 2114.0,1658.3 2116.0,1658.5 2118.0,1658.8 2120.0,1659.0 2122.0,1659.2 2124.0,1659.5 2126.0,1659.7 2128.0,1660.0 2130.0,1660.2 2132.0,1660.4 2134.0,1660.6 2136.0,1660.9 2138.0,1661.1 2140.0,1661.3 2142.0,1661.5 2144.0,1661.7 2146.0,1661.9 2148.0,1662.2 2150.0,1662.4 2152.0,1662.6 2154.0,1662.8 2156.0,1663.1 2158.0,1663.3 2160.0,1663.5 2162.0,1663.7 2164.0,1664.0 2166.0,1664.2 2168.0,1664.5 2170.0,1664.7 2172.0,1665.0 2174.0,1665.2 2176.0,1665.5 2178.0,1665.8 2180.0,1666.1 2182.0,1666.4 2184.0,1666.7 2186.0,1667.0 2188.0,1667.3 2190.0,1667.7 2192.0,1668.1 2194.0,1668.5 2196.0,1669.0 2198.0,1669.4 2200.0,1669.9 2202.0,1670.3 2204.0,1670.8 2206.0,1671.2 2208.0,1671.6 2210.0,1672.0 2212.0,1672.4 2214.0,1672.7 2216.0,1673.1 2218.0,1673.4 2220.0,1673.7 2222.0,1674.0 2224.0,1674.3 2226.0,1674.6 2228.0,1674.8 2230.0,1675.1 2232.0,1675.4 2234.0,1675.7 2236.0,1676.1 2238.0,1676.4 2240.0,1676.8 2242.0,1677.1 2244.0,1677.5 2246.0,1677.9 2248.0,1678.3 2250.0,1678.7 2252.0,1679.2 2254.0,1679.6 2256.0,1680.0 2258.0,1680.4 2260.0,1680.8 2262.0,1681.2 2264.0,1681.5 2266.0,1681.9 2268.0,1682.2 2270.0,1682.5 2272.0,1682.7 2274.0,1683.0 2276.0,1683.3 2278.0,1683.5 2280.0,1683.8 2282.0,1684.1 2284.0,1684.4 2286.0,1684.7 2288.0,1685.0 2290.0,1685.4 2292.0,1685.8 2294.0,1686.1 2296.0,1686.5 2298.0,1686.8 2300.0,1687.2 2302.0,1687.7 2304.0,1688.3 2306.0,1689.1 2308.0,1690.1 2310.0,1691.3 2312.0,1694.6 2314.0,1705.0" fill="none" stroke="#111" stroke-width="4" stroke-linejoin="round" stroke-dasharray="26,13,5,13,5,13"/>
<line x1="481" y1="368" x2="481" y2="1981" stroke="#000" stroke-width="4.2" stroke-dasharray="13,11"/>
<line x1="616" y1="573" x2="616" y2="1981" stroke="#000" stroke-width="4.2" stroke-dasharray="13,11"/>
<line x1="1210.5" y1="870" x2="1210.5" y2="1981" stroke="#000" stroke-width="4.2" stroke-dasharray="13,11"/>
<polyline points="270.0,738.0 272.0,736.6 274.0,735.2 276.0,733.8 278.0,732.3 280.0,730.8 282.0,729.2 284.0,727.6 286.0,726.0 288.0,724.4 290.0,722.7 292.0,721.0 294.0,719.3 296.0,717.5 298.0,715.7 300.0,713.9 302.0,712.0 304.0,710.1 306.0,708.1 308.0,706.1 310.0,704.0 312.0,701.8 314.0,699.7 316.0,697.4 318.0,695.1 320.0,692.8 322.0,690.3 324.0,687.8 326.0,685.2 328.0,682.5 330.0,679.7 332.0,676.8 334.0,673.7 336.0,670.6 338.0,667.3 340.0,663.6 342.0,659.7 344.0,655.5 346.0,651.1 348.0,646.6 350.0,641.9 352.0,637.1 354.0,632.4 356.0,627.6 358.0,622.8 360.0,618.2 362.0,613.7 364.0,609.3 366.0,604.9 368.0,600.5 370.0,596.1 372.0,591.7 374.0,587.2 376.0,582.6 378.0,577.9 380.0,573.0 382.0,567.9 384.0,562.6 386.0,556.9 388.0,551.1 390.0,545.0 392.0,538.9 394.0,532.8 396.0,526.8 398.0,520.9 400.0,515.1 402.0,509.5 404.0,503.9 406.0,498.3 408.0,492.6 410.0,486.8 412.0,480.9 414.0,474.9 416.0,468.5 418.0,461.9 420.0,455.1 422.0,448.1 424.0,441.2 426.0,434.2 428.0,427.4 430.0,420.8 432.0,414.4 434.0,408.3 436.0,402.4 438.0,396.9 440.1,392.0 442.1,387.3 444.1,382.9 446.1,378.7 448.1,374.7 450.1,370.7 452.1,366.7 454.1,362.8 456.1,359.0 458.1,355.4 460.1,351.9 462.1,348.7 464.1,345.8 466.1,343.0 468.1,340.4 470.1,337.9 472.1,335.7 474.1,333.8 476.1,332.2 478.1,330.6 480.1,329.0 482.1,327.6 484.1,326.5 486.1,325.8 488.1,325.5 490.1,325.6 492.1,326.0 494.1,326.5 496.1,327.2 498.1,328.0 500.1,329.4 502.1,331.7 504.1,334.4 506.1,337.4 508.1,340.1 510.1,342.7 512.1,345.4 514.1,348.2 516.1,351.0 518.1,353.9 520.1,356.7 522.1,359.4 524.1,362.1 526.1,364.7 528.1,367.3 530.1,369.8 532.1,372.3 534.1,374.8 536.1,377.3 538.1,379.7 540.1,382.2 542.1,384.7 544.1,387.1 546.1,389.6 548.1,392.1 550.1,394.6 552.1,397.2 554.1,399.7 556.1,402.3 558.1,404.9 560.1,407.5 562.1,410.1 564.1,412.6 566.1,415.2 568.1,417.8 570.1,420.3 572.1,422.8 574.1,425.3 576.1,427.8 578.1,430.2 580.1,432.6 582.1,434.9 584.1,437.2 586.1,439.4 588.1,441.5 590.1,443.6 592.1,445.6 594.1,447.7 596.1,449.7 598.1,451.8 600.1,454.0 602.1,456.2 604.1,458.5 606.1,460.8 608.1,463.3 610.1,466.0 612.1,468.7 614.1,471.6 616.1,474.6 618.1,477.7 620.1,480.8 622.1,483.9 624.1,487.1 626.1,490.3 628.1,493.5 630.1,496.6 632.1,499.8 634.1,502.9 636.1,506.1 638.1,509.3 640.1,512.5 642.1,515.7 644.1,519.0 646.1,522.3 648.1,525.7 650.1,529.2 652.1,532.7 654.1,536.2 656.1,539.9 658.1,543.6 660.1,547.4 662.1,551.2 664.1,555.0 666.1,558.8 668.1,562.6 670.1,566.4 672.1,570.2 674.1,574.0 676.1,577.8 678.1,581.6 680.1,585.4 682.1,589.2 684.1,593.0 686.1,596.8 688.1,600.5 690.1,604.2 692.1,607.9 694.1,611.5 696.1,615.0 698.1,618.5 700.1,622.0 702.1,625.5 704.1,628.9 706.1,632.3 708.1,635.7 710.1,639.0 712.1,642.4 714.1,645.7 716.1,649.0 718.1,652.3 720.1,655.6 722.1,658.9 724.1,662.2 726.1,665.5 728.1,668.8 730.1,672.1 732.1,675.3 734.1,678.6 736.1,681.8 738.1,684.9 740.1,688.1 742.1,691.2 744.1,694.2 746.1,697.3 748.1,700.3 750.1,703.2 752.1,706.2 754.1,709.2 756.1,712.2 758.1,715.1 760.1,718.0 762.1,720.8 764.1,723.6 766.1,726.3 768.1,728.9 770.1,731.4 772.1,733.9 774.1,736.2 776.1,738.5 778.1,740.7 780.2,742.8 782.2,744.9 784.2,747.0 786.2,749.0 788.2,750.9 790.2,752.9 792.2,754.7 794.2,756.6 796.2,758.4 798.2,760.2 800.2,762.0 802.2,763.8 804.2,765.5 806.2,767.2 808.2,768.9 810.2,770.6 812.2,772.3 814.2,773.9 816.2,775.5 818.2,777.0 820.2,778.5 822.2,780.0 824.2,781.4 826.2,782.8 828.2,784.2 830.2,785.5 832.2,786.8 834.2,788.1 836.2,789.4 838.2,790.6 840.2,791.8 842.2,793.0 844.2,794.1 846.2,795.3 848.2,796.4 850.2,797.5 852.2,798.6 854.2,799.6 856.2,800.7 858.2,801.7 860.2,802.7 862.2,803.7 864.2,804.7 866.2,805.6 868.2,806.6 870.2,807.5 872.2,808.4 874.2,809.3 876.2,810.3 878.2,811.2 880.2,812.1 882.2,813.0 884.2,813.9 886.2,814.9 888.2,815.8 890.2,816.7 892.2,817.6 894.2,818.5 896.2,819.3 898.2,820.1 900.2,820.8 902.2,821.5 904.2,822.1 906.2,822.7 908.2,823.4 910.2,824.0 912.2,824.6 914.2,825.2 916.2,825.8 918.2,826.3 920.2,826.9 922.2,827.4 924.2,828.0 926.2,828.5 928.2,829.0 930.2,829.5 932.2,829.9 934.2,830.4 936.2,830.8 938.2,831.2 940.2,831.7 942.2,832.0 944.2,832.4 946.2,832.8 948.2,833.1 950.2,833.4 952.2,833.7 954.2,834.0 956.2,834.2 958.2,834.5 960.2,834.8 962.2,835.1 964.2,835.3 966.2,835.6 968.2,835.8 970.2,836.1 972.2,836.3 974.2,836.5 976.2,836.8 978.2,837.0 980.2,837.2 982.2,837.4 984.2,837.6 986.2,837.7 988.2,837.9 990.2,838.0 992.2,838.2 994.2,838.3 996.2,838.4 998.2,838.5 1000.2,838.6 1002.2,838.7 1004.2,838.8 1006.2,838.8 1008.2,838.9 1010.2,838.9 1012.2,839.0 1014.2,839.0 1016.2,839.1 1018.2,839.1 1020.2,839.1 1022.2,839.2 1024.2,839.2 1026.2,839.2 1028.2,839.3 1030.2,839.3 1032.2,839.3 1034.2,839.3 1036.2,839.4 1038.2,839.4 1040.2,839.4 1042.2,839.4 1044.2,839.5 1046.2,839.5 1048.2,839.5 1050.2,839.6 1052.2,839.6 1054.2,839.6 1056.2,839.7 1058.2,839.7 1060.2,839.7 1062.2,839.8 1064.2,839.8 1066.2,839.9 1068.2,839.9 1070.2,840.0 1072.2,840.0 1074.2,840.1 1076.2,840.2 1078.2,840.3 1080.2,840.4 1082.2,840.5 1084.2,840.6 1086.2,840.7 1088.2,840.8 1090.2,840.9 1092.2,841.0 1094.2,841.2 1096.2,841.3 1098.2,841.4 1100.2,841.6 1102.2,841.7 1104.2,841.9 1106.2,842.1 1108.2,842.2 1110.2,842.4 1112.2,842.5 1114.2,842.7 1116.2,842.9 1118.3,843.1 1120.3,843.2 1122.3,843.4 1124.3,843.6 1126.3,843.8 1128.3,844.0 1130.3,844.2 1132.3,844.3 1134.3,844.5 1136.3,844.7 1138.3,844.9 1140.3,845.1 1142.3,845.3 1144.3,845.4 1146.3,845.6 1148.3,845.8 1150.3,846.0 1152.3,846.2 1154.3,846.4 1156.3,846.6 1158.3,846.8 1160.3,847.0 1162.3,847.2 1164.3,847.4 1166.3,847.6 1168.3,847.9 1170.3,848.1 1172.3,848.3 1174.3,848.6 1176.3,848.8 1178.3,849.1 1180.3,849.3 1182.3,849.6 1184.3,849.8 1186.3,850.1 1188.3,850.4 1190.3,850.7 1192.3,851.0 1194.3,851.3 1196.3,851.6 1198.3,851.9 1200.3,852.2 1202.3,852.6 1204.3,852.9 1206.3,853.3 1208.3,853.7 1210.3,854.1 1212.3,854.5 1214.3,855.0 1216.3,855.4 1218.3,855.9 1220.3,856.4 1222.3,857.0 1224.3,857.5 1226.3,858.1 1228.3,858.6 1230.3,859.2 1232.3,859.8 1234.3,860.4 1236.3,861.1 1238.3,861.7 1240.3,862.4 1242.3,863.0 1244.3,863.7 1246.3,864.4 1248.3,865.1 1250.3,865.8 1252.3,866.5 1254.3,867.3 1256.3,868.0 1258.3,868.8 1260.3,869.7 1262.3,870.6 1264.3,871.6 1266.3,872.6 1268.3,873.6 1270.3,874.7 1272.3,875.7 1274.3,876.7 1276.3,877.7 1278.3,878.7 1280.3,879.5 1282.3,880.4 1284.3,881.2 1286.3,882.0 1288.3,882.7 1290.3,883.5 1292.3,884.2 1294.3,885.0 1296.3,885.7 1298.3,886.4 1300.3,887.1 1302.3,887.8 1304.3,888.5 1306.3,889.2 1308.3,889.9 1310.3,890.6 1312.3,891.3 1314.3,892.0 1316.3,892.7 1318.3,893.5 1320.3,894.2 1322.3,894.9 1324.3,895.7 1326.3,896.4 1328.3,897.2 1330.3,898.0 1332.3,898.8 1334.3,899.6 1336.3,900.3 1338.3,901.1 1340.3,901.9 1342.3,902.7 1344.3,903.5 1346.3,904.3 1348.3,905.2 1350.3,906.0 1352.3,906.8 1354.3,907.6 1356.3,908.4 1358.3,909.2 1360.3,910.0 1362.3,910.8 1364.3,911.6 1366.3,912.5 1368.3,913.3 1370.3,914.1 1372.3,914.9 1374.3,915.7 1376.3,916.5 1378.3,917.3 1380.3,918.1 1382.3,918.9 1384.3,919.7 1386.3,920.5 1388.3,921.3 1390.3,922.1 1392.3,922.9 1394.3,923.7 1396.3,924.5 1398.3,925.3 1400.3,926.1 1402.3,926.9 1404.3,927.7 1406.3,928.5 1408.3,929.3 1410.3,930.1 1412.3,930.9 1414.3,931.7 1416.3,932.5 1418.3,933.3 1420.3,934.1 1422.3,934.9 1424.3,935.7 1426.3,936.5 1428.3,937.3 1430.3,938.1 1432.3,938.9 1434.3,939.7 1436.3,940.5 1438.3,941.3 1440.3,942.1 1442.3,942.9 1444.3,943.7 1446.3,944.5 1448.3,945.3 1450.3,946.0 1452.3,946.8 1454.3,947.6 1456.3,948.4 1458.4,949.2 1460.4,950.0 1462.4,950.8 1464.4,951.6 1466.4,952.4 1468.4,953.2 1470.4,954.0 1472.4,954.8 1474.4,955.6 1476.4,956.5 1478.4,957.3 1480.4,958.1 1482.4,958.9 1484.4,959.7 1486.4,960.5 1488.4,961.3 1490.4,962.1 1492.4,962.9 1494.4,963.7 1496.4,964.5 1498.4,965.3 1500.4,966.1 1502.4,966.9 1504.4,967.7 1506.4,968.4 1508.4,969.2 1510.4,970.0 1512.4,970.7 1514.4,971.5 1516.4,972.2 1518.4,973.0 1520.4,973.7 1522.4,974.5 1524.4,975.2 1526.4,976.0 1528.4,976.7 1530.4,977.4 1532.4,978.1 1534.4,978.9 1536.4,979.6 1538.4,980.3 1540.4,981.0 1542.4,981.8 1544.4,982.5 1546.4,983.2 1548.4,983.9 1550.4,984.6 1552.4,985.3 1554.4,986.0 1556.4,986.7 1558.4,987.4 1560.4,988.1 1562.4,988.8 1564.4,989.5 1566.4,990.2 1568.4,990.9 1570.4,991.6 1572.4,992.3 1574.4,993.0 1576.4,993.7 1578.4,994.4 1580.4,995.0 1582.4,995.7 1584.4,996.4 1586.4,997.1 1588.4,997.8 1590.4,998.4 1592.4,999.1 1594.4,999.8 1596.4,1000.5 1598.4,1001.1 1600.4,1001.8 1602.4,1002.5 1604.4,1003.2 1606.4,1003.8 1608.4,1004.5 1610.4,1005.2 1612.4,1005.9 1614.4,1006.6 1616.4,1007.3 1618.4,1008.0 1620.4,1008.7 1622.4,1009.4 1624.4,1010.0 1626.4,1010.7 1628.4,1011.4 1630.4,1012.1 1632.4,1012.8 1634.4,1013.5 1636.4,1014.1 1638.4,1014.8 1640.4,1015.4 1642.4,1016.1 1644.4,1016.7 1646.4,1017.3 1648.4,1017.9 1650.4,1018.5 1652.4,1019.1 1654.4,1019.7 1656.4,1020.2 1658.4,1020.8 1660.4,1021.3 1662.4,1021.8 1664.4,1022.4 1666.4,1022.9 1668.4,1023.4 1670.4,1023.9 1672.4,1024.4 1674.4,1024.9 1676.4,1025.4 1678.4,1025.9 1680.4,1026.4 1682.4,1026.9 1684.4,1027.4 1686.4,1027.9 1688.4,1028.4 1690.4,1028.9 1692.4,1029.4 1694.4,1029.9 1696.4,1030.4 1698.4,1030.9 1700.4,1031.4 1702.4,1031.9 1704.4,1032.4 1706.4,1032.8 1708.4,1033.3 1710.4,1033.8 1712.4,1034.3 1714.4,1034.8 1716.4,1035.3 1718.4,1035.8 1720.4,1036.3 1722.4,1036.8 1724.4,1037.3 1726.4,1037.8 1728.4,1038.2 1730.4,1038.7 1732.4,1039.2 1734.4,1039.7 1736.4,1040.2 1738.4,1040.7 1740.4,1041.1 1742.4,1041.6 1744.4,1042.1 1746.4,1042.6 1748.4,1043.0 1750.4,1043.5 1752.4,1044.0 1754.4,1044.5 1756.4,1044.9 1758.4,1045.4 1760.4,1045.9 1762.4,1046.3 1764.4,1046.8 1766.4,1047.3 1768.4,1047.7 1770.4,1048.2 1772.4,1048.7 1774.4,1049.1 1776.4,1049.6 1778.4,1050.0 1780.4,1050.5 1782.4,1051.0 1784.4,1051.4 1786.4,1051.9 1788.4,1052.4 1790.4,1052.8 1792.4,1053.3 1794.4,1053.8 1796.5,1054.2 1798.5,1054.7 1800.5,1055.2 1802.5,1055.7 1804.5,1056.1 1806.5,1056.6 1808.5,1057.1 1810.5,1057.6 1812.5,1058.0 1814.5,1058.5 1816.5,1059.0 1818.5,1059.4 1820.5,1059.9 1822.5,1060.3 1824.5,1060.8 1826.5,1061.3 1828.5,1061.7 1830.5,1062.2 1832.5,1062.6 1834.5,1063.0 1836.5,1063.5 1838.5,1063.9 1840.5,1064.3 1842.5,1064.7 1844.5,1065.1 1846.5,1065.5 1848.5,1065.9 1850.5,1066.3 1852.5,1066.7 1854.5,1067.1 1856.5,1067.5 1858.5,1067.9 1860.5,1068.3 1862.5,1068.7 1864.5,1069.1 1866.5,1069.5 1868.5,1069.9 1870.5,1070.3 1872.5,1070.7 1874.5,1071.1 1876.5,1071.6 1878.5,1072.0 1880.5,1072.4 1882.5,1072.9 1884.5,1073.3 1886.5,1073.8 1888.5,1074.3 1890.5,1074.7 1892.5,1075.2 1894.5,1075.7 1896.5,1076.2 1898.5,1076.7 1900.5,1077.2 1902.5,1077.7 1904.5,1078.3 1906.5,1078.8 1908.5,1079.3 1910.5,1079.8 1912.5,1080.3 1914.5,1080.8 1916.5,1081.3 1918.5,1081.8 1920.5,1082.3 1922.5,1082.8 1924.5,1083.2 1926.5,1083.7 1928.5,1084.1 1930.5,1084.6 1932.5,1085.0 1934.5,1085.4 1936.5,1085.8 1938.5,1086.2 1940.5,1086.6 1942.5,1087.0 1944.5,1087.4 1946.5,1087.8 1948.5,1088.2 1950.5,1088.5 1952.5,1088.9 1954.5,1089.3 1956.5,1089.6 1958.5,1090.0 1960.5,1090.4 1962.5,1090.7 1964.5,1091.1 1966.5,1091.4 1968.5,1091.8 1970.5,1092.1 1972.5,1092.5 1974.5,1092.8 1976.5,1093.2 1978.5,1093.5 1980.5,1093.9 1982.5,1094.2 1984.5,1094.6 1986.5,1094.9 1988.5,1095.3 1990.5,1095.6 1992.5,1096.0 1994.5,1096.4 1996.5,1096.7 1998.5,1097.0 2000.5,1097.4 2002.5,1097.7 2004.5,1098.1 2006.5,1098.4 2008.5,1098.7 2010.5,1099.1 2012.5,1099.4 2014.5,1099.8 2016.5,1100.1 2018.5,1100.4 2020.5,1100.8 2022.5,1101.1 2024.5,1101.5 2026.5,1101.8 2028.5,1102.2 2030.5,1102.5 2032.5,1102.9 2034.5,1103.3 2036.5,1103.6 2038.5,1104.0 2040.5,1104.4 2042.5,1104.8 2044.5,1105.2 2046.5,1105.6 2048.5,1106.0 2050.5,1106.4 2052.5,1106.9 2054.5,1107.3 2056.5,1107.7 2058.5,1108.2 2060.5,1108.6 2062.5,1109.1 2064.5,1109.5 2066.5,1110.0 2068.5,1110.4 2070.5,1110.9 2072.5,1111.3 2074.5,1111.7 2076.5,1112.2 2078.5,1112.6 2080.5,1113.0 2082.5,1113.5 2084.5,1113.9 2086.5,1114.3 2088.5,1114.7 2090.5,1115.1 2092.5,1115.5 2094.5,1115.9 2096.5,1116.3 2098.5,1116.7 2100.5,1117.1 2102.5,1117.4 2104.5,1117.8 2106.5,1118.2 2108.5,1118.6 2110.5,1119.0 2112.5,1119.3 2114.5,1119.7 2116.5,1120.0 2118.5,1120.4 2120.5,1120.7 2122.5,1121.1 2124.5,1121.4 2126.5,1121.8 2128.5,1122.1 2130.5,1122.4 2132.5,1122.7 2134.5,1123.0 2136.6,1123.3 2138.6,1123.6 2140.6,1123.9 2142.6,1124.2 2144.6,1124.5 2146.6,1124.8 2148.6,1125.0 2150.6,1125.3 2152.6,1125.6 2154.6,1125.9 2156.6,1126.1 2158.6,1126.4 2160.6,1126.7 2162.6,1127.0 2164.6,1127.3 2166.6,1127.6 2168.6,1127.9 2170.6,1128.2 2172.6,1128.5 2174.6,1128.8 2176.6,1129.1 2178.6,1129.4 2180.6,1129.7 2182.6,1130.0 2184.6,1130.4 2186.6,1130.7 2188.6,1131.0 2190.6,1131.3 2192.6,1131.6 2194.6,1131.9 2196.6,1132.2 2198.6,1132.5 2200.6,1132.8 2202.6,1133.1 2204.6,1133.4 2206.6,1133.7 2208.6,1133.9 2210.6,1134.2 2212.6,1134.4 2214.6,1134.7 2216.6,1134.9 2218.6,1135.2 2220.6,1135.4 2222.6,1135.7 2224.6,1135.9 2226.6,1136.2 2228.6,1136.4 2230.6,1136.7 2232.6,1137.0 2234.6,1137.2 2236.6,1137.5 2238.6,1137.8 2240.6,1138.1 2242.6,1138.4 2244.6,1138.8 2246.6,1139.1 2248.6,1139.5 2250.6,1139.8 2252.6,1140.2 2254.6,1140.6 2256.6,1141.0 2258.6,1141.4 2260.6,1141.8 2262.6,1142.3 2264.6,1142.7 2266.6,1143.2 2268.6,1143.7 2270.6,1144.2 2272.6,1144.7 2274.6,1145.2 2276.6,1145.8 2278.6,1146.5 2280.6,1147.4 2282.6,1148.6 2284.6,1150.1 2286.6,1152.0 2288.6,1154.0 2290.6,1156.2 2292.6,1158.9 2294.6,1162.1 2296.6,1165.3 2298.6,1168.0 2300.6,1169.8 2302.6,1171.1 2304.6,1172.0" fill="none" stroke="#ff1010" stroke-width="3.4" stroke-linejoin="round"/>
<polyline points="270.0,1327.5 272.0,1326.1 274.0,1324.7 276.0,1323.3 278.0,1321.9 280.0,1320.5 282.0,1319.1 284.0,1317.8 286.0,1316.3 288.0,1314.7 290.0,1312.9 292.0,1310.9 294.0,1308.9 296.0,1306.7 298.0,1304.4 300.0,1302.0 302.0,1299.6 304.0,1297.2 306.0,1294.7 308.0,1292.3 310.0,1289.8 312.0,1287.5 314.0,1285.1 316.0,1282.8 318.0,1280.5 320.0,1278.1 322.0,1275.7 324.0,1273.3 326.0,1270.8 328.0,1268.2 330.0,1265.5 332.0,1262.7 334.0,1259.8 336.0,1256.8 338.0,1253.6 340.0,1250.4 342.0,1247.0 344.0,1243.6 346.0,1240.1 348.0,1236.5 350.0,1232.9 352.0,1229.0 354.0,1225.1 356.0,1221.0 358.0,1216.9 360.0,1212.8 362.0,1208.6 364.0,1204.4 366.0,1200.1 368.0,1195.7 370.0,1191.4 372.0,1187.1 374.1,1182.8 376.1,1178.7 378.1,1174.7 380.1,1170.7 382.1,1166.5 384.1,1161.9 386.1,1156.8 388.1,1151.2 390.1,1145.2 392.1,1138.7 394.1,1131.9 396.1,1124.9 398.1,1117.8 400.1,1110.6 402.1,1103.4 404.1,1096.3 406.1,1089.4 408.1,1082.2 410.1,1074.9 412.1,1067.5 414.1,1060.1 416.1,1052.6 418.1,1045.2 420.1,1037.9 422.1,1030.7 424.1,1023.8 426.1,1017.1 428.1,1010.7 430.1,1004.5 432.1,998.4 434.1,992.4 436.1,986.6 438.1,980.8 440.1,975.3 442.1,969.9 444.1,964.6 446.1,959.6 448.1,954.6 450.1,949.8 452.1,945.0 454.1,940.3 456.1,935.7 458.1,931.3 460.1,927.0 462.1,923.0 464.1,919.2 466.1,915.7 468.1,912.4 470.1,909.4 472.1,906.6 474.1,903.9 476.1,901.4 478.1,898.9 480.1,896.2 482.1,893.6 484.1,891.4 486.1,890.0 488.1,889.0 490.1,888.3 492.1,887.8 494.1,887.6 496.1,887.7 498.1,887.8 500.1,888.1 502.1,888.4 504.1,888.8 506.1,889.7 508.1,891.0 510.1,892.5 512.1,894.3 514.1,896.1 516.1,898.2 518.1,900.7 520.1,903.5 522.1,906.5 524.1,909.6 526.1,912.7 528.1,915.7 530.1,918.8 532.1,921.9 534.1,925.1 536.1,928.4 538.1,931.7 540.1,935.1 542.1,938.5 544.1,941.9 546.1,945.4 548.1,948.9 550.1,952.5 552.1,956.1 554.1,959.7 556.1,963.4 558.1,967.1 560.1,970.8 562.1,974.7 564.1,978.6 566.1,982.7 568.1,986.8 570.1,990.9 572.1,995.1 574.1,999.2 576.1,1003.4 578.2,1007.5 580.2,1011.5 582.2,1015.5 584.2,1019.5 586.2,1023.3 588.2,1027.0 590.2,1030.6 592.2,1034.2 594.2,1037.7 596.2,1041.2 598.2,1044.6 600.2,1048.0 602.2,1051.4 604.2,1054.8 606.2,1058.1 608.2,1061.4 610.2,1064.7 612.2,1068.0 614.2,1071.3 616.2,1074.6 618.2,1077.9 620.2,1081.1 622.2,1084.3 624.2,1087.5 626.2,1090.6 628.2,1093.7 630.2,1096.8 632.2,1100.0 634.2,1103.1 636.2,1106.2 638.2,1109.4 640.2,1112.6 642.2,1115.9 644.2,1119.2 646.2,1122.5 648.2,1125.9 650.2,1129.4 652.2,1132.9 654.2,1136.4 656.2,1140.0 658.2,1143.6 660.2,1147.2 662.2,1150.8 664.2,1154.5 666.2,1158.2 668.2,1161.9 670.2,1165.6 672.2,1169.3 674.2,1173.0 676.2,1176.7 678.2,1180.4 680.2,1184.3 682.2,1188.1 684.2,1192.0 686.2,1195.9 688.2,1199.9 690.2,1203.8 692.2,1207.7 694.2,1211.5 696.2,1215.4 698.2,1219.1 700.2,1222.9 702.2,1226.5 704.2,1230.0 706.2,1233.5 708.2,1236.9 710.2,1240.4 712.2,1243.8 714.2,1247.1 716.2,1250.5 718.2,1253.7 720.2,1257.0 722.2,1260.2 724.2,1263.3 726.2,1266.4 728.2,1269.4 730.2,1272.3 732.2,1275.1 734.2,1277.9 736.2,1280.6 738.2,1283.3 740.2,1285.9 742.2,1288.5 744.2,1291.0 746.2,1293.5 748.2,1295.9 750.2,1298.3 752.2,1300.7 754.2,1303.0 756.2,1305.2 758.2,1307.4 760.2,1309.6 762.2,1311.7 764.2,1313.8 766.2,1315.8 768.2,1317.7 770.2,1319.6 772.2,1321.5 774.2,1323.4 776.2,1325.2 778.2,1326.9 780.2,1328.7 782.3,1330.4 784.3,1332.1 786.3,1333.8 788.3,1335.5 790.3,1337.2 792.3,1338.9 794.3,1340.6 796.3,1342.3 798.3,1344.1 800.3,1345.8 802.3,1347.5 804.3,1349.2 806.3,1350.9 808.3,1352.6 810.3,1354.2 812.3,1355.8 814.3,1357.4 816.3,1358.8 818.3,1360.3 820.3,1361.6 822.3,1362.9 824.3,1364.1 826.3,1365.2 828.3,1366.3 830.3,1367.4 832.3,1368.5 834.3,1369.5 836.3,1370.5 838.3,1371.5 840.3,1372.4 842.3,1373.3 844.3,1374.2 846.3,1375.1 848.3,1376.0 850.3,1376.9 852.3,1377.8 854.3,1378.7 856.3,1379.5 858.3,1380.4 860.3,1381.3 862.3,1382.2 864.3,1383.0 866.3,1383.8 868.3,1384.7 870.3,1385.5 872.3,1386.2 874.3,1387.0 876.3,1387.7 878.3,1388.4 880.3,1389.0 882.3,1389.6 884.3,1390.2 886.3,1390.7 888.3,1391.3 890.3,1391.8 892.3,1392.3 894.3,1392.9 896.3,1393.4 898.3,1393.9 900.3,1394.3 902.3,1394.8 904.3,1395.2 906.3,1395.5 908.3,1395.9 910.3,1396.1 912.3,1396.3 914.3,1396.5 916.3,1396.6 918.3,1396.7 920.3,1396.7 922.3,1396.8 924.3,1396.9 926.3,1397.0 928.3,1397.0 930.3,1397.1 932.3,1397.2 934.3,1397.2 936.3,1397.2 938.3,1397.3 940.3,1397.3 942.3,1397.4 944.3,1397.4 946.3,1397.4 948.3,1397.4 950.3,1397.4 952.3,1397.4 954.3,1397.4 956.3,1397.4 958.3,1397.4 960.3,1397.4 962.3,1397.4 964.3,1397.4 966.3,1397.4 968.3,1397.4 970.3,1397.4 972.3,1397.4 974.3,1397.4 976.3,1397.4 978.3,1397.4 980.3,1397.4 982.3,1397.4 984.3,1397.4 986.4,1397.4 988.4,1397.4 990.4,1397.4 992.4,1397.4 994.4,1397.4 996.4,1397.4 998.4,1397.4 1000.4,1397.4 1002.4,1397.4 1004.4,1397.4 1006.4,1397.4 1008.4,1397.4 1010.4,1397.4 1012.4,1397.4 1014.4,1397.4 1016.4,1397.4 1018.4,1397.4 1020.4,1397.4 1022.4,1397.3 1024.4,1397.2 1026.4,1397.0 1028.4,1396.8 1030.4,1396.5 1032.4,1396.2 1034.4,1395.8 1036.4,1395.5 1038.4,1395.1 1040.4,1394.8 1042.4,1394.4 1044.4,1394.1 1046.4,1393.8 1048.4,1393.5 1050.4,1393.2 1052.4,1392.8 1054.4,1392.5 1056.4,1392.2 1058.4,1391.8 1060.4,1391.5 1062.4,1391.1 1064.4,1390.8 1066.4,1390.4 1068.4,1390.1 1070.4,1389.8 1072.4,1389.4 1074.4,1389.1 1076.4,1388.8 1078.4,1388.5 1080.4,1388.1 1082.4,1387.8 1084.4,1387.5 1086.4,1387.2 1088.4,1386.9 1090.4,1386.5 1092.4,1386.2 1094.4,1385.9 1096.4,1385.6 1098.4,1385.3 1100.4,1384.9 1102.4,1384.6 1104.4,1384.2 1106.4,1383.9 1108.4,1383.5 1110.4,1383.1 1112.4,1382.7 1114.4,1382.4 1116.4,1382.0 1118.4,1381.7 1120.4,1381.4 1122.4,1381.2 1124.4,1381.0 1126.4,1380.9 1128.4,1380.8 1130.4,1380.7 1132.4,1380.5 1134.4,1380.4 1136.4,1380.3 1138.4,1380.2 1140.4,1380.1 1142.4,1380.0 1144.4,1379.9 1146.4,1379.9 1148.4,1379.8 1150.4,1379.7 1152.4,1379.7 1154.4,1379.6 1156.4,1379.6 1158.4,1379.6 1160.4,1379.6 1162.4,1379.6 1164.4,1379.6 1166.4,1379.6 1168.4,1379.6 1170.4,1379.6 1172.4,1379.6 1174.4,1379.6 1176.4,1379.6 1178.4,1379.6 1180.4,1379.6 1182.4,1379.6 1184.4,1379.6 1186.4,1379.6 1188.4,1379.6 1190.5,1379.6 1192.5,1379.6 1194.5,1379.6 1196.5,1379.6 1198.5,1379.6 1200.5,1379.6 1202.5,1379.8 1204.5,1380.1 1206.5,1380.5 1208.5,1381.1 1210.5,1381.7 1212.5,1382.3 1214.5,1382.9 1216.5,1383.4 1218.5,1383.9 1220.5,1384.5 1222.5,1385.1 1224.5,1385.7 1226.5,1386.4 1228.5,1387.0 1230.5,1387.7 1232.5,1388.4 1234.5,1389.0 1236.5,1389.7 1238.5,1390.4 1240.5,1391.1 1242.5,1391.7 1244.5,1392.4 1246.5,1393.1 1248.5,1393.8 1250.5,1394.5 1252.5,1395.2 1254.5,1395.9 1256.5,1396.6 1258.5,1397.4 1260.5,1398.2 1262.5,1399.0 1264.5,1399.8 1266.5,1400.7 1268.5,1401.5 1270.5,1402.4 1272.5,1403.3 1274.5,1404.2 1276.5,1405.1 1278.5,1406.1 1280.5,1407.0 1282.5,1407.9 1284.5,1408.9 1286.5,1409.9 1288.5,1410.8 1290.5,1411.8 1292.5,1412.8 1294.5,1413.8 1296.5,1414.7 1298.5,1415.7 1300.5,1416.7 1302.5,1417.7 1304.5,1418.6 1306.5,1419.6 1308.5,1420.6 1310.5,1421.5 1312.5,1422.5 1314.5,1423.5 1316.5,1424.5 1318.5,1425.5 1320.5,1426.5 1322.5,1427.5 1324.5,1428.5 1326.5,1429.5 1328.5,1430.5 1330.5,1431.5 1332.5,1432.5 1334.5,1433.5 1336.5,1434.5 1338.5,1435.5 1340.5,1436.5 1342.5,1437.5 1344.5,1438.5 1346.5,1439.6 1348.5,1440.6 1350.5,1441.6 1352.5,1442.6 1354.5,1443.6 1356.5,1444.6 1358.5,1445.6 1360.5,1446.6 1362.5,1447.6 1364.5,1448.6 1366.5,1449.6 1368.5,1450.6 1370.5,1451.6 1372.5,1452.6 1374.5,1453.6 1376.5,1454.7 1378.5,1455.7 1380.5,1456.7 1382.5,1457.7 1384.5,1458.7 1386.5,1459.7 1388.5,1460.7 1390.5,1461.7 1392.5,1462.7 1394.5,1463.7 1396.6,1464.7 1398.6,1465.7 1400.6,1466.7 1402.6,1467.7 1404.6,1468.7 1406.6,1469.7 1408.6,1470.7 1410.6,1471.7 1412.6,1472.7 1414.6,1473.7 1416.6,1474.6 1418.6,1475.6 1420.6,1476.6 1422.6,1477.6 1424.6,1478.6 1426.6,1479.6 1428.6,1480.6 1430.6,1481.6 1432.6,1482.6 1434.6,1483.6 1436.6,1484.6 1438.6,1485.6 1440.6,1486.7 1442.6,1487.7 1444.6,1488.7 1446.6,1489.8 1448.6,1490.8 1450.6,1491.9 1452.6,1493.0 1454.6,1494.0 1456.6,1495.1 1458.6,1496.2 1460.6,1497.3 1462.6,1498.4 1464.6,1499.5 1466.6,1500.6 1468.6,1501.7 1470.6,1502.8 1472.6,1503.8 1474.6,1504.9 1476.6,1506.0 1478.6,1507.1 1480.6,1508.1 1482.6,1509.1 1484.6,1510.2 1486.6,1511.2 1488.6,1512.2 1490.6,1513.2 1492.6,1514.2 1494.6,1515.2 1496.6,1516.2 1498.6,1517.2 1500.6,1518.2 1502.6,1519.1 1504.6,1520.1 1506.6,1521.1 1508.6,1522.1 1510.6,1523.0 1512.6,1524.0 1514.6,1524.9 1516.6,1525.9 1518.6,1526.8 1520.6,1527.7 1522.6,1528.6 1524.6,1529.5 1526.6,1530.3 1528.6,1531.2 1530.6,1532.0 1532.6,1532.8 1534.6,1533.6 1536.6,1534.4 1538.6,1535.1 1540.6,1535.9 1542.6,1536.6 1544.6,1537.3 1546.6,1537.9 1548.6,1538.6 1550.6,1539.3 1552.6,1540.0 1554.6,1540.6 1556.6,1541.3 1558.6,1542.0 1560.6,1542.7 1562.6,1543.4 1564.6,1544.2 1566.6,1544.9 1568.6,1545.6 1570.6,1546.3 1572.6,1547.1 1574.6,1547.8 1576.6,1548.5 1578.6,1549.3 1580.6,1550.0 1582.6,1550.7 1584.6,1551.4 1586.6,1552.2 1588.6,1552.9 1590.6,1553.6 1592.6,1554.4 1594.6,1555.1 1596.6,1555.8 1598.6,1556.5 1600.7,1557.2 1602.7,1557.9 1604.7,1558.6 1606.7,1559.3 1608.7,1560.0 1610.7,1560.7 1612.7,1561.4 1614.7,1562.1 1616.7,1562.8 1618.7,1563.5 1620.7,1564.2 1622.7,1564.8 1624.7,1565.5 1626.7,1566.2 1628.7,1566.9 1630.7,1567.5 1632.7,1568.2 1634.7,1568.9 1636.7,1569.5 1638.7,1570.2 1640.7,1570.8 1642.7,1571.5 1644.7,1572.1 1646.7,1572.8 1648.7,1573.4 1650.7,1574.1 1652.7,1574.7 1654.7,1575.3 1656.7,1576.0 1658.7,1576.6 1660.7,1577.2 1662.7,1577.9 1664.7,1578.5 1666.7,1579.1 1668.7,1579.8 1670.7,1580.4 1672.7,1581.0 1674.7,1581.6 1676.7,1582.2 1678.7,1582.8 1680.7,1583.4 1682.7,1584.0 1684.7,1584.6 1686.7,1585.2 1688.7,1585.7 1690.7,1586.3 1692.7,1586.8 1694.7,1587.4 1696.7,1587.9 1698.7,1588.4 1700.7,1589.0 1702.7,1589.5 1704.7,1590.0 1706.7,1590.5 1708.7,1591.0 1710.7,1591.5 1712.7,1591.9 1714.7,1592.4 1716.7,1592.9 1718.7,1593.3 1720.7,1593.8 1722.7,1594.3 1724.7,1594.7 1726.7,1595.2 1728.7,1595.6 1730.7,1596.1 1732.7,1596.5 1734.7,1596.9 1736.7,1597.4 1738.7,1597.8 1740.7,1598.3 1742.7,1598.7 1744.7,1599.1 1746.7,1599.5 1748.7,1599.9 1750.7,1600.3 1752.7,1600.7 1754.7,1601.1 1756.7,1601.5 1758.7,1601.9 1760.7,1602.3 1762.7,1602.7 1764.7,1603.1 1766.7,1603.4 1768.7,1603.8 1770.7,1604.2 1772.7,1604.6 1774.7,1605.0 1776.7,1605.4 1778.7,1605.8 1780.7,1606.2 1782.7,1606.6 1784.7,1607.0 1786.7,1607.4 1788.7,1607.8 1790.7,1608.3 1792.7,1608.7 1794.7,1609.2 1796.7,1609.6 1798.7,1610.1 1800.7,1610.6 1802.7,1611.0 1804.8,1611.5 1806.8,1612.0 1808.8,1612.5 1810.8,1613.0 1812.8,1613.5 1814.8,1614.0 1816.8,1614.4 1818.8,1614.9 1820.8,1615.4 1822.8,1615.9 1824.8,1616.4 1826.8,1616.8 1828.8,1617.3 1830.8,1617.7 1832.8,1618.2 1834.8,1618.6 1836.8,1619.0 1838.8,1619.4 1840.8,1619.9 1842.8,1620.3 1844.8,1620.7 1846.8,1621.1 1848.8,1621.5 1850.8,1621.9 1852.8,1622.3 1854.8,1622.7 1856.8,1623.1 1858.8,1623.5 1860.8,1623.8 1862.8,1624.2 1864.8,1624.6 1866.8,1625.0 1868.8,1625.4 1870.8,1625.8 1872.8,1626.1 1874.8,1626.5 1876.8,1626.9 1878.8,1627.3 1880.8,1627.6 1882.8,1628.0 1884.8,1628.4 1886.8,1628.8 1888.8,1629.2 1890.8,1629.5 1892.8,1629.9 1894.8,1630.3 1896.8,1630.7 1898.8,1631.0 1900.8,1631.4 1902.8,1631.8 1904.8,1632.1 1906.8,1632.5 1908.8,1632.9 1910.8,1633.2 1912.8,1633.6 1914.8,1634.0 1916.8,1634.3 1918.8,1634.7 1920.8,1635.1 1922.8,1635.4 1924.8,1635.8 1926.8,1636.1 1928.8,1636.5 1930.8,1636.8 1932.8,1637.2 1934.8,1637.5 1936.8,1637.9 1938.8,1638.2 1940.8,1638.5 1942.8,1638.9 1944.8,1639.2 1946.8,1639.6 1948.8,1639.9 1950.8,1640.2 1952.8,1640.5 1954.8,1640.8 1956.8,1641.2 1958.8,1641.5 1960.8,1641.8 1962.8,1642.1 1964.8,1642.4 1966.8,1642.7 1968.8,1643.0 1970.8,1643.3 1972.8,1643.6 1974.8,1643.9 1976.8,1644.2 1978.8,1644.5 1980.8,1644.9 1982.8,1645.2 1984.8,1645.5 1986.8,1645.8 1988.8,1646.1 1990.8,1646.4 1992.8,1646.7 1994.8,1647.0 1996.8,1647.3 1998.8,1647.7 2000.8,1648.0 2002.8,1648.3 2004.8,1648.6 2006.8,1649.0 2008.9,1649.3 2010.9,1649.7 2012.9,1650.0 2014.9,1650.4 2016.9,1650.7 2018.9,1651.1 2020.9,1651.4 2022.9,1651.8 2024.9,1652.1 2026.9,1652.5 2028.9,1652.9 2030.9,1653.2 2032.9,1653.6 2034.9,1654.0 2036.9,1654.4 2038.9,1654.7 2040.9,1655.1 2042.9,1655.5 2044.9,1655.8 2046.9,1656.2 2048.9,1656.6 2050.9,1657.0 2052.9,1657.3 2054.9,1657.7 2056.9,1658.1 2058.9,1658.4 2060.9,1658.8 2062.9,1659.1 2064.9,1659.5 2066.9,1659.9 2068.9,1660.2 2070.9,1660.6 2072.9,1660.9 2074.9,1661.3 2076.9,1661.6 2078.9,1661.9 2080.9,1662.3 2082.9,1662.6 2084.9,1663.0 2086.9,1663.3 2088.9,1663.6 2090.9,1664.0 2092.9,1664.3 2094.9,1664.6 2096.9,1664.9 2098.9,1665.3 2100.9,1665.6 2102.9,1665.9 2104.9,1666.3 2106.9,1666.6 2108.9,1666.9 2110.9,1667.3 2112.9,1667.6 2114.9,1667.9 2116.9,1668.3 2118.9,1668.6 2120.9,1668.9 2122.9,1669.3 2124.9,1669.6 2126.9,1669.9 2128.9,1670.3 2130.9,1670.6 2132.9,1671.0 2134.9,1671.3 2136.9,1671.7 2138.9,1672.1 2140.9,1672.4 2142.9,1672.8 2144.9,1673.2 2146.9,1673.5 2148.9,1673.9 2150.9,1674.3 2152.9,1674.7 2154.9,1675.1 2156.9,1675.5 2158.9,1675.8 2160.9,1676.2 2162.9,1676.6 2164.9,1677.0 2166.9,1677.3 2168.9,1677.7 2170.9,1678.1 2172.9,1678.4 2174.9,1678.8 2176.9,1679.1 2178.9,1679.4 2180.9,1679.8 2182.9,1680.1 2184.9,1680.4 2186.9,1680.7 2188.9,1681.0 2190.9,1681.3 2192.9,1681.5 2194.9,1681.8 2196.9,1682.1 2198.9,1682.3 2200.9,1682.6 2202.9,1682.8 2204.9,1683.1 2206.9,1683.3 2208.9,1683.5 2210.9,1683.8 2213.0,1684.0 2215.0,1684.3 2217.0,1684.5 2219.0,1684.8 2221.0,1685.1 2223.0,1685.3 2225.0,1685.6 2227.0,1685.9 2229.0,1686.2 2231.0,1686.4 2233.0,1686.7 2235.0,1687.0 2237.0,1687.3 2239.0,1687.6 2241.0,1687.9 2243.0,1688.2 2245.0,1688.5 2247.0,1688.8 2249.0,1689.1 2251.0,1689.4 2253.0,1689.7 2255.0,1690.0 2257.0,1690.3 2259.0,1690.6 2261.0,1690.9 2263.0,1691.2 2265.0,1691.5 2267.0,1691.8 2269.0,1692.1 2271.0,1692.5 2273.0,1692.8 2275.0,1693.1 2277.0,1693.4 2279.0,1693.8 2281.0,1694.1 2283.0,1694.4 2285.0,1694.7 2287.0,1695.1 2289.0,1695.5 2291.0,1696.0 2293.0,1696.6 2295.0,1697.2 2297.0,1698.0 2299.0,1698.8 2301.0,1699.7 2303.0,1700.7 2305.0,1701.8 2307.0,1703.0 2309.0,1704.4 2311.0,1706.0 2313.0,1707.6 2315.0,1709.4" fill="none" stroke="#ff1010" stroke-width="3.4" stroke-linejoin="round"/>
<text transform="translate(347.7,1351.3) scale(0.9,1.033)" font-size="95" fill="#bdbdbd">P1</text>
<text transform="translate(494.1,1405.4) scale(1.0,1.04)" font-size="95" fill="#858585">P2</text>
<text transform="translate(1220.5,1525.2) scale(0.94,1.0)" font-size="95" fill="#000">P3</text>
<line x1="1090" y1="206" x2="1316" y2="206" stroke="#0A36FF" stroke-width="6.5"/>
<line x1="1090" y1="358" x2="1316" y2="358" stroke="#F7B416" stroke-width="6.5"/>
<text x="1336" y="238.5" font-size="99" fill="#000">red(400°C)-Pd/<tspan dx="-3" font-family="Liberation Serif" font-style="italic">γ</tspan><tspan dx="0">-</tspan><tspan dx="4">Al</tspan><tspan dx="-5" font-size="70" dy="28">2</tspan><tspan dx="-1.5" dy="-28">O</tspan><tspan font-size="70" dy="28">3</tspan></text>
<text x="1336" y="390.8" font-size="99" fill="#000">red(600°C)-Pd/<tspan dx="-3" font-family="Liberation Serif" font-style="italic">γ</tspan><tspan dx="0">-</tspan><tspan dx="4">Al</tspan><tspan dx="-5" font-size="70" dy="28">2</tspan><tspan dx="-1.5" dy="-28">O</tspan><tspan font-size="70" dy="28">3</tspan></text>
</g>
</svg></body></html>
